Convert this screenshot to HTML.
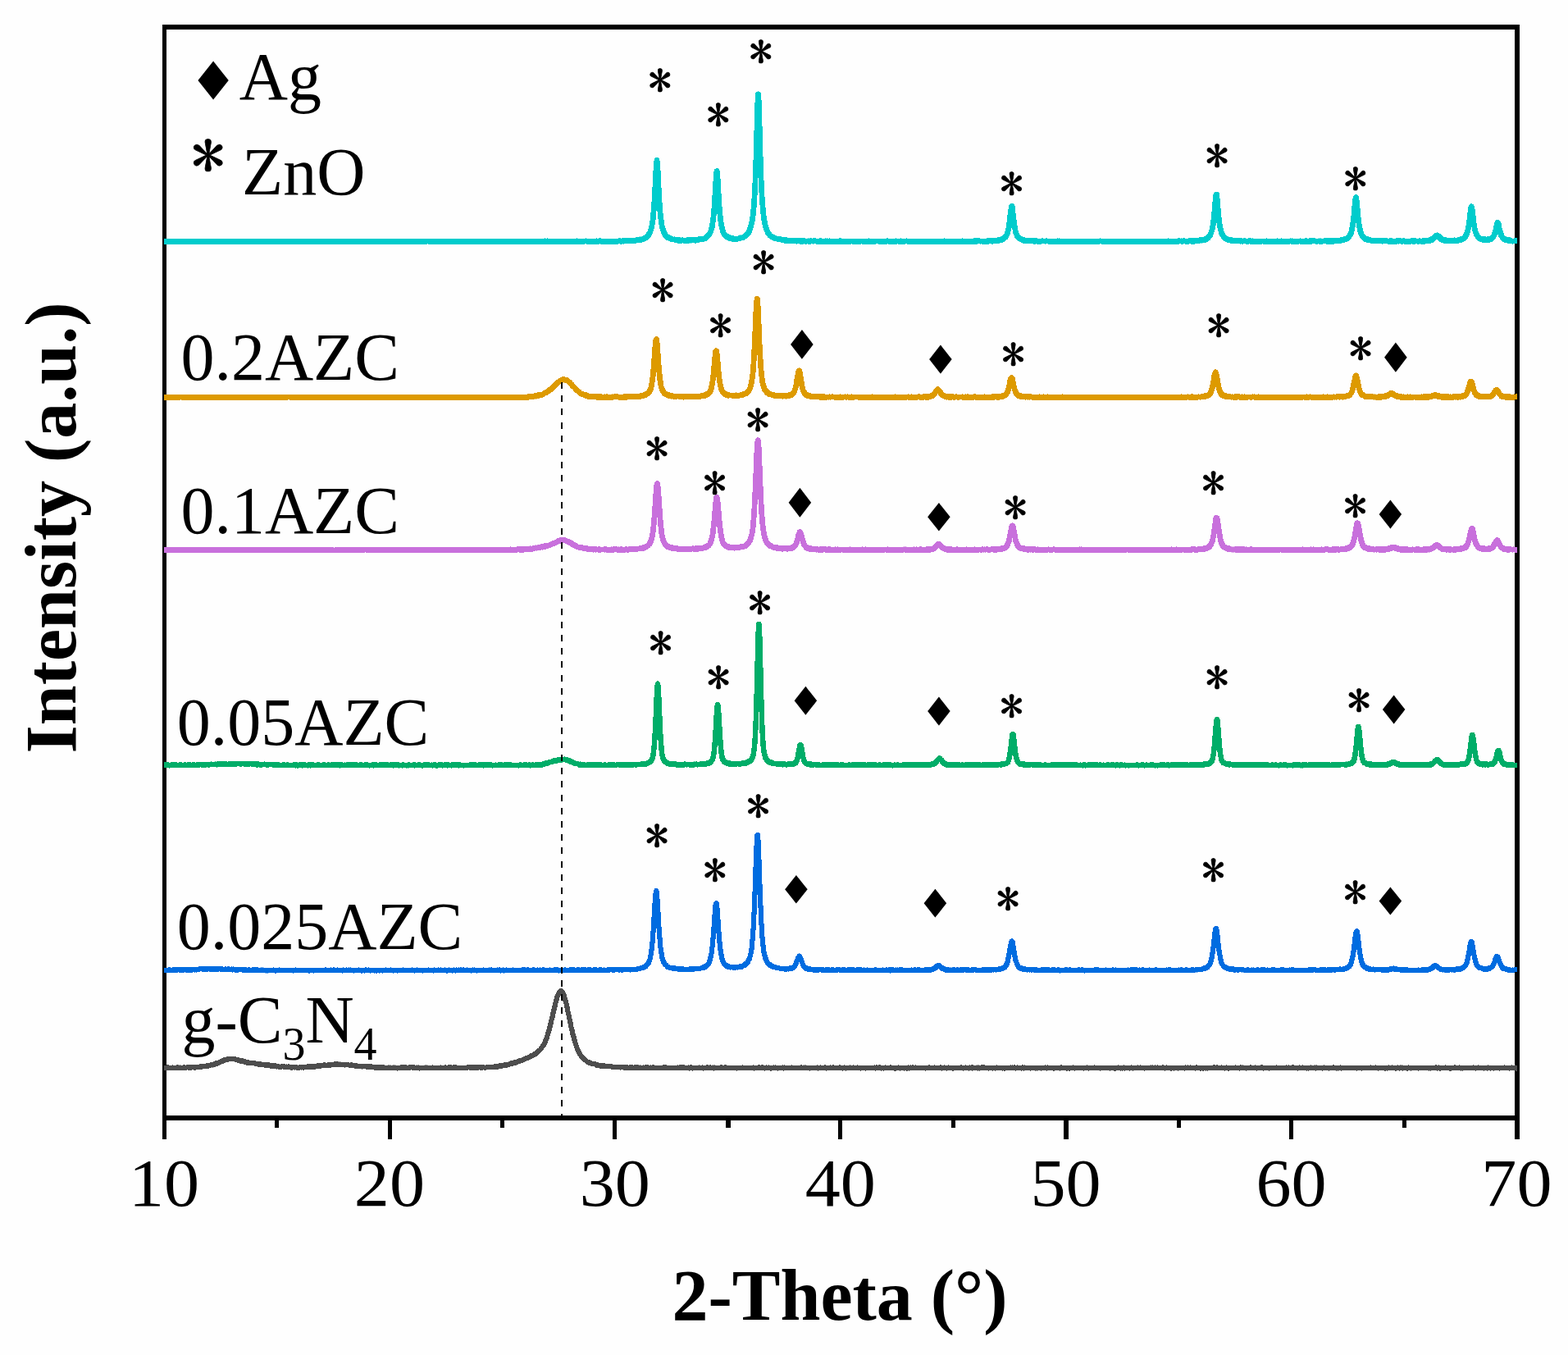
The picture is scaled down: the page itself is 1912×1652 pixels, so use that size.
<!DOCTYPE html><html><head><meta charset="utf-8"><title>XRD</title><style>html,body{margin:0;padding:0;background:#fefefe;overflow:hidden}svg{display:block}</style></head><body>
<svg xmlns="http://www.w3.org/2000/svg" width="1912" height="1652" viewBox="0 0 1912 1652" font-family="'Liberation Serif', serif">
<rect width="1912" height="1652" fill="#fefefe"/>
<g fill="#000">
<rect x="198" y="30" width="5" height="1336"/>
<rect x="1847" y="30" width="6" height="1336"/>
<rect x="198" y="30" width="1655" height="6"/>
<rect x="198" y="1360" width="1655" height="6"/>
<rect x="198" y="1366" width="5" height="23"/>
<rect x="335" y="1366" width="5" height="9"/>
<rect x="473" y="1366" width="5" height="23"/>
<rect x="610" y="1366" width="5" height="9"/>
<rect x="747" y="1366" width="5" height="23"/>
<rect x="885" y="1366" width="6" height="9"/>
<rect x="1022" y="1366" width="5" height="23"/>
<rect x="1160" y="1366" width="5" height="9"/>
<rect x="1297" y="1366" width="6" height="23"/>
<rect x="1435" y="1366" width="5" height="9"/>
<rect x="1572" y="1366" width="5" height="23"/>
<rect x="1710" y="1366" width="5" height="9"/>
<rect x="1847" y="1366" width="6" height="23"/>
</g>
<g font-size="82" text-anchor="middle" fill="#000">
<text transform="translate(200.0 1469.5) scale(1.05 1)">10</text>
<text transform="translate(474.9 1469.5) scale(1.05 1)">20</text>
<text transform="translate(749.8 1469.5) scale(1.05 1)">30</text>
<text transform="translate(1024.7 1469.5) scale(1.05 1)">40</text>
<text transform="translate(1299.6 1469.5) scale(1.05 1)">50</text>
<text transform="translate(1574.5 1469.5) scale(1.05 1)">60</text>
<text transform="translate(1849.4 1469.5) scale(1.05 1)">70</text>
</g>
<text x="1024" y="1609" font-size="88" font-weight="bold" text-anchor="middle">2-Theta (&#176;)</text>
<text transform="translate(92 643.5) rotate(-90)" font-size="88" font-weight="bold" text-anchor="middle">Intensity (a.u.)</text>
<path fill="#00cccc" shape-rendering="crispEdges" d="M200.0,291.47l.5,0l1,-.02l1,-.48l1,-.15l1,.15l1,.07l1,.14l1,-.38l1,-.16l1,-.07l1,.15l1,.3l1,-.33l1,-.15l1,.15l1,.25l1,-.15l1,.15l1,-.21l1,-.16l1,0l1,.15l1,.39l1,-.2l1,-.13l1,-.06l1,-.15l1,.14l1,.22l1,.02l1,-.15l1,-.01l1,-.01l1,.15l1,-.22l1,-.15l1,.15l1,.44l1,-.25l1,-.15l1,.15l1,-.08l1,-.15l1,.15l1,.24l1,.26l1,-.16l1,-.16l1,.16l1,-.14l1,-.15l1,.15l1,.32l1,-.09l1,-.15l1,-.37l1,-.15l1,.14l1,.24l1,-.08l1,-.15l1,.15l1,.38l1,-.16l1,-.15l1,.06l1,.08l1,.16l1,-.17l1,-.11l1,-.25l1,-.15l1,.02l1,.15l1,.5l1,-.13l1,-.24l1,-.14l1,.15l1,.36l1,.04l1,-.15l1,-.18l1,-.16l1,.16l1,.3l1,-.1l1,-.18l1,-.13l1,.15l1,-.29l1,-.15l1,.15l1,.5l1,.27l1,-.12l1,-.09l1,-.15l1,.01l1,-.37l1,-.15l1,.15l1,.16l1,-.15l1,.15l1,.13l1,-.11l1,-.01l1,.14l1,.15l1,-.06l1,-.43l1,-.15l1,.14l1,.02l1,.15l1,.42l1,.12l1,-.01l1,-.44l1,-.15l1,.15l1,-.19l1,-.16l1,-.06l1,-.01l1,.15l1,.07l1,-.11l1,.15l1,-.05l1,-.15l1,.09l1,.16l1,-.14l1,.09l1,.18l1,.01l1,-.11l1,-.18l1,-.15l1,.15l1,.18l1,-.16l1,-.07l1,.15l1,.11l1,-.15l1,.15l1,-.21l1,-.15l1,0l1,.1l1,.19l1,-.14l1,.15l1,.39l1,-.32l1,-.15l1,.15l1,.32l1,-.32l1,-.15l1,.15l1,.04l1,.07l1,-.15l1,-.14l1,-.15l1,.15l1,.26l1,.01l1,-.15l1,.15l1,-.14l1,.15l1,.11l1,-.2l1,-.25l1,-.15l1,.15l1,-.11l1,.15l1,.5l1,-.36l1,-.15l1,.15l1,.5l1,-.14l1,-.17l1,-.11l1,-.07l1,-.12l1,.15l1,-.02l1,-.16l1,-.08l1,.15l1,.06l1,.14l1,-.11l1,.15l1,-.34l1,-.15l1,.14l1,.17l1,.18l1,.02l1,-.19l1,-.1l1,.15l1,.45l1,-.31l1,-.15l1,.15l1,.15l1,-.14l1,-.13l1,-.15l1,-.01l1,-.15l1,.07l1,.17l1,-.1l1,.15l1,.27l1,-.1l1,-.16l1,-.03l1,-.05l1,.15l1,.2l1,.13l1,-.5l1,-.15l1,.12l1,-.16l1,-.07l1,.04l1,.15l1,.5l1,-.2l1,-.15l1,.15l1,.04l1,-.15l1,-.02l1,-.2l1,-.11l1,.13l1,.22l1,.18l1,.03l1,-.21l1,-.14l1,.15l1,-.29l1,-.15l1,.15l1,-.06l1,.02l1,.07l1,-.15l1,.14l1,.23l1,-.13l1,-.15l1,.05l1,.07l1,.01l1,-.15l1,.15l1,.15l1,.15l1,-.09l1,-.15l1,-.04l1,-.02l1,-.15l1,.08l1,-.15l1,-.03l1,.15l1,.16l1,.15l1,-.02l1,-.24l1,-.15l1,.16l1,.5l1,-.45l1,-.15l1,.09l1,.17l1,.36l1,-.15l1,.12l1,-.28l1,-.15l1,.15l1,-.11l1,-.11l1,-.13l1,.14l1,.23l1,.04l1,.14l1,.07l1,-.13l1,-.16l1,-.08l1,.02l1,-.01l1,.15l1,-.02l1,-.15l1,.04l1,.14l1,.13l1,-.22l1,-.25l1,-.15l1,.15l1,-.09l1,.15l1,-.15l1,0l1,.15l1,.09l1,.15l1,.07l1,-.22l1,-.15l1,.15l1,-.09l1,-.15l1,.15l1,-.04l1,.15l1,.49l1,-.33l1,-.24l1,-.15l1,.15l1,.21l1,-.15l1,-.02l1,-.15l1,.03l1,-.15l1,.15l1,.31l1,.39l1,.09l1,-.07l1,-.09l1,-.47l1,-.15l1,.13l1,-.15l1,.15l1,.1l1,-.22l1,-.14l1,.15l1,.5l1,-.11l1,-.01l1,.05l1,-.16l1,-.06l1,-.07l1,-.19l1,-.14l1,.15l1,.28l1,-.24l1,-.15l1,.15l1,-.07l1,-.02l1,.11l1,.19l1,0l1,.01l1,-.04l1,-.25l1,-.15l1,.15l1,.39l1,.08l1,-.14l1,.14l1,-.22l1,-.15l1,.15l1,-.01l1,-.15l1,.13l1,.19l1,.2l1,-.32l1,-.15l1,-.1l1,-.15l1,.03l1,.15l1,.09l1,-.15l1,.15l1,.17l1,-.15l1,.15l1,.06l1,-.15l1,.15l1,.21l1,-.11l1,.15l1,.17l1,-.22l1,-.42l1,-.15l1,.07l1,-.02l1,.15l1,-.19l1,-.15l1,.15l1,.33l1,-.15l1,-.05l1,-.15l1,.01l1,-.15l1,.15l1,.5l1,-.26l1,-.15l1,.15l1,-.14l1,-.15l1,.15l1,.5l1,-.08l1,-.09l1,-.15l1,.15l1,-.07l1,-.15l1,.15l1,-.24l1,-.15l1,.1l1,-.14l1,.15l1,-.01l1,-.15l1,.15l1,-.01l1,-.15l1,.13l1,.01l1,-.12l1,-.15l1,.14l1,.03l1,-.15l1,.15l1,.49l1,-.29l1,-.15l1,.07l1,.15l1,-.15l1,.12l1,-.15l1,.15l1,.42l1,.04l1,-.14l1,-.16l1,-.05l1,.15l1,.07l1,-.21l1,-.16l1,-.15l1,-.14l1,.15l1,-.14l1,.15l1,.32l1,.15l1,.04l1,-.5l1,-.15l1,.15l1,.19l1,-.15l1,.13l1,-.09l1,-.24l1,-.15l1,.15l1,.29l1,-.12l1,.09l1,.16l1,.08l1,-.13l1,.01l1,-.21l1,-.21l1,-.14l1,.15l1,.29l1,.35l1,-.1l1,-.16l1,.09l1,-.15l1,.09l1,-.15l1,.15l1,-.13l1,-.19l1,-.12l1,.15l1,.17l1,-.37l1,-.15l1,.15l1,.3l1,-.03l1,.15l1,.03l1,.12l1,.16l1,-.26l1,-.15l1,.14l1,0l1,0l1,-.14l1,-.15l1,.14l1,.08l1,.16l1,-.02l1,.04l1,-.09l1,-.06l1,-.3l1,-.17l1,-.09l1,.15l1,.21l1,-.43l1,-.15l1,.15l1,.16l1,-.4l1,-.15l1,.15l1,.3l1,-.18l1,-.09l1,-.33l1,-.15l1,.15l1,.44l1,-.3l1,-.15l1,.1l1,-.47l1,-.17l1,-.11l1,-.1l1,-.39l1,-.15l1,.15l1,-.43l1,-.47l1,-.5l1,-.48l1,-.78l1,-.98l1,-1.47l1,-1.47l1,-3.41l1,-3.94l1,-5.75l1,-9.32l1,-13.41l1,-18.16l1,-20.32l1,-12.01l1,-2.71l1,-.75l1,-.31l1,0l1,.31l1,.75l1,2.67l1,12.5l1,21.07l1,17.94l1,13.05l1,8.19l1,6.18l1,3.81l1,3.1l1,1.76l1,2.02l1,.61l1,.5l1,.56l1,.45l1,.39l1,.51l1,.27l1,-.06l1,.15l1,.25l1,.16l1,.38l1,-.34l1,-.16l1,.16l1,.45l1,-.15l1,.08l1,.16l1,.09l1,-.15l1,.15l1,-.26l1,-.15l1,-.02l1,-.15l1,.09l1,.03l1,-.15l1,.14l1,-.15l1,.15l1,.12l1,-.5l1,-.16l1,-.06l1,-.12l1,-.15l1,-.09l1,-.25l1,-.3l1,-.15l1,0l1,-.68l1,-.79l1,-.61l1,-1.15l1,-1.25l1,-2.3l1,-3.63l1,-4.77l1,-7.22l1,-11.27l1,-15.62l1,-17.08l1,-11.83l1,-3.04l1,-.81l1,-.35l1,-.03l1,.28l1,.69l1,2.15l1,9.59l1,17.82l1,16.45l1,10.94l1,7.7l1,5.69l1,3.41l1,2.66l1,1.23l1,.91l1,.69l1,.84l1,.18l1,.46l1,-.04l1,.15l1,.49l1,.15l1,.39l1,-.06l1,-.14l1,0l1,-.67l1,-.5l1,-.15l1,.08l1,-.14l1,-.53l1,-.97l1,-.73l1,-1.27l1,-1.25l1,-1.98l1,-2.21l1,-2.88l1,-4.64l1,-6.03l1,-8.66l1,-13.06l1,-19.02l1,-28.26l1,-36.16l1,-33.71l1,-11.85l1,-1.15l1,-.5l1,-.15l1,.15l1,.5l1,1.15l1,8.48l1,32.19l1,36.96l1,28.85l1,20.17l1,13.48l1,9.77l1,6.2l1,5.07l1,3.01l1,2.73l1,1.5l1,1.7l1,1.31l1,.66l1,.77l1,.48l1,.51l1,.38l1,.19l1,.14l1,.15l1,.44l1,-.11l1,.15l1,.32l1,.25l1,.37l1,-.14l1,.15l1,0l1,.15l1,.36l1,.11l1,-.14l1,.15l1,.02l1,.15l1,-.04l1,.15l1,-.32l1,-.15l1,.07l1,.16l1,-.04l1,-.13l1,.15l1,.28l1,.24l1,-.16l1,.16l1,-.28l1,-.15l1,.15l1,.48l1,-.07l1,-.06l1,-.13l1,.15l1,-.22l1,-.15l1,.15l1,.22l1,-.16l1,-.15l1,.12l1,.08l1,.14l1,.24l1,.28l1,-.17l1,-.49l1,-.16l1,.16l1,.25l1,-.15l1,.14l1,-.17l1,-.15l1,.15l1,-.15l1,.15l1,.13l1,-.15l1,.15l1,.09l1,.15l1,-.12l1,-.15l1,.14l1,.24l1,-.3l1,-.15l1,.15l1,0l1,-.21l1,-.15l1,.15l1,.5l1,.22l1,-.41l1,-.15l1,.15l1,.04l1,.15l1,-.22l1,-.15l1,.05l1,.15l1,-.15l1,-.15l1,.06l1,.16l1,.3l1,.08l1,-.15l1,-.26l1,-.15l1,.15l1,-.01l1,.14l1,-.15l1,-.05l1,.12l1,.13l1,-.11l1,-.02l1,-.15l1,.15l1,.33l1,-.46l1,-.15l1,.15l1,.3l1,.2l1,.13l1,-.34l1,-.15l1,.13l1,-.19l1,-.14l1,.01l1,.08l1,-.13l1,.15l1,.45l1,-.07l1,-.22l1,-.15l1,-.03l1,.15l1,.21l1,-.42l1,-.15l1,.02l1,.15l1,.07l1,-.15l1,.11l1,.19l1,.13l1,-.15l1,.15l1,-.34l1,-.15l1,.15l1,-.02l1,.09l1,.18l1,-.23l1,-.15l1,.04l1,.15l1,-.12l1,.14l1,-.06l1,-.14l1,-.02l1,.1l1,.17l1,.29l1,-.18l1,-.15l1,.15l1,-.11l1,.15l1,-.1l1,.15l1,-.11l1,.15l1,.16l1,.11l1,-.14l1,-.07l1,-.15l1,.15l1,.06l1,-.08l1,.04l1,-.07l1,-.12l1,.15l1,.1l1,-.47l1,-.15l1,.15l1,-.02l1,.04l1,.15l1,.04l1,-.15l1,.02l1,.15l1,.06l1,-.24l1,-.15l1,.15l1,.29l1,.04l1,0l1,.15l1,-.07l1,-.5l1,-.15l1,.15l1,.13l1,-.15l1,.14l1,-.15l1,.15l1,-.07l1,.15l1,.12l1,-.15l1,-.05l1,-.15l1,.15l1,.09l1,-.14l1,-.15l1,.15l1,.01l1,.15l1,.2l1,-.5l1,-.15l1,.15l1,.5l1,-.1l1,-.15l1,.13l1,.09l1,-.15l1,.15l1,-.07l1,-.14l1,.13l1,-.15l1,-.26l1,-.15l1,.12l1,-.15l1,.09l1,-.15l1,.03l1,.06l1,.03l1,.15l1,.04l1,-.09l1,.15l1,.37l1,-.15l1,.11l1,-.48l1,-.15l1,.08l1,-.15l1,.15l1,-.21l1,-.15l1,.15l1,0l1,-.15l1,.03l1,-.15l1,.15l1,-.31l1,-.5l1,-.16l1,-.03l1,-.5l1,-.21l1,-.64l1,-.55l1,-1.01l1,-1.53l1,-3.07l1,-3.81l1,-6.73l1,-8.69l1,-7.74l1,-4.5l1,-1.45l1,-.58l1,-.22l1,.09l1,.42l1,.96l1,2.12l1,8.3l1,8.67l1,7.05l1,5.27l1,2.86l1,2.05l1,1.45l1,.78l1,.28l1,.5l1,.09l1,.25l1,.5l1,.42l1,-.15l1,.15l1,.19l1,.1l1,-.07l1,-.14l1,.15l1,.15l1,-.12l1,.15l1,.03l1,-.13l1,.15l1,.44l1,.13l1,-.11l1,-.13l1,-.21l1,-.14l1,.11l1,.13l1,-.05l1,.03l1,-.15l1,-.01l1,.11l1,-.02l1,.16l1,.02l1,-.15l1,.15l1,.26l1,.03l1,-.08l1,-.19l1,-.14l1,.03l1,-.15l1,.14l1,-.15l1,.15l1,.21l1,.15l1,-.27l1,-.15l1,.1l1,-.15l1,.13l1,.17l1,-.06l1,.15l1,.08l1,-.15l1,.01l1,-.15l1,.15l1,-.01l1,-.13l1,-.15l1,.15l1,-.02l1,.15l1,-.05l1,.15l1,.18l1,.03l1,-.25l1,-.22l1,-.14l1,.15l1,.13l1,.15l1,.25l1,-.48l1,-.15l1,.15l1,.16l1,-.15l1,-.04l1,.06l1,-.15l1,.15l1,.49l1,-.2l1,-.15l1,-.13l1,-.15l1,.15l1,-.14l1,-.15l1,.1l1,.11l1,.16l1,.04l1,.1l1,-.07l1,-.15l1,.15l1,.3l1,-.04l1,-.15l1,.15l1,.28l1,-.37l1,-.19l1,-.18l1,-.13l1,.15l1,-.12l1,.15l1,-.09l1,-.15l1,.12l1,.21l1,.21l1,.15l1,-.49l1,-.15l1,.09l1,-.15l1,.15l1,.29l1,.15l1,-.28l1,-.15l1,.15l1,.01l1,-.15l1,.12l1,.21l1,.17l1,-.5l1,-.15l1,.15l1,.28l1,-.16l1,-.16l1,-.03l1,.15l1,-.12l1,-.14l1,.15l1,.45l1,-.07l1,-.15l1,.15l1,.29l1,-.03l1,-.27l1,-.15l1,.15l1,-.07l1,.15l1,-.07l1,.07l1,-.16l1,-.05l1,.02l1,-.2l1,-.13l1,.15l1,.13l1,-.15l1,.15l1,.4l1,-.26l1,-.15l1,.15l1,.1l1,-.45l1,-.15l1,.03l1,-.15l1,.15l1,.19l1,.03l1,.13l1,.14l1,-.07l1,-.1l1,.12l1,-.03l1,-.15l1,.04l1,-.41l1,-.15l1,.12l1,.16l1,-.08l1,.05l1,-.16l1,-.05l1,.13l1,.21l1,.21l1,.29l1,-.43l1,-.49l1,-.15l1,-.01l1,.15l1,.11l1,-.15l1,.15l1,.07l1,-.06l1,-.5l1,-.15l1,.02l1,.06l1,-.32l1,-.15l1,.07l1,-.22l1,-.29l1,-.17l1,-.58l1,-.38l1,-.73l1,-.85l1,-1.11l1,-2.2l1,-3.17l1,-4.38l1,-7.05l1,-9.98l1,-12.32l1,-9.08l1,-1.67l1,-.97l1,-.5l1,-.15l1,.15l1,.5l1,1.15l1,6.16l1,12.13l1,10.87l1,8.17l1,5.61l1,3.39l1,2.77l1,1.27l1,1.54l1,.62l1,.47l1,.29l1,.01l1,.15l1,.5l1,.08l1,.16l1,.35l1,.39l1,.03l1,-.07l1,-.13l1,.09l1,.18l1,-.14l1,-.16l1,-.15l1,.15l1,.43l1,-.3l1,-.15l1,.15l1,.37l1,.3l1,-.35l1,-.18l1,-.1l1,.05l1,.16l1,.05l1,-.15l1,.15l1,.49l1,-.34l1,-.15l1,.15l1,-.03l1,-.15l1,.15l1,.22l1,-.01l1,-.14l1,-.07l1,.11l1,.13l1,-.04l1,-.27l1,-.15l1,.11l1,.18l1,.31l1,.01l1,-.25l1,-.15l1,.1l1,-.14l1,-.06l1,.15l1,.34l1,-.5l1,-.15l1,.15l1,.19l1,.14l1,-.29l1,-.15l1,.15l1,.36l1,.17l1,-.22l1,-.14l1,.15l1,-.03l1,-.15l1,.13l1,-.29l1,-.15l1,.15l1,-.07l1,.15l1,.31l1,.15l1,.11l1,0l1,-.38l1,-.15l1,.07l1,-.15l1,-.11l1,.15l1,.03l1,-.15l1,.15l1,-.08l1,-.16l1,-.07l1,.06l1,.16l1,-.01l1,-.16l1,-.06l1,.15l1,-.01l1,-.15l1,-.01l1,.13l1,.06l1,.09l1,.1l1,-.16l1,-.02l1,-.04l1,.15l1,-.14l1,.15l1,.02l1,-.11l1,-.22l1,-.16l1,.13l1,.19l1,-.02l1,-.16l1,-.07l1,.01l1,-.15l1,.15l1,-.06l1,-.15l1,.06l1,-.2l1,-.13l1,.14l1,.06l1,.08l1,-.15l1,-.09l1,-.5l1,-.16l1,-.22l1,-.15l1,-.38l1,-.46l1,-.13l1,-.91l1,-1.23l1,-1.49l1,-2.19l1,-4.51l1,-6.25l1,-8.32l1,-11.7l1,-9.27l1,-3.29l1,-1.04l1,-.46l1,-.12l1,.18l1,.54l1,1.28l1,4.81l1,10.43l1,10.92l1,8.06l1,5.16l1,3.58l1,2.75l1,1.28l1,.81l1,.89l1,.3l1,.3l1,.44l1,.24l1,.38l1,.37l1,.16l1,.15l1,.04l1,-.04l1,.16l1,.13l1,-.05l1,.06l1,-.1l1,-.08l1,-.15l1,.12l1,.18l1,-.15l1,.09l1,-.01l1,.06l1,-.15l1,.15l1,.35l1,.22l1,-.46l1,-.15l1,.15l1,-.01l1,.12l1,.2l1,.26l1,-.08l1,-.5l1,-.15l1,.15l1,.03l1,-.15l1,.02l1,.15l1,.1l1,-.16l1,-.06l1,.14l1,.28l1,.12l1,.15l1,-.11l1,.11l1,-.16l1,-.1l1,-.3l1,-.15l1,-.01l1,.15l1,-.07l1,-.15l1,.12l1,.16l1,.01l1,.06l1,-.16l1,.04l1,.13l1,-.06l1,-.15l1,-.25l1,-.06l1,.14l1,.12l1,-.15l1,.01l1,-.31l1,-.42l1,-.38l1,-.65l1,-.6l1,-1.14l1,-.59l1,-1.11l1,-.87l1,-.38l1,-.22l1,-.06l1,.24l1,.64l1,.4l1,.54l1,.96l1,1.05l1,.84l1,.71l1,.49l1,.15l1,-.03l1,.09l1,.24l1,0l1,-.15l1,.05l1,.19l1,-.15l1,.15l1,-.31l1,-.15l1,.09l1,.16l1,-.13l1,-.32l1,-.25l1,-.33l1,-.24l1,-.45l1,-.41l1,-.63l1,-1.53l1,-1.95l1,-3.44l1,-4.85l1,-7.01l1,-8.58l1,-7.17l1,-2.55l1,-.96l1,-.42l1,-.09l1,.21l1,.59l1,1.45l1,4.05l1,8.58l1,8.48l1,6.01l1,4.09l1,2.5l1,1.6l1,1.12l1,.7l1,.24l1,.24l1,.21l1,-.02l1,.06l1,.05l1,-.09l1,-.07l1,-.15l1,-.46l1,-.74l1,-1.02l1,-2.73l1,-3.38l1,-4.67l1,-4.2l1,-1.81l1,-.95l1,-.42l1,-.09l1,.21l1,.59l1,1.38l1,2.26l1,5.37l1,3.9l1,2.94l1,2.27l1,1.08l1,.65l1,.47l1,.15l1,.22l1,.16l1,.1l1,.38l1,.54l1,.15l1,.04l1,-.46l1,-.16l1,.16l1,.34l.5,0l0,6.8l-.5,0l-1,0l-1,-.1l-1,.19l-1,.12l-1,.07l-1,-.15l-1,-.09l-1,-.09l-1,-.16l-1,-.13l-1,-.38l-1,-.15l-1,-.43l-1,-.13l-1,-.24l-1,-.62l-1,-.33l-1,-.5l-1,-1.14l-1,-1.2l-1,-1.33l-1,-1.99l-1,-2.86l-1,1.12l-1,2.69l-1,1.43l-1,1.19l-1,1.38l-1,.71l-1,.5l-1,.52l-1,.22l-1,.2l-1,.38l-1,.06l-1,-.08l-1,.06l-1,-.1l-1,.08l-1,.03l-1,-.09l-1,-.3l-1,-.37l-1,-.13l-1,-.4l-1,-.63l-1,-.28l-1,-.64l-1,-.86l-1,-1.34l-1,-1.76l-1,-1.48l-1,-2.46l-1,-3.46l-1,-4.67l-1,2.7l-1,4.53l-1,2.88l-1,2.22l-1,1.15l-1,1.43l-1,.88l-1,.66l-1,.88l-1,.38l-1,.5l-1,.4l-1,.21l-1,.16l-1,.3l-1,.21l-1,-.09l-1,.38l-1,.15l-1,-.15l-1,.09l-1,.15l-1,-.15l-1,-.34l-1,.15l-1,.24l-1,.2l-1,-.01l-1,-.12l-1,.2l-1,-.06l-1,-.17l-1,-.06l-1,-.39l-1,-.49l-1,-.06l-1,-.38l-1,-.47l-1,-.71l-1,-.78l-1,-1.1l-1,-1.15l-1,.54l-1,.87l-1,.95l-1,.62l-1,1.03l-1,.5l-1,.2l-1,.42l-1,.5l-1,.15l-1,.1l-1,-.06l-1,.03l-1,-.01l-1,.35l-1,.09l-1,-.22l-1,.2l-1,.15l-1,-.15l-1,-.44l-1,.39l-1,.15l-1,-.15l-1,-.38l-1,-.04l-1,.5l-1,.15l-1,-.14l-1,-.22l-1,-.26l-1,.16l-1,.09l-1,.29l-1,.15l-1,-.03l-1,.15l-1,-.15l-1,-.13l-1,-.15l-1,-.43l-1,.22l-1,.15l-1,-.13l-1,-.23l-1,.11l-1,.15l-1,-.11l-1,.5l-1,.16l-1,-.16l-1,-.02l-1,-.15l-1,-.29l-1,.04l-1,.15l-1,.08l-1,.15l-1,-.14l-1,-.16l-1,-.16l-1,-.29l-1,.12l-1,-.15l-1,-.07l-1,.41l-1,.15l-1,-.15l-1,-.45l-1,.15l-1,-.1l-1,.1l-1,-.08l-1,.16l-1,.15l-1,-.15l-1,-.21l-1,.15l-1,-.15l-1,-.08l-1,-.15l-1,-.47l-1,-.08l-1,.03l-1,-.28l-1,-.25l-1,-.28l-1,-.55l-1,-.43l-1,-.46l-1,-.89l-1,-.69l-1,-1.38l-1,-1.17l-1,-1.6l-1,-2.39l-1,-2.98l-1,-5.11l-1,-5.68l-1,4.8l-1,4.9l-1,3.72l-1,2.36l-1,1.4l-1,1.8l-1,.99l-1,.85l-1,.81l-1,.64l-1,.35l-1,.03l-1,.58l-1,.61l-1,.34l-1,.03l-1,-.21l-1,.39l-1,.27l-1,.15l-1,-.15l-1,.12l-1,-.12l-1,-.05l-1,.12l-1,.5l-1,.15l-1,-.01l-1,.15l-1,-.05l-1,.03l-1,.15l-1,-.15l-1,-.08l-1,.15l-1,-.09l-1,-.18l-1,-.2l-1,.15l-1,-.03l-1,.14l-1,.1l-1,.24l-1,.15l-1,-.15l-1,-.5l-1,.16l-1,.15l-1,-.14l-1,-.21l-1,0l-1,-.13l-1,.14l-1,.23l-1,.15l-1,-.15l-1,.36l-1,.15l-1,-.1l-1,-.18l-1,-.22l-1,.5l-1,.15l-1,-.05l-1,-.15l-1,-.3l-1,.01l-1,-.15l-1,-.12l-1,.15l-1,.5l-1,.15l-1,-.15l-1,-.08l-1,.1l-1,-.15l-1,-.26l-1,-.15l-1,-.05l-1,-.15l-1,.26l-1,.15l-1,-.11l-1,.15l-1,.02l-1,-.15l-1,.3l-1,.15l-1,-.15l-1,-.34l-1,.12l-1,.15l-1,-.13l-1,.01l-1,.15l-1,.04l-1,.15l-1,-.03l-1,.14l-1,-.15l-1,-.5l-1,-.01l-1,.11l-1,.15l-1,-.02l-1,.2l-1,.15l-1,-.15l-1,-.09l-1,.15l-1,-.15l-1,-.23l-1,-.1l-1,-.13l-1,.12l-1,.14l-1,.05l-1,.15l-1,-.15l-1,.19l-1,.15l-1,-.15l-1,-.03l-1,.15l-1,-.15l-1,-.3l-1,.29l-1,.15l-1,-.15l-1,-.5l-1,.31l-1,.15l-1,-.09l-1,-.17l-1,-.24l-1,-.3l-1,.37l-1,.15l-1,-.02l-1,-.15l-1,.11l-1,-.15l-1,-.1l-1,-.14l-1,-.18l-1,.13l-1,.05l-1,.12l-1,-.15l-1,-.34l-1,-.18l-1,.15l-1,-.15l-1,-.49l-1,-.19l-1,-.12l-1,-.22l-1,-.32l-1,-.42l-1,-.5l-1,-.79l-1,-.56l-1,-.69l-1,-1.33l-1,-1.66l-1,-1.25l-1,-2.41l-1,-3.77l-1,-3.91l-1,-6.25l-1,3.32l-1,4.84l-1,3.5l-1,2.97l-1,2.62l-1,1.43l-1,1.03l-1,1.15l-1,.64l-1,.64l-1,.75l-1,.5l-1,.46l-1,.25l-1,.06l-1,-.06l-1,.5l-1,.16l-1,-.16l-1,.26l-1,.5l-1,.15l-1,-.15l-1,-.1l-1,.15l-1,.01l-1,.39l-1,.15l-1,-.15l-1,.07l-1,-.12l-1,-.2l-1,.07l-1,.29l-1,.21l-1,.13l-1,-.13l-1,-.19l-1,-.31l-1,-.03l-1,.5l-1,.15l-1,-.15l-1,-.45l-1,-.08l-1,.5l-1,.15l-1,-.15l-1,.07l-1,.15l-1,-.14l-1,-.2l-1,.08l-1,.06l-1,-.08l-1,-.14l-1,.38l-1,.15l-1,-.15l-1,-.2l-1,-.14l-1,.25l-1,.23l-1,.15l-1,-.16l-1,-.08l-1,.03l-1,.07l-1,-.15l-1,.14l-1,-.15l-1,-.28l-1,0l-1,.16l-1,-.13l-1,.34l-1,.15l-1,-.12l-1,.15l-1,-.15l-1,.12l-1,-.15l-1,-.05l-1,.13l-1,.04l-1,.13l-1,-.15l-1,.03l-1,.12l-1,-.15l-1,-.46l-1,.38l-1,.15l-1,-.15l-1,-.08l-1,.15l-1,-.07l-1,.15l-1,-.15l-1,.1l-1,.14l-1,-.09l-1,-.18l-1,-.39l-1,.15l-1,-.01l-1,-.04l-1,.39l-1,.15l-1,-.15l-1,-.44l-1,.13l-1,.15l-1,.1l-1,.15l-1,.02l-1,-.15l-1,.04l-1,-.15l-1,-.4l-1,.17l-1,.09l-1,.15l-1,.15l-1,-.15l-1,-.42l-1,.35l-1,.23l-1,.14l-1,-.09l-1,-.11l-1,.15l-1,-.15l-1,-.16l-1,-.15l-1,.12l-1,-.11l-1,.13l-1,.15l-1,-.15l-1,-.49l-1,-.02l-1,.45l-1,.15l-1,.08l-1,.15l-1,-.15l-1,.04l-1,-.05l-1,.14l-1,-.15l-1,-.29l-1,-.15l-1,.14l-1,.25l-1,.14l-1,-.15l-1,.11l-1,.15l-1,-.12l-1,-.17l-1,.15l-1,-.15l-1,-.09l-1,.15l-1,-.11l-1,.03l-1,.14l-1,-.15l-1,-.23l-1,.24l-1,.15l-1,-.15l-1,-.17l-1,.04l-1,.15l-1,-.01l-1,.15l-1,0l-1,.15l-1,-.15l-1,-.35l-1,-.17l-1,-.11l-1,.13l-1,.15l-1,-.1l-1,.16l-1,.09l-1,-.09l-1,.15l-1,-.12l-1,.15l-1,-.15l-1,-.03l-1,-.15l-1,-.07l-1,.13l-1,.18l-1,.15l-1,-.15l-1,-.38l-1,.28l-1,.15l-1,-.15l-1,-.47l-1,-.11l-1,.16l-1,.15l-1,-.13l-1,-.02l-1,-.09l-1,-.1l-1,.4l-1,.15l-1,-.1l-1,.12l-1,.04l-1,-.15l-1,-.33l-1,.18l-1,.15l-1,-.15l-1,-.39l-1,-.04l-1,-.15l-1,.06l-1,.02l-1,-.1l-1,-.03l-1,-.15l-1,.17l-1,.12l-1,-.15l-1,-.25l-1,-.15l-1,-.22l-1,-.5l-1,-.44l-1,-.38l-1,-.65l-1,-.5l-1,-.59l-1,-1.33l-1,-1.02l-1,-1.35l-1,-2.68l-1,-2.17l-1,-4.79l-1,-2.34l-1,4.44l-1,3.75l-1,2.13l-1,2.16l-1,1.52l-1,.88l-1,1.01l-1,.79l-1,.64l-1,.25l-1,.56l-1,.25l-1,.15l-1,.37l-1,.09l-1,.2l-1,.37l-1,.15l-1,-.15l-1,.16l-1,.15l-1,.03l-1,.15l-1,-.08l-1,-.17l-1,-.1l-1,.15l-1,.19l-1,.15l-1,-.09l-1,.15l-1,.01l-1,.01l-1,.16l-1,.09l-1,-.15l-1,-.46l-1,.13l-1,-.15l-1,-.26l-1,.03l-1,.5l-1,.15l-1,-.15l-1,-.09l-1,.02l-1,.15l-1,.22l-1,.15l-1,-.15l-1,-.14l-1,.14l-1,-.03l-1,.15l-1,-.15l-1,-.25l-1,.31l-1,.15l-1,.04l-1,-.15l-1,-.15l-1,.14l-1,-.11l-1,-.18l-1,.08l-1,-.15l-1,-.02l-1,.3l-1,.15l-1,-.1l-1,.15l-1,-.15l-1,.11l-1,-.01l-1,-.1l-1,.15l-1,-.11l-1,.15l-1,-.15l-1,-.11l-1,-.15l-1,.01l-1,.15l-1,.07l-1,.11l-1,-.15l-1,-.16l-1,.1l-1,-.15l-1,-.27l-1,.16l-1,.07l-1,.06l-1,-.15l-1,.02l-1,.15l-1,-.1l-1,-.17l-1,.08l-1,.15l-1,-.11l-1,.17l-1,.22l-1,.15l-1,-.15l-1,-.25l-1,.03l-1,-.02l-1,.09l-1,.06l-1,.06l-1,.15l-1,-.15l-1,.12l-1,-.14l-1,.09l-1,.01l-1,.15l-1,-.15l-1,-.32l-1,.03l-1,.15l-1,-.15l-1,.27l-1,.15l-1,-.15l-1,-.48l-1,-.33l-1,.09l-1,.15l-1,.04l-1,.3l-1,.15l-1,-.15l-1,-.05l-1,.17l-1,.08l-1,-.15l-1,-.47l-1,.13l-1,.06l-1,.16l-1,.08l-1,.27l-1,.15l-1,-.15l-1,-.33l-1,-.08l-1,.15l-1,-.15l-1,-.34l-1,.18l-1,.45l-1,.15l-1,-.15l-1,-.34l-1,.12l-1,.15l-1,-.09l-1,.11l-1,-.13l-1,-.2l-1,-.17l-1,-.1l-1,.04l-1,.2l-1,.12l-1,.28l-1,.16l-1,-.08l-1,-.14l-1,-.01l-1,-.15l-1,-.18l-1,.21l-1,.19l-1,.13l-1,-.15l-1,-.15l-1,-.15l-1,-.01l-1,-.09l-1,-.14l-1,.32l-1,.15l-1,-.15l-1,-.16l-1,.06l-1,.15l-1,.23l-1,.15l-1,-.15l-1,-.29l-1,-.15l-1,-.17l-1,.32l-1,.15l-1,-.15l-1,.14l-1,.15l-1,-.08l-1,-.16l-1,-.1l-1,.31l-1,.15l-1,-.04l-1,-.1l-1,.15l-1,-.15l-1,-.41l-1,.15l-1,.15l-1,-.15l-1,.13l-1,.15l-1,-.15l-1,.1l-1,.15l-1,-.1l-1,-.17l-1,-.27l-1,.26l-1,.15l-1,-.15l-1,-.07l-1,.15l-1,-.11l-1,.15l-1,-.15l-1,-.28l-1,.15l-1,-.15l-1,-.02l-1,.18l-1,.09l-1,.07l-1,-.07l-1,-.16l-1,-.35l-1,-.11l-1,.27l-1,.15l-1,-.15l-1,-.01l-1,.28l-1,.15l-1,-.03l-1,-.16l-1,-.33l-1,.32l-1,.15l-1,-.15l-1,-.23l-1,.15l-1,-.11l-1,.02l-1,.15l-1,-.15l-1,-.47l-1,-.16l-1,.5l-1,.15l-1,-.15l-1,-.38l-1,.24l-1,.15l-1,-.15l-1,-.23l-1,-.15l-1,.12l-1,-.15l-1,-.07l-1,-.02l-1,-.15l-1,.04l-1,.15l-1,-.15l-1,-.44l-1,.12l-1,-.15l-1,-.5l-1,-.52l-1,.08l-1,-.14l-1,-.27l-1,-.2l-1,-.15l-1,-.39l-1,-.1l-1,-.16l-1,-.5l-1,-.38l-1,-.5l-1,-.72l-1,-.47l-1,-.77l-1,-.94l-1,-1.29l-1,-1.05l-1,-1.68l-1,-2.21l-1,-2.66l-1,-2.63l-1,-4.04l-1,-5.48l-1,-7.12l-1,-11.14l-1,-14.94l-1,-18.72l-1,21.65l-1,14.62l-1,9.82l-1,7.14l-1,4.59l-1,3.56l-1,3.1l-1,2.5l-1,1.99l-1,1.23l-1,1.41l-1,1.15l-1,.86l-1,.69l-1,.47l-1,.6l-1,.64l-1,.5l-1,.15l-1,0l-1,.24l-1,.5l-1,.29l-1,.18l-1,.1l-1,.05l-1,.14l-1,-.02l-1,-.02l-1,-.15l-1,.11l-1,-.16l-1,-.5l-1,-.04l-1,-.03l-1,-.35l-1,-.46l-1,-.54l-1,-.4l-1,-.54l-1,-1.09l-1,-.89l-1,-.92l-1,-1.15l-1,-1.78l-1,-2.11l-1,-3.78l-1,-3.63l-1,-6.58l-1,-8.93l-1,2.15l-1,8.01l-1,6.65l-1,3.79l-1,2.87l-1,2.16l-1,1.9l-1,1.04l-1,1.02l-1,.99l-1,1.14l-1,.53l-1,.69l-1,.28l-1,.43l-1,.17l-1,.1l-1,-.15l-1,.17l-1,.35l-1,.4l-1,.5l-1,.15l-1,-.15l-1,.37l-1,.15l-1,0l-1,-.15l-1,-.34l-1,.15l-1,.24l-1,.15l-1,-.15l-1,.33l-1,.15l-1,-.15l-1,.02l-1,.1l-1,-.13l-1,.15l-1,-.15l-1,-.39l-1,.2l-1,.15l-1,-.1l-1,-.08l-1,.15l-1,-.12l-1,-.21l-1,-.41l-1,.02l-1,-.15l-1,-.31l-1,-.15l-1,-.02l-1,-.15l-1,-.5l-1,-.67l-1,-.19l-1,-.43l-1,-.31l-1,-.49l-1,-.74l-1,-.71l-1,-1.1l-1,-1.48l-1,-1.51l-1,-1.98l-1,-3.16l-1,-3.26l-1,-4.76l-1,-6.71l-1,-9.62l-1,-.67l-1,10.67l-1,6.49l-1,5.25l-1,3.08l-1,2.9l-1,1.96l-1,1.62l-1,1.24l-1,.78l-1,.87l-1,.89l-1,.74l-1,.38l-1,.52l-1,.32l-1,.05l-1,.54l-1,.48l-1,.15l-1,-.02l-1,.5l-1,.15l-1,-.15l-1,.07l-1,.21l-1,.14l-1,.02l-1,.35l-1,.15l-1,-.15l-1,-.13l-1,.15l-1,-.15l-1,.24l-1,.15l-1,-.14l-1,-.21l-1,.16l-1,.3l-1,.15l-1,-.15l-1,.13l-1,.15l-1,-.12l-1,-.19l-1,-.06l-1,.26l-1,.14l-1,-.02l-1,.09l-1,0l-1,.13l-1,-.16l-1,-.16l-1,-.12l-1,.15l-1,.03l-1,.03l-1,.09l-1,-.12l-1,.2l-1,.12l-1,-.12l-1,-.05l-1,.15l-1,-.15l-1,-.31l-1,-.03l-1,-.16l-1,.2l-1,.15l-1,.08l-1,-.15l-1,.42l-1,.15l-1,-.15l-1,-.15l-1,.15l-1,.02l-1,.15l-1,-.15l-1,0l-1,.05l-1,-.15l-1,-.31l-1,-.34l-1,.13l-1,.28l-1,.15l-1,-.09l-1,.16l-1,.09l-1,-.15l-1,-.32l-1,.11l-1,0l-1,-.05l-1,.15l-1,-.13l-1,.1l-1,-.06l-1,.15l-1,-.07l-1,.36l-1,.15l-1,-.14l-1,.14l-1,-.15l-1,-.09l-1,-.08l-1,.15l-1,-.15l-1,-.4l-1,.16l-1,.22l-1,.15l-1,.09l-1,-.16l-1,.14l-1,.15l-1,-.13l-1,-.07l-1,-.09l-1,-.18l-1,.05l-1,-.15l-1,.1l-1,-.15l-1,.33l-1,.15l-1,-.15l-1,-.08l-1,-.15l-1,-.05l-1,-.15l-1,.34l-1,.15l-1,-.15l-1,-.34l-1,-.03l-1,.23l-1,.13l-1,.25l-1,.15l-1,-.05l-1,-.15l-1,-.49l-1,-.02l-1,.39l-1,.15l-1,.04l-1,.15l-1,-.05l-1,-.15l-1,-.09l-1,.02l-1,.13l-1,-.06l-1,.04l-1,.15l-1,-.04l-1,-.16l-1,-.09l-1,.19l-1,.13l-1,-.15l-1,-.12l-1,-.15l-1,-.09l-1,.07l-1,.15l-1,-.03l-1,-.07l-1,.15l-1,-.13l-1,-.23l-1,-.2l-1,.23l-1,.41l-1,.15l-1,-.06l-1,-.05l-1,-.16l-1,.02l-1,-.03l-1,.01l-1,.15l-1,-.12l-1,.01l-1,.15l-1,-.1l-1,-.06l-1,.15l-1,-.15l-1,-.39l-1,.14l-1,.15l-1,.15l-1,.15l-1,-.01l-1,-.15l-1,-.35l-1,-.12l-1,.15l-1,.02l-1,.11l-1,.15l-1,-.05l-1,-.15l-1,.11l-1,-.12l-1,-.01l-1,-.15l-1,.09l-1,.15l-1,-.14l-1,.23l-1,.15l-1,-.15l-1,-.49l-1,-.03l-1,.15l-1,.09l-1,.15l-1,-.07l-1,.15l-1,-.15l-1,-.26l-1,.08l-1,.06l-1,.35l-1,.15l-1,-.15l-1,-.05l-1,.2l-1,.12l-1,-.15l-1,-.32l-1,.15l-1,.05l-1,-.15l-1,-.16l-1,.13l-1,.16l-1,.07l-1,.1l-1,.06l-1,-.09l-1,.09l-1,-.15l-1,.01l-1,.15l-1,-.15l-1,.13l-1,-.12l-1,.15l-1,-.15l-1,-.42l-1,.31l-1,.21l-1,.12l-1,-.14l-1,-.05l-1,.15l-1,-.15l-1,-.02l-1,-.15l-1,.08l-1,.15l-1,-.15l-1,.07l-1,-.15l-1,-.02l-1,-.15l-1,-.09l-1,.15l-1,-.15l-1,-.19l-1,-.14l-1,.38l-1,.15l-1,-.02l-1,-.04l-1,-.14l-1,.37l-1,.15l-1,-.04l-1,-.16l-1,-.42l-1,.04l-1,.49l-1,.15l-1,-.15l-1,-.17l-1,.21l-1,.15l-1,-.15l-1,-.5l-1,-.15l-1,.17l-1,.15l-1,-.02l-1,.15l-1,.03l-1,.17l-1,.15l-1,-.15l-1,-.38l-1,.37l-1,.15l-1,0l-1,-.05l-1,-.16l-1,-.47l-1,.15l-1,.12l-1,.28l-1,.15l-1,-.15l-1,-.37l-1,.15l-1,-.15l-1,-.04l-1,-.14l-1,.47l-1,.15l-1,.06l-1,-.15l-1,.09l-1,-.15l-1,-.03l-1,-.15l-1,-.48l-1,.25l-1,.49l-1,.16l-1,-.16l-1,-.11l-1,.15l-1,-.15l-1,-.23l-1,.15l-1,.02l-1,.15l-1,-.04l-1,-.16l-1,.16l-1,.15l-1,-.15l-1,.11l-1,-.15l-1,-.5l-1,.15l-1,.15l-1,.08l-1,.15l-1,-.13l-1,.03l-1,.15l-1,-.03l-1,.07l-1,-.15l-1,-.5l-1,.16l-1,.15l-1,.22l-1,.16l-1,.06l-1,-.15l-1,.06l-1,-.15l-1,-.43l-1,.4l-1,.15l-1,-.15l-1,.06l-1,.01l-1,.15l-1,-.15l-1,-.2l-1,.15l-1,.14l-1,.15l-1,-.15l-1,-.1l-1,.13l-1,-.09l-1,.15l-1,-.09l-1,-.14l-1,-.21l-1,.12l-1,.24l-1,.14l-1,-.15l-1,-.5l-1,.4l-1,.15l-1,-.03l-1,-.15l-1,-.26l-1,.04l-1,.15l-1,-.15l-1,-.26l-1,.27l-1,.15l-1,-.15l-1,-.21l-1,.07l-1,.18l-1,.29l-1,.15l-1,-.1l-1,-.17l-1,.1l-1,.15l-1,-.11l-1,-.13l-1,.15l-1,-.15l-1,-.48l-1,.33l-1,.23l-1,.14l-1,-.15l-1,.06l-1,-.13l-1,.17l-1,.08l-1,-.15l-1,-.37l-1,.15l-1,-.15l-1,.09l-1,-.07l-1,.15l-1,-.15l-1,.16l-1,.22l-1,.13l-1,-.15l-1,-.29l-1,.11l-1,.03l-1,-.13l-1,.15l-1,-.15l-1,-.4l-1,.5l-1,.16l-1,-.15l-1,-.24l-1,.33l-1,.15l-1,-.15l-1,-.5l-1,.12l-1,-.04l-1,-.05l-1,.15l-1,-.12l-1,.23l-1,.15l-1,-.15l-1,-.2l-1,.15l-1,-.15l-1,-.2l-1,.3l-1,.15l-1,-.15l-1,.15l-1,.15l-1,-.15l-1,-.5l-1,.41l-1,.21l-1,.12l-1,-.15l-1,.13l-1,-.02l-1,0l-1,.07l-1,-.16l-1,-.3l-1,-.24l-1,.1l-1,.2l-1,.12l-1,.01l-1,-.07l-1,-.16l-1,-.03l-1,.11l-1,.02l-1,-.07l-1,.33l-1,.15l-1,-.15l-1,-.31l-1,.12l-1,.12l-1,.15l-1,-.03l-1,.11l-1,-.06l-1,-.05l-1,.04l-1,.15l-1,-.15l-1,-.42l-1,.05l-1,.37l-1,.15l-1,-.15l-1,-.1l-1,.15l-1,-.15l-1,.14l-1,.14l-1,-.15l-1,-.46l-1,.05l-1,.41l-1,.15l-1,-.15l-1,-.31l-1,-.23l-1,.15l-1,-.07l-1,.24l-1,.15l-1,-.15l-1,-.22l-1,.1l-1,.15l-1,.03l-1,-.12l-1,-.2l-1,.28l-1,.15l-1,-.15l-1,-.23l-1,.15l-1,.13l-1,.15l-1,.04l-1,-.15l-1,-.23l-1,.2l-1,.12l-1,-.03l-1,.15l-1,-.14l-1,-.1l-1,-.15l-1,.16l-1,.18l-1,.11l-1,-.15l-1,-.23l-1,.06l-1,.15l-1,-.15l-1,-.39l-1,.13l-1,-.15l-1,-.11l-1,.15l-1,.15l-1,-.06l-1,-.15l-1,-.03l-1,.16l-1,-.07l-1,.48l-1,.15l-1,-.15l-1,-.41l-1,.37l-1,.16l-1,.04l-1,-.15l-1,-.1l-1,-.15l-1,.05l-1,.15l-1,-.07l-1,.15l-1,-.15l-1,-.05l-1,.15l-1,-.11l-1,-.18l-1,-.03l-1,.14l-1,.17l-1,.07l-1,0l-.5,0z"/>
<path fill="#dd9a00" shape-rendering="crispEdges" d="M200.0,481.59l.5,-.33l1,-.5l1,-.15l1,.03l1,.15l1,.5l1,-.26l1,-.15l1,.15l1,.18l1,-.34l1,-.15l1,.15l1,.11l1,.15l1,.36l1,-.2l1,-.17l1,-.15l1,-.24l1,-.15l1,-.01l1,.15l1,.17l1,.06l1,.16l1,.01l1,-.17l1,-.24l1,-.14l1,.15l1,-.03l1,.15l1,.4l1,-.35l1,-.15l1,.15l1,.5l1,-.04l1,.13l1,-.1l1,-.3l1,-.15l1,.15l1,-.21l1,-.15l1,.15l1,.33l1,-.15l1,.07l1,-.04l1,.15l1,-.14l1,-.01l1,-.15l1,.15l1,.12l1,-.15l1,.09l1,.18l1,-.09l1,-.29l1,-.15l1,.09l1,0l1,-.15l1,.15l1,-.04l1,.15l1,-.11l1,.15l1,.21l1,-.14l1,.01l1,.11l1,-.18l1,-.18l1,-.09l1,.15l1,.34l1,-.48l1,-.15l1,.15l1,.5l1,-.38l1,-.15l1,.01l1,-.15l1,.15l1,.08l1,-.05l1,.02l1,-.15l1,.15l1,.15l1,-.15l1,-.04l1,.15l1,.09l1,-.28l1,-.15l1,.15l1,0l1,.05l1,-.15l1,.09l1,-.15l1,.15l1,-.15l1,.14l1,.16l1,-.15l1,.02l1,.15l1,-.15l1,-.15l1,.15l1,-.06l1,-.1l1,.15l1,.34l1,-.25l1,-.15l1,.06l1,-.15l1,.15l1,.42l1,.21l1,.12l1,-.11l1,.07l1,-.23l1,-.27l1,-.15l1,.15l1,-.14l1,-.15l1,.15l1,.03l1,-.15l1,.15l1,.14l1,-.12l1,-.15l1,.15l1,-.02l1,.15l1,-.27l1,-.15l1,.15l1,-.03l1,-.08l1,-.02l1,.11l1,-.04l1,.15l1,.3l1,.15l1,.2l1,-.5l1,-.15l1,.14l1,-.12l1,.15l1,.26l1,.13l1,-.39l1,-.15l1,.13l1,-.25l1,-.15l1,.03l1,.15l1,-.07l1,.15l1,-.05l1,-.11l1,.08l1,.06l1,-.01l1,.15l1,.07l1,-.12l1,.04l1,-.15l1,.15l1,.5l1,-.25l1,-.15l1,.07l1,-.34l1,-.15l1,.15l1,.14l1,-.17l1,-.08l1,.15l1,.15l1,.12l1,.2l1,-.25l1,-.15l1,.15l1,-.3l1,-.15l1,.15l1,-.06l1,.14l1,.24l1,-.32l1,-.15l1,.15l1,.28l1,-.07l1,-.15l1,0l1,-.15l1,.14l1,.17l1,-.16l1,-.15l1,.15l1,-.02l1,.15l1,.07l1,.07l1,.08l1,-.3l1,-.15l1,0l1,-.04l1,.15l1,.46l1,-.02l1,-.5l1,-.16l1,.16l1,.5l1,.01l1,-.18l1,-.12l1,.09l1,-.04l1,-.15l1,.15l1,.08l1,.15l1,.21l1,.08l1,-.49l1,-.16l1,-.06l1,.15l1,-.12l1,.13l1,.21l1,.17l1,-.15l1,-.39l1,-.15l1,.15l1,.06l1,-.15l1,.06l1,-.15l1,.02l1,.15l1,.5l1,-.45l1,-.15l1,.12l1,-.01l1,.15l1,.23l1,-.15l1,-.21l1,-.15l1,.15l1,.43l1,-.45l1,-.15l1,.15l1,.18l1,-.15l1,.15l1,.07l1,.09l1,-.15l1,.15l1,.15l1,-.44l1,-.15l1,.03l1,-.15l1,.15l1,.16l1,-.15l1,.15l1,.17l1,-.07l1,.15l1,.33l1,-.26l1,-.15l1,0l1,-.15l1,.15l1,.21l1,.09l1,-.42l1,-.15l1,.15l1,.05l1,.15l1,.06l1,-.5l1,-.15l1,.15l1,.45l1,.25l1,-.19l1,-.5l1,-.15l1,.15l1,.5l1,0l1,.09l1,-.5l1,-.15l1,.15l1,.11l1,-.15l1,.15l1,-.01l1,-.15l1,.09l1,-.15l1,.15l1,.11l1,-.13l1,.15l1,-.06l1,-.15l1,.01l1,-.16l1,-.07l1,.15l1,.46l1,.11l1,-.04l1,-.15l1,-.01l1,-.16l1,-.07l1,-.11l1,-.15l1,.05l1,.15l1,-.04l1,.15l1,.25l1,-.15l1,.15l1,.2l1,-.5l1,-.15l1,.03l1,.15l1,.13l1,-.29l1,-.15l1,.15l1,.39l1,-.15l1,.13l1,-.12l1,.06l1,.01l1,-.15l1,.15l1,.04l1,.06l1,-.35l1,-.15l1,.15l1,.1l1,.15l1,.34l1,-.25l1,-.15l1,-.18l1,-.15l1,.15l1,.18l1,.11l1,.19l1,.09l1,-.33l1,-.16l1,-.08l1,.15l1,-.15l1,.05l1,-.03l1,-.15l1,.15l1,.14l1,-.02l1,-.16l1,-.15l1,.15l1,-.05l1,.15l1,-.02l1,.16l1,.16l1,-.15l1,.14l1,-.12l1,-.26l1,-.14l1,.11l1,-.02l1,.15l1,.05l1,-.03l1,.01l1,-.15l1,.15l1,.15l1,-.14l1,.06l1,-.15l1,.15l1,.12l1,-.15l1,.12l1,.2l1,-.15l1,-.03l1,.07l1,-.08l1,-.15l1,-.5l1,-.15l1,.15l1,-.2l1,-.17l1,-.29l1,-.15l1,.04l1,-.16l1,-.1l1,-.5l1,-.15l1,-.4l1,-.37l1,-.15l1,-.08l1,-.15l1,-.05l1,-.74l1,-.5l1,-.68l1,-.5l1,-.45l1,-.74l1,-.5l1,-1.05l1,-.61l1,-.76l1,-1.16l1,-.86l1,-.88l1,-.88l1,-.91l1,-1.03l1,-.89l1,-.96l1,-.84l1,-.5l1,-.83l1,-.56l1,-.46l1,-.54l1,-.5l1,-.16l1,-.03l1,.15l1,.39l1,.15l1,.38l1,.15l1,.51l1,.98l1,1.03l1,.5l1,1.11l1,1.18l1,.84l1,1.17l1,1.06l1,1.03l1,1.2l1,.87l1,1.13l1,1.07l1,.83l1,.74l1,1.04l1,.66l1,.16l1,.4l1,.23l1,.15l1,.38l1,.4l1,.15l1,.5l1,.15l1,-.15l1,.15l1,.25l1,-.15l1,.13l1,.21l1,.06l1,.02l1,.16l1,-.13l1,.15l1,.04l1,-.15l1,.15l1,.09l1,.15l1,-.08l1,-.15l1,.07l1,-.15l1,.12l1,.19l1,.35l1,-.15l1,.12l1,-.41l1,-.15l1,.13l1,-.15l1,-.02l1,-.02l1,.05l1,-.13l1,.12l1,.17l1,.19l1,.26l1,.05l1,-.24l1,-.15l1,-.26l1,-.16l1,-.07l1,.15l1,.04l1,-.15l1,.11l1,-.07l1,.09l1,-.03l1,-.06l1,.15l1,.03l1,-.19l1,-.24l1,-.15l1,.15l1,-.32l1,-.15l1,.15l1,-.28l1,-.5l1,-.15l1,-.11l1,-.22l1,-.59l1,-.46l1,-.57l1,-.73l1,-1.71l1,-2.61l1,-4.43l1,-7.39l1,-9.88l1,-13.34l1,-13.67l1,-9.15l1,-2.39l1,-.87l1,-.39l1,-.06l1,.25l1,.59l1,1.15l1,6l1,13.1l1,14.15l1,10.88l1,8.11l1,6.13l1,2.74l1,1.98l1,1.33l1,.42l1,.62l1,.42l1,.36l1,.25l1,.55l1,-.15l1,.15l1,.5l1,.1l1,.13l1,-.17l1,-.14l1,0l1,-.1l1,.15l1,.01l1,.15l1,.17l1,.07l1,.13l1,-.15l1,.08l1,-.14l1,-.12l1,0l1,.15l1,-.17l1,-.15l1,.15l1,-.11l1,-.15l1,.15l1,.17l1,-.27l1,-.15l1,.15l1,.19l1,.06l1,-.15l1,-.09l1,-.51l1,-.37l1,-.15l1,-.1l1,-.36l1,-.36l1,-.37l1,-.59l1,-1.15l1,-1.93l1,-3.71l1,-5.21l1,-8.29l1,-10.53l1,-11.07l1,-7.54l1,-1.76l1,-.88l1,-.38l1,-.06l1,.24l1,.64l1,1.21l1,4.44l1,10.54l1,11.22l1,9.15l1,5.97l1,4.54l1,2.37l1,1.42l1,1.13l1,.2l1,.21l1,.25l1,.4l1,.33l1,-.07l1,.01l1,.15l1,.49l1,-.19l1,-.5l1,-.15l1,.14l1,.26l1,-.03l1,-.18l1,-.2l1,-.5l1,-.15l1,-.3l1,-.27l1,-.54l1,-.61l1,-1.38l1,-.99l1,-1.83l1,-3.61l1,-4.64l1,-7.52l1,-12.29l1,-17.35l1,-22.22l1,-23.83l1,-14.25l1,-3.87l1,-.88l1,-.38l1,-.06l1,.25l1,.63l1,1.69l1,9.75l1,22.27l1,24.27l1,17.91l1,14.34l1,8.84l1,6.33l1,3.11l1,2.67l1,1.41l1,1.06l1,.83l1,.57l1,.37l1,.63l1,.14l1,.15l1,.24l1,.5l1,.49l1,-.11l1,-.21l1,-.15l1,.11l1,.04l1,-.15l1,.09l1,.17l1,-.03l1,-.04l1,-.14l1,-.15l1,.04l1,-.09l1,-.31l1,-.26l1,-.43l1,-.61l1,-1.56l1,-2.49l1,-4.15l1,-6.71l1,-5.67l1,-4.6l1,-1.84l1,-1.07l1,-.5l1,-.15l1,.15l1,.5l1,1l1,3.37l1,5.46l1,6.42l1,5.42l1,4.03l1,1.61l1,1.51l1,.49l1,.38l1,.21l1,.36l1,.3l1,-.03l1,.21l1,-.15l1,.15l1,.36l1,.09l1,.05l1,-.15l1,.08l1,.16l1,-.1l1,-.15l1,.15l1,.18l1,-.15l1,.15l1,.37l1,.07l1,-.21l1,-.15l1,.1l1,-.15l1,.14l1,-.1l1,-.15l1,.11l1,.14l1,.08l1,.14l1,-.1l1,-.15l1,.15l1,-.08l1,-.1l1,-.08l1,.15l1,.5l1,-.44l1,-.15l1,-.02l1,-.05l1,.14l1,-.08l1,-.15l1,.15l1,.43l1,-.22l1,-.22l1,-.13l1,.15l1,.26l1,-.11l1,-.12l1,.1l1,.03l1,-.01l1,-.03l1,.16l1,.09l1,-.16l1,.1l1,.09l1,.16l1,.17l1,-.5l1,-.15l1,.15l1,-.02l1,.15l1,.11l1,-.07l1,-.28l1,-.15l1,-.07l1,.15l1,.49l1,-.39l1,-.15l1,.15l1,.3l1,-.03l1,-.19l1,-.15l1,.06l1,.15l1,.42l1,-.18l1,-.15l1,.15l1,.08l1,-.15l1,-.23l1,-.16l1,-.09l1,.15l1,-.07l1,.15l1,.4l1,-.32l1,-.15l1,-.04l1,-.15l1,.15l1,.47l1,-.19l1,-.15l1,.15l1,.31l1,.06l1,.1l1,-.18l1,-.15l1,.06l1,-.27l1,-.15l1,.02l1,-.14l1,-.15l1,.15l1,.26l1,-.25l1,-.15l1,.15l1,0l1,.1l1,-.01l1,.15l1,.14l1,-.31l1,-.2l1,-.12l1,.16l1,.33l1,-.11l1,.12l1,-.5l1,-.15l1,.14l1,-.12l1,-.03l1,-.09l1,-.23l1,-.15l1,.09l1,-.63l1,-.46l1,-1.01l1,-1.15l1,-1.15l1,-1.62l1,-.8l1,-.97l1,-.55l1,-.18l1,.12l1,.46l1,.71l1,.97l1,1.39l1,1.18l1,1.66l1,.82l1,.63l1,.31l1,.19l1,.12l1,.19l1,.29l1,-.18l1,.12l1,.19l1,-.15l1,.15l1,.37l1,-.24l1,-.15l1,.05l1,.14l1,.24l1,-.17l1,-.14l1,.12l1,-.04l1,-.13l1,.15l1,.19l1,-.32l1,-.15l1,.15l1,-.09l1,.07l1,.14l1,.22l1,.39l1,-.49l1,-.15l1,-.04l1,-.15l1,.07l1,.01l1,.15l1,.38l1,.03l1,.15l1,-.02l1,-.5l1,-.15l1,.15l1,.37l1,-.5l1,-.15l1,.15l1,.32l1,-.16l1,-.15l1,.15l1,.41l1,-.44l1,-.15l1,-.14l1,-.15l1,.02l1,-.16l1,-.06l1,.06l1,.15l1,.18l1,-.12l1,-.5l1,-.15l1,-.07l1,-.12l1,-.25l1,-.49l1,-.71l1,-1.62l1,-3.35l1,-4.36l1,-5.19l1,-3.47l1,-1.47l1,-1l1,-.5l1,-.15l1,.15l1,.5l1,1.14l1,1.76l1,4.69l1,4.52l1,4.15l1,2.33l1,1.92l1,.64l1,.28l1,.5l1,.23l1,-.07l1,.18l1,.09l1,.18l1,.05l1,.05l1,.16l1,-.1l1,.15l1,-.1l1,.08l1,.14l1,.21l1,.2l1,.01l1,-.06l1,-.14l1,.15l1,.09l1,-.41l1,-.15l1,.14l1,.22l1,.32l1,-.5l1,-.15l1,.15l1,.03l1,.14l1,-.18l1,-.11l1,.15l1,.33l1,.1l1,.12l1,-.16l1,-.14l1,-.09l1,.08l1,-.15l1,.02l1,.15l1,-.06l1,.15l1,.13l1,-.14l1,0l1,-.35l1,-.15l1,.15l1,.5l1,.16l1,-.21l1,-.15l1,.02l1,.14l1,-.15l1,-.15l1,.15l1,-.02l1,-.26l1,-.15l1,.11l1,.2l1,-.09l1,.01l1,-.15l1,.15l1,.14l1,.14l1,-.26l1,-.14l1,.15l1,.06l1,.15l1,-.05l1,-.15l1,.15l1,.17l1,-.16l1,-.15l1,.15l1,.13l1,.07l1,-.06l1,-.11l1,-.04l1,.01l1,.15l1,-.32l1,-.15l1,.15l1,.32l1,-.35l1,-.15l1,.15l1,.26l1,-.05l1,-.15l1,.15l1,-.27l1,-.15l1,.15l1,.41l1,.09l1,-.3l1,-.15l1,-.06l1,-.15l1,.15l1,.01l1,-.15l1,.16l1,.5l1,.04l1,-.14l1,-.19l1,-.12l1,.15l1,.02l1,-.15l1,.09l1,-.09l1,0l1,-.14l1,-.15l1,.02l1,.12l1,.21l1,.27l1,.14l1,0l1,-.1l1,-.49l1,-.15l1,.07l1,.16l1,-.13l1,.14l1,.03l1,.15l1,.44l1,-.28l1,-.15l1,-.23l1,-.15l1,.15l1,-.08l1,.15l1,.29l1,-.15l1,.15l1,.28l1,-.26l1,-.22l1,-.14l1,.15l1,.03l1,-.14l1,.15l1,.42l1,-.31l1,-.18l1,-.1l1,-.01l1,.03l1,-.07l1,.15l1,-.19l1,-.15l1,.04l1,.09l1,.17l1,.01l1,.02l1,-.15l1,-.03l1,.01l1,-.15l1,.15l1,.27l1,-.14l1,.15l1,-.13l1,-.15l1,.07l1,.14l1,.05l1,.12l1,-.13l1,-.15l1,.15l1,-.36l1,-.15l1,.15l1,.15l1,-.15l1,.15l1,.27l1,-.2l1,-.2l1,-.13l1,.11l1,.19l1,.16l1,-.5l1,-.15l1,.15l1,.5l1,-.07l1,-.13l1,.15l1,-.04l1,-.23l1,-.14l1,.06l1,.15l1,-.23l1,-.39l1,-.4l1,-.15l1,-.15l1,-.22l1,.07l1,-.38l1,-1.13l1,-1.59l1,-2.83l1,-3.98l1,-5.11l1,-6.63l1,-3.99l1,-1.92l1,-.88l1,-.38l1,-.06l1,.24l1,.64l1,1.41l1,2.88l1,5.94l1,5.41l1,5.04l1,3.5l1,1.74l1,1.14l1,.43l1,.47l1,.16l1,.5l1,.17l1,.32l1,.17l1,-.14l1,.15l1,-.06l1,.15l1,.24l1,-.38l1,-.15l1,.15l1,-.02l1,-.03l1,-.11l1,.15l1,.27l1,-.07l1,-.15l1,.15l1,-.12l1,-.16l1,.16l1,0l1,.15l1,-.01l1,-.13l1,-.02l1,.09l1,.08l1,-.16l1,-.07l1,.14l1,-.13l1,.15l1,.5l1,-.17l1,-.31l1,-.15l1,.15l1,.08l1,.15l1,0l1,-.15l1,.15l1,.07l1,.08l1,-.11l1,.15l1,-.4l1,-.15l1,.15l1,.08l1,.09l1,.14l1,.13l1,-.34l1,-.15l1,.15l1,.29l1,-.16l1,-.14l1,.15l1,.44l1,-.17l1,-.37l1,-.15l1,.15l1,.18l1,-.15l1,.1l1,.01l1,-.12l1,.14l1,-.15l1,.15l1,.01l1,-.27l1,-.15l1,-.04l1,.15l1,.1l1,-.16l1,-.07l1,.15l1,.03l1,.15l1,.01l1,.14l1,-.15l1,-.08l1,-.15l1,.09l1,-.12l1,-.06l1,.15l1,-.07l1,-.15l1,.15l1,.12l1,-.14l1,-.11l1,.15l1,-.09l1,.15l1,.08l1,-.15l1,.15l1,.3l1,-.24l1,-.15l1,.15l1,.35l1,-.42l1,-.15l1,.15l1,-.14l1,-.15l1,.15l1,.09l1,.02l1,-.19l1,-.11l1,.15l1,.35l1,.1l1,-.2l1,-.15l1,.15l1,-.29l1,-.15l1,.15l1,.03l1,-.12l1,-.15l1,.06l1,-.02l1,-.21l1,-.15l1,.15l1,.04l1,-.31l1,0l1,-.07l1,-.15l1,-.47l1,-.15l1,-.51l1,-.91l1,-1.62l1,-3.79l1,-4.82l1,-4.83l1,-4.67l1,-1.63l1,-1.15l1,-.5l1,-.15l1,.15l1,.5l1,1.13l1,2.34l1,4.29l1,5.09l1,4.74l1,3.07l1,1.91l1,.83l1,.32l1,.7l1,.16l1,.25l1,0l1,-.02l1,-.11l1,.15l1,.42l1,.09l1,-.03l1,.15l1,-.1l1,.15l1,-.02l1,-.1l1,-.15l1,-.09l1,-.15l1,.1l1,.07l1,-.3l1,-.05l1,-.34l1,-.18l1,-.3l1,-.54l1,-.18l1,-.6l1,-.76l1,-.7l1,-.35l1,-.11l1,.15l1,.39l1,.12l1,.45l1,.94l1,.62l1,.58l1,.32l1,.34l1,.06l1,.15l1,-.01l1,.19l1,.35l1,-.15l1,.15l1,.16l1,.15l1,-.22l1,-.15l1,.15l1,-.1l1,-.15l1,.15l1,.43l1,-.15l1,-.06l1,-.13l1,-.07l1,.15l1,.12l1,.14l1,-.27l1,-.15l1,.15l1,.06l1,-.24l1,.05l1,-.06l1,-.25l1,.06l1,-.09l1,.15l1,-.11l1,.06l1,-.42l1,-.09l1,-.28l1,-.5l1,-.31l1,-.12l1,-.24l1,-.18l1,-.04l1,.18l1,.21l1,.42l1,.25l1,.22l1,.59l1,.05l1,.06l1,.15l1,-.05l1,-.07l1,.03l1,.1l1,-.08l1,0l1,.15l1,.22l1,-.15l1,.13l1,.04l1,-.15l1,-.14l1,-.15l1,.15l1,-.02l1,.12l1,-.26l1,-.06l1,-.14l1,-.15l1,-.24l1,-.15l1,-.31l1,-.39l1,-.92l1,-2.37l1,-3.01l1,-2.94l1,-4.06l1,-2.47l1,-.87l1,-.39l1,-.06l1,.19l1,.48l1,.64l1,1.37l1,3.14l1,4.01l1,3.13l1,2.35l1,1.4l1,.5l1,.63l1,.24l1,.46l1,-.21l1,-.04l1,-.12l1,.1l1,.18l1,.11l1,-.12l1,-.18l1,.03l1,-.32l1,-.67l1,-.83l1,-1.53l1,-1.49l1,-1.81l1,-.69l1,-.66l1,-.27l1,.03l1,.34l1,.53l1,1.1l1,1.87l1,1.35l1,1.74l1,.76l1,.45l1,.21l1,.26l1,.15l1,.03l1,.02l1,-.08l1,-.14l1,.15l1,.19l1,.35l1,.08l1,-.5l1,-.15l1,.15l1,-.01l1,0l.5,0l0,6.8l-.5,0l-1,.03l-1,.1l-1,.37l-1,.15l-1,.03l-1,.1l-1,-.15l-1,-.08l-1,.04l-1,.03l-1,-.13l-1,-.09l-1,.06l-1,-.12l-1,-.21l-1,-.03l-1,-.2l-1,-.18l-1,-.3l-1,-.46l-1,-.74l-1,-1.04l-1,-1.05l-1,-1.11l-1,-.93l-1,1.89l-1,1.23l-1,.91l-1,.54l-1,.53l-1,.35l-1,.11l-1,.22l-1,.15l-1,.05l-1,.15l-1,-.04l-1,-.09l-1,.03l-1,.08l-1,-.08l-1,-.06l-1,-.01l-1,-.15l-1,-.15l-1,-.25l-1,-.25l-1,-.21l-1,-.59l-1,-.57l-1,-.57l-1,-.76l-1,-1.41l-1,-1.51l-1,-2.53l-1,-1.76l-1,2.37l-1,2.35l-1,1.66l-1,.68l-1,1.07l-1,.95l-1,.44l-1,.27l-1,.25l-1,.42l-1,.09l-1,.12l-1,.24l-1,-.06l-1,.15l-1,.16l-1,-.16l-1,-.17l-1,.15l-1,-.15l-1,.12l-1,-.01l-1,.15l-1,-.15l-1,.02l-1,.15l-1,-.14l-1,0l-1,.15l-1,-.08l-1,.06l-1,.06l-1,-.2l-1,.15l-1,.04l-1,-.09l-1,-.27l-1,-.06l-1,-.18l-1,-.41l-1,-.24l-1,-.56l-1,-.19l-1,-.14l-1,.22l-1,.59l-1,.33l-1,.29l-1,.15l-1,.21l-1,.22l-1,-.09l-1,.06l-1,.13l-1,.21l-1,.01l-1,-.15l-1,.12l-1,-.04l-1,-.24l-1,.13l-1,.15l-1,-.15l-1,.04l-1,0l-1,-.14l-1,.01l-1,-.15l-1,-.09l-1,.12l-1,.34l-1,.15l-1,-.09l-1,-.17l-1,.05l-1,.15l-1,-.15l-1,.06l-1,.02l-1,-.15l-1,-.12l-1,.09l-1,.05l-1,.02l-1,-.15l-1,-.18l-1,-.15l-1,-.03l-1,-.03l-1,-.26l-1,-.21l-1,-.35l-1,-.51l-1,-.5l-1,-.66l-1,-.89l-1,-.26l-1,.6l-1,.65l-1,.66l-1,.43l-1,.27l-1,.41l-1,.46l-1,.12l-1,.02l-1,.15l-1,.06l-1,.28l-1,-.03l-1,-.21l-1,.12l-1,.04l-1,.15l-1,-.15l-1,-.14l-1,-.09l-1,.15l-1,-.15l-1,-.19l-1,.06l-1,-.15l-1,-.28l-1,.06l-1,.15l-1,.1l-1,-.15l-1,-.44l-1,.06l-1,-.15l-1,-.5l-1,-.52l-1,-.32l-1,-.51l-1,-.75l-1,-1.02l-1,-1.83l-1,-1.75l-1,-3.02l-1,-3.78l-1,3.89l-1,2.98l-1,1.83l-1,1.19l-1,1.59l-1,.75l-1,.32l-1,.75l-1,.31l-1,.28l-1,0l-1,.53l-1,.31l-1,0l-1,.1l-1,.15l-1,-.15l-1,-.2l-1,.24l-1,.15l-1,-.15l-1,-.22l-1,.24l-1,.15l-1,-.06l-1,.15l-1,-.15l-1,.25l-1,.15l-1,-.15l-1,.06l-1,.04l-1,-.1l-1,-.05l-1,-.15l-1,.45l-1,.15l-1,-.11l-1,.15l-1,-.15l-1,.05l-1,.15l-1,-.15l-1,-.03l-1,-.07l-1,.02l-1,-.1l-1,.15l-1,-.01l-1,.15l-1,-.15l-1,-.31l-1,.04l-1,-.15l-1,0l-1,-.15l-1,.09l-1,.5l-1,.15l-1,-.02l-1,.15l-1,-.15l-1,-.44l-1,-.32l-1,.12l-1,.27l-1,.16l-1,-.16l-1,.13l-1,.17l-1,.15l-1,-.15l-1,0l-1,-.15l-1,-.37l-1,.41l-1,.15l-1,-.15l-1,-.46l-1,.49l-1,.16l-1,.08l-1,-.15l-1,-.19l-1,-.15l-1,-.03l-1,-.02l-1,.24l-1,.15l-1,-.15l-1,-.28l-1,.18l-1,.29l-1,.15l-1,-.13l-1,-.2l-1,-.17l-1,.12l-1,-.14l-1,.14l-1,.15l-1,-.13l-1,-.15l-1,-.14l-1,.33l-1,.15l-1,-.15l-1,-.11l-1,.13l-1,-.15l-1,-.04l-1,.02l-1,.15l-1,.17l-1,.15l-1,-.15l-1,-.31l-1,.16l-1,-.16l-1,-.19l-1,.24l-1,.14l-1,-.03l-1,-.15l-1,-.4l-1,-.14l-1,.48l-1,.15l-1,-.15l-1,-.47l-1,.06l-1,.45l-1,.15l-1,-.15l-1,-.26l-1,.22l-1,.15l-1,-.15l-1,.02l-1,.15l-1,-.15l-1,-.32l-1,-.15l-1,-.06l-1,.5l-1,.15l-1,-.15l-1,-.09l-1,.15l-1,-.14l-1,-.24l-1,.09l-1,-.15l-1,-.08l-1,-.04l-1,-.07l-1,.02l-1,-.06l-1,-.39l-1,-.25l-1,-.26l-1,-.52l-1,-.26l-1,-.31l-1,-.5l-1,-.82l-1,-1.15l-1,-2l-1,-1.97l-1,-2.65l-1,-4.3l-1,2.2l-1,2.88l-1,2.72l-1,2.09l-1,1.33l-1,1.03l-1,.64l-1,.52l-1,.59l-1,.42l-1,.09l-1,.4l-1,.27l-1,.15l-1,-.15l-1,.22l-1,.15l-1,.06l-1,.13l-1,-.14l-1,-.05l-1,.42l-1,.15l-1,-.07l-1,-.16l-1,.02l-1,.06l-1,.09l-1,-.15l-1,.09l-1,.02l-1,-.03l-1,-.16l-1,-.32l-1,.24l-1,.16l-1,.25l-1,.15l-1,-.15l-1,-.22l-1,-.09l-1,-.04l-1,.46l-1,.15l-1,-.15l-1,-.02l-1,-.11l-1,-.16l-1,-.03l-1,-.14l-1,.4l-1,.15l-1,-.08l-1,-.17l-1,-.1l-1,-.02l-1,.34l-1,.15l-1,-.15l-1,-.15l-1,.15l-1,.03l-1,.15l-1,-.15l-1,-.5l-1,.14l-1,.32l-1,.15l-1,-.15l-1,-.5l-1,-.08l-1,.16l-1,.5l-1,.15l-1,-.11l-1,-.16l-1,-.21l-1,.23l-1,.15l-1,-.15l-1,.03l-1,.15l-1,-.09l-1,-.12l-1,-.05l-1,.15l-1,-.15l-1,-.31l-1,.07l-1,-.16l-1,.11l-1,.14l-1,.32l-1,.15l-1,.02l-1,-.15l-1,-.5l-1,-.13l-1,.15l-1,-.15l-1,.2l-1,.33l-1,.15l-1,-.14l-1,0l-1,-.12l-1,.15l-1,-.15l-1,-.41l-1,.5l-1,.15l-1,-.15l-1,-.48l-1,.09l-1,.32l-1,.15l-1,-.11l-1,-.19l-1,.12l-1,.15l-1,.06l-1,.15l-1,-.12l-1,-.2l-1,.02l-1,.15l-1,-.15l-1,.15l-1,-.09l-1,.15l-1,-.15l-1,-.22l-1,-.05l-1,.19l-1,.17l-1,.09l-1,-.15l-1,.07l-1,-.15l-1,-.32l-1,.14l-1,.17l-1,.08l-1,-.15l-1,-.21l-1,.46l-1,.15l-1,-.15l-1,-.5l-1,.06l-1,.1l-1,.04l-1,-.07l-1,.04l-1,.08l-1,.15l-1,-.14l-1,-.16l-1,.2l-1,.18l-1,.1l-1,-.15l-1,-.14l-1,-.15l-1,.27l-1,.15l-1,-.15l-1,.12l-1,-.1l-1,.16l-1,-.16l-1,-.18l-1,-.15l-1,-.16l-1,.5l-1,.15l-1,-.14l-1,-.11l-1,.15l-1,-.15l-1,-.27l-1,.32l-1,.15l-1,-.13l-1,-.04l-1,.09l-1,-.15l-1,-.08l-1,.15l-1,-.15l-1,.04l-1,.04l-1,-.06l-1,.15l-1,-.15l-1,-.32l-1,.16l-1,-.15l-1,.08l-1,.15l-1,.1l-1,-.1l-1,.01l-1,.15l-1,-.15l-1,-.21l-1,.15l-1,.07l-1,.15l-1,-.15l-1,.15l-1,.15l-1,-.15l-1,-.4l-1,0l-1,.15l-1,.21l-1,.15l-1,-.15l-1,-.26l-1,-.04l-1,.04l-1,.12l-1,-.15l-1,-.46l-1,.09l-1,.15l-1,-.15l-1,.15l-1,-.15l-1,.07l-1,.15l-1,-.15l-1,-.02l-1,-.11l-1,.03l-1,-.17l-1,-.19l-1,-.27l-1,-.52l-1,-.15l-1,-.5l-1,-.92l-1,-.46l-1,-.96l-1,-1.15l-1,-2.13l-1,-2.59l-1,-3.58l-1,3.27l-1,2.56l-1,1.87l-1,1.6l-1,.84l-1,1l-1,.55l-1,.52l-1,.46l-1,.34l-1,.03l-1,.26l-1,.19l-1,.15l-1,.15l-1,.04l-1,.15l-1,-.15l-1,-.3l-1,-.29l-1,.5l-1,.15l-1,-.03l-1,.15l-1,-.06l-1,.15l-1,.06l-1,-.02l-1,-.16l-1,-.08l-1,.08l-1,.14l-1,-.01l-1,.17l-1,.09l-1,0l-1,-.15l-1,-.02l-1,.09l-1,.14l-1,-.15l-1,-.23l-1,-.03l-1,-.15l-1,-.19l-1,.5l-1,.15l-1,-.15l-1,.12l-1,.13l-1,-.11l-1,-.2l-1,-.37l-1,.5l-1,.15l-1,-.15l-1,-.46l-1,.14l-1,.1l-1,-.15l-1,-.17l-1,.02l-1,-.06l-1,.23l-1,.14l-1,-.15l-1,-.3l-1,.05l-1,.17l-1,.09l-1,-.12l-1,-.1l-1,.15l-1,-.02l-1,.15l-1,.12l-1,-.12l-1,-.34l-1,.15l-1,-.14l-1,-.36l-1,-.25l-1,-.5l-1,-.63l-1,-.31l-1,-.55l-1,-.77l-1,-1.28l-1,-.91l-1,-1.45l-1,1.68l-1,1.03l-1,.92l-1,1.04l-1,.58l-1,.33l-1,.52l-1,.49l-1,.18l-1,.28l-1,.09l-1,.12l-1,-.1l-1,-.02l-1,.04l-1,-.18l-1,.39l-1,.15l-1,-.13l-1,.17l-1,.15l-1,-.15l-1,-.5l-1,.01l-1,.22l-1,.34l-1,.15l-1,-.15l-1,-.5l-1,.34l-1,.15l-1,0l-1,.15l-1,-.15l-1,-.16l-1,-.15l-1,-.23l-1,.02l-1,.11l-1,.35l-1,.15l-1,-.02l-1,.15l-1,-.04l-1,-.1l-1,.06l-1,.15l-1,-.15l-1,-.1l-1,.15l-1,-.15l-1,-.12l-1,.15l-1,-.15l-1,.04l-1,.05l-1,-.14l-1,.08l-1,.15l-1,-.15l-1,.09l-1,.15l-1,-.15l-1,.16l-1,.07l-1,-.13l-1,.15l-1,-.15l-1,-.04l-1,-.15l-1,-.2l-1,.16l-1,-.13l-1,.19l-1,.15l-1,-.15l-1,.05l-1,.16l-1,.04l-1,-.15l-1,-.5l-1,.11l-1,.14l-1,-.04l-1,.04l-1,.1l-1,.15l-1,.05l-1,.15l-1,-.15l-1,-.01l-1,-.15l-1,-.32l-1,.28l-1,.15l-1,-.15l-1,-.33l-1,-.14l-1,.01l-1,0l-1,-.08l-1,.13l-1,.36l-1,.15l-1,-.15l-1,.04l-1,.15l-1,-.12l-1,-.19l-1,-.3l-1,.15l-1,-.11l-1,-.18l-1,.06l-1,.5l-1,.17l-1,.09l-1,.02l-1,-.15l-1,-.5l-1,.04l-1,.14l-1,.05l-1,.15l-1,-.14l-1,-.21l-1,-.12l-1,-.11l-1,0l-1,.15l-1,.04l-1,-.12l-1,.15l-1,-.14l-1,.2l-1,.12l-1,-.09l-1,0l-1,-.13l-1,.17l-1,.08l-1,-.13l-1,.15l-1,-.15l-1,-.41l-1,.1l-1,.15l-1,-.15l-1,-.27l-1,.15l-1,-.15l-1,.04l-1,.14l-1,-.15l-1,-.14l-1,-.28l-1,-.5l-1,0l-1,-.09l-1,-.42l-1,-.43l-1,-.61l-1,-.59l-1,-.91l-1,-1.02l-1,-2.2l-1,-1.88l-1,-3.06l-1,-4.27l-1,2.57l-1,3.26l-1,2.85l-1,1.19l-1,1.61l-1,.89l-1,1.14l-1,.5l-1,.41l-1,.35l-1,.44l-1,.21l-1,.17l-1,.15l-1,.02l-1,.06l-1,-.09l-1,-.42l-1,.42l-1,.15l-1,-.15l-1,-.14l-1,.15l-1,-.15l-1,-.09l-1,.15l-1,-.15l-1,0l-1,-.04l-1,-.15l-1,-.39l-1,-.51l-1,-.36l-1,-.13l-1,-.2l-1,-.35l-1,-.06l-1,-.38l-1,-.75l-1,-.5l-1,-.59l-1,-1.1l-1,-1.42l-1,-1.12l-1,-1.56l-1,-2.55l-1,-3.09l-1,-4.13l-1,-7.67l-1,-10.14l-1,-15.72l-1,6.61l-1,13.83l-1,8.66l-1,5.61l-1,4.32l-1,2.84l-1,2.23l-1,1.38l-1,1.19l-1,1.15l-1,.81l-1,.7l-1,.64l-1,.24l-1,.61l-1,.24l-1,.29l-1,.15l-1,.3l-1,.16l-1,.13l-1,.48l-1,.15l-1,-.05l-1,-.15l-1,-.07l-1,.24l-1,.18l-1,.11l-1,-.14l-1,-.25l-1,-.48l-1,.07l-1,-.07l-1,.14l-1,.09l-1,-.21l-1,-.59l-1,-.21l-1,-.21l-1,-.59l-1,-.49l-1,-.88l-1,-1.01l-1,-1.15l-1,-2.02l-1,-2.15l-1,-3.66l-1,-5.3l-1,-7.31l-1,4.17l-1,6.26l-1,4.47l-1,2.79l-1,2.12l-1,1.29l-1,1.18l-1,.95l-1,.77l-1,.42l-1,.3l-1,.58l-1,.5l-1,.15l-1,-.14l-1,.19l-1,.07l-1,.5l-1,.16l-1,.07l-1,.12l-1,.15l-1,-.14l-1,-.02l-1,-.05l-1,.15l-1,.14l-1,.15l-1,-.13l-1,.32l-1,.15l-1,-.15l-1,.04l-1,-.15l-1,-.3l-1,-.14l-1,.14l-1,.09l-1,.37l-1,.15l-1,-.15l-1,-.43l-1,.15l-1,-.15l-1,.13l-1,-.15l-1,-.43l-1,.09l-1,.17l-1,.1l-1,-.12l-1,.14l-1,-.15l-1,-.3l-1,.12l-1,-.1l-1,-.18l-1,-.31l-1,-.21l-1,-.29l-1,-.5l-1,-.64l-1,-.35l-1,-.5l-1,-.93l-1,-.88l-1,-1.24l-1,-1.15l-1,-2.04l-1,-3.24l-1,-3.9l-1,-6.35l-1,-9.6l-1,4.46l-1,7.79l-1,5.35l-1,3.93l-1,2.5l-1,1.45l-1,1.75l-1,1l-1,.53l-1,.57l-1,.9l-1,.44l-1,.3l-1,.38l-1,.14l-1,.19l-1,.15l-1,.34l-1,.21l-1,.16l-1,.11l-1,.37l-1,.15l-1,-.12l-1,-.19l-1,.01l-1,.3l-1,.15l-1,.03l-1,-.15l-1,-.17l-1,.04l-1,-.09l-1,.09l-1,.18l-1,.24l-1,.15l-1,-.15l-1,.17l-1,.15l-1,-.15l-1,.04l-1,.14l-1,-.03l-1,-.15l-1,-.25l-1,-.23l-1,-.15l-1,.12l-1,-.08l-1,0l-1,.27l-1,.15l-1,.29l-1,.15l-1,-.14l-1,-.06l-1,.17l-1,.09l-1,-.15l-1,-.47l-1,.15l-1,-.1l-1,.15l-1,-.08l-1,.27l-1,.15l-1,-.15l-1,.01l-1,.15l-1,-.15l-1,-.25l-1,-.15l-1,-.47l-1,.1l-1,-.15l-1,.25l-1,.15l-1,-.15l-1,-.25l-1,.15l-1,-.15l-1,-.18l-1,-.15l-1,-.24l-1,-.15l-1,-.5l-1,-.82l-1,-.15l-1,-.47l-1,-.41l-1,-.16l-1,-.4l-1,-.52l-1,-.65l-1,-1.04l-1,-.89l-1,-.83l-1,-.66l-1,-1.13l-1,-1.11l-1,-1.05l-1,-1.21l-1,-.6l-1,-1.15l-1,-1.45l-1,-.85l-1,-1.13l-1,-.65l-1,-1l-1,-.49l-1,-.32l-1,-.15l-1,.28l-1,.15l-1,.83l-1,.5l-1,.77l-1,.96l-1,.96l-1,1.02l-1,.81l-1,.9l-1,.86l-1,1.47l-1,1.15l-1,.5l-1,.44l-1,1.06l-1,.5l-1,.62l-1,.98l-1,.5l-1,.21l-1,.51l-1,.62l-1,.57l-1,.47l-1,.39l-1,.15l-1,-.12l-1,.15l-1,.82l-1,.5l-1,.15l-1,.21l-1,.15l-1,-.05l-1,.5l-1,.15l-1,-.15l-1,-.18l-1,.37l-1,.15l-1,.04l-1,.4l-1,.15l-1,-.06l-1,.14l-1,-.02l-1,-.07l-1,.13l-1,.15l-1,-.15l-1,.05l-1,.15l-1,-.03l-1,-.15l-1,.12l-1,-.15l-1,.03l-1,.13l-1,-.15l-1,.15l-1,-.15l-1,-.12l-1,.16l-1,-.16l-1,-.32l-1,.11l-1,.5l-1,.15l-1,-.15l-1,0l-1,.15l-1,-.03l-1,-.15l-1,-.35l-1,-.13l-1,.15l-1,-.15l-1,0l-1,.05l-1,.35l-1,.15l-1,0l-1,.15l-1,-.15l-1,-.5l-1,.1l-1,-.14l-1,.18l-1,.21l-1,.13l-1,.06l-1,-.15l-1,-.24l-1,.15l-1,.07l-1,.16l-1,-.16l-1,-.01l-1,.12l-1,-.12l-1,0l-1,.15l-1,-.05l-1,.15l-1,-.15l-1,-.27l-1,.13l-1,.09l-1,.15l-1,-.15l-1,-.34l-1,.13l-1,.32l-1,.15l-1,-.15l-1,-.42l-1,-.11l-1,.13l-1,-.08l-1,-.13l-1,.5l-1,.15l-1,-.08l-1,-.11l-1,-.05l-1,.15l-1,-.04l-1,-.14l-1,.15l-1,-.15l-1,-.28l-1,.15l-1,-.15l-1,.19l-1,.15l-1,-.06l-1,.15l-1,-.04l-1,.13l-1,-.15l-1,-.36l-1,.5l-1,.15l-1,-.15l-1,-.38l-1,.09l-1,-.15l-1,.07l-1,.13l-1,.06l-1,.15l-1,-.15l-1,-.03l-1,.12l-1,-.13l-1,.16l-1,.05l-1,-.08l-1,.15l-1,.03l-1,-.15l-1,.05l-1,.14l-1,-.15l-1,.01l-1,-.07l-1,.14l-1,-.13l-1,-.2l-1,-.08l-1,.37l-1,.15l-1,-.15l-1,-.34l-1,.1l-1,.1l-1,.15l-1,-.08l-1,-.11l-1,.07l-1,.09l-1,.15l-1,-.15l-1,-.02l-1,.14l-1,-.14l-1,-.26l-1,-.09l-1,.02l-1,.26l-1,.15l-1,-.15l-1,-.31l-1,-.02l-1,-.01l-1,.24l-1,.24l-1,.14l-1,-.15l-1,-.17l-1,.06l-1,.15l-1,-.15l-1,-.05l-1,-.14l-1,.04l-1,.22l-1,.14l-1,-.15l-1,-.42l-1,.1l-1,.03l-1,.14l-1,-.01l-1,-.15l-1,-.26l-1,.24l-1,.37l-1,.15l-1,-.08l-1,-.17l-1,-.5l-1,.12l-1,.49l-1,.15l-1,-.15l-1,-.19l-1,.15l-1,-.04l-1,.15l-1,-.15l-1,-.27l-1,-.2l-1,.14l-1,-.15l-1,.39l-1,.17l-1,.08l-1,-.09l-1,.12l-1,-.15l-1,-.32l-1,.15l-1,.15l-1,-.15l-1,-.3l-1,.22l-1,.15l-1,.05l-1,-.1l-1,-.14l-1,.29l-1,.15l-1,-.15l-1,.03l-1,-.15l-1,-.5l-1,.01l-1,.39l-1,.15l-1,-.15l-1,-.19l-1,.14l-1,.05l-1,.15l-1,.05l-1,.15l-1,-.15l-1,-.49l-1,.11l-1,.15l-1,-.15l-1,.03l-1,-.07l-1,.04l-1,.09l-1,.21l-1,.12l-1,-.15l-1,-.17l-1,.15l-1,-.15l-1,.33l-1,.15l-1,-.15l-1,-.07l-1,.15l-1,-.15l-1,-.13l-1,.15l-1,-.15l-1,-.3l-1,.15l-1,-.1l-1,.01l-1,.15l-1,-.07l-1,.08l-1,.26l-1,.15l-1,-.06l-1,-.15l-1,-.14l-1,-.15l-1,-.04l-1,.05l-1,-.15l-1,-.16l-1,-.05l-1,-.03l-1,.47l-1,.15l-1,-.15l-1,-.2l-1,-.15l-1,.13l-1,.15l-1,-.09l-1,.14l-1,.17l-1,.08l-1,-.13l-1,-.1l-1,-.15l-1,-.01l-1,.45l-1,.16l-1,-.06l-1,.04l-1,-.15l-1,-.23l-1,-.15l-1,-.37l-1,-.11l-1,.01l-1,.38l-1,.16l-1,-.16l-1,.07l-1,.14l-1,.24l-1,.15l-1,-.15l-1,-.34l-1,-.06l-1,.14l-1,.16l-1,.15l-1,-.15l-1,-.43l-1,.2l-1,.15l-1,-.15l-1,.05l-1,.2l-1,.12l-1,-.07l-1,.11l-1,-.12l-1,-.03l-1,-.15l-1,-.34l-1,.02l-1,.3l-1,.15l-1,-.11l-1,-.18l-1,-.09l-1,.5l-1,.15l-1,-.15l-1,-.33l-1,.15l-1,-.15l-1,.14l-1,.15l-1,-.15l-1,-.1l-1,.15l-1,.1l-1,.15l-1,-.15l-1,-.16l-1,-.15l-1,-.19l-1,.24l-1,.15l-1,.03l-1,.15l-1,-.15l-1,-.03l-1,.15l-1,-.15l-1,.03l-1,.15l-1,-.15l-1,-.25l-1,.15l-1,-.05l-1,.15l-1,.03l-1,.15l-1,-.13l-1,.04l-1,-.15l-1,.12l-1,.15l-1,-.15l-1,-.43l-1,.05l-1,.16l-1,.06l-1,-.11l-1,.03l-1,.27l-1,.15l-1,-.15l-1,.1l-1,-.15l-1,.14l-1,-.15l-1,-.08l-1,-.15l-1,-.23l-1,.26l-1,.23l-1,.14l-1,-.15l-1,-.03l-1,.15l-1,-.01l-1,-.16l-1,.1l-1,-.05l-1,.15l-1,-.15l-1,-.28l-1,.05l-1,.15l-1,.04l-1,.08l-1,.15l-1,.02l-1,-.15l-1,-.06l-1,.02l-1,.11l-1,-.13l-1,.03l-1,.09l-1,-.15l-1,.11l-1,.15l-1,-.15l-1,-.46l-1,-.13l-1,-.15l-1,.26l-1,.15l-1,.21l-1,.16l-1,-.16l-1,-.43l-1,.12l-1,-.15l-1,-.22l-1,.21l-1,.15l-1,.39l-1,.15l-1,.05l-1,-.15l-1,-.3l-1,-.17l-1,.01l-1,.16l-1,.02l-1,0l-1,-.08l-1,.16l-1,.08l-1,.09l-1,-.15l-1,.13l-1,.15l-1,0l-.5,0z"/>
<path fill="#c870dc" shape-rendering="crispEdges" d="M200.0,667.14l.5,0l1,-.06l1,-.13l1,.15l1,-.33l1,-.16l1,-.05l1,.15l1,.12l1,-.03l1,.15l1,.11l1,.15l1,-.14l1,-.21l1,-.15l1,.15l1,.41l1,-.15l1,.14l1,-.5l1,-.15l1,.15l1,.26l1,-.29l1,-.15l1,.15l1,.33l1,.15l1,.24l1,-.12l1,-.2l1,-.15l1,.15l1,-.1l1,.15l1,-.38l1,-.15l1,.04l1,.08l1,.16l1,.09l1,0l1,-.15l1,.14l1,-.05l1,-.03l1,.15l1,.11l1,.15l1,-.05l1,.15l1,.04l1,-.14l1,-.47l1,-.15l1,.15l1,.5l1,-.05l1,-.15l1,-.25l1,-.15l1,.15l1,.09l1,-.25l1,-.15l1,.15l1,.03l1,-.15l1,.15l1,.07l1,-.15l1,.11l1,.2l1,-.28l1,-.15l1,.15l1,-.15l1,.15l1,.17l1,.15l1,.19l1,-.15l1,-.07l1,-.26l1,-.14l1,.1l1,-.15l1,.12l1,.2l1,-.04l1,-.17l1,-.1l1,.15l1,.15l1,.15l1,.07l1,-.15l1,.07l1,.08l1,.11l1,-.03l1,-.03l1,.06l1,.03l1,-.16l1,-.07l1,-.07l1,-.15l1,.06l1,.16l1,.09l1,-.41l1,-.15l1,.15l1,.01l1,-.15l1,.15l1,.05l1,-.15l1,.15l1,.29l1,.03l1,-.15l1,.15l1,-.36l1,-.16l1,.04l1,.16l1,.21l1,-.15l1,.14l1,.08l1,-.15l1,.04l1,-.05l1,.06l1,.08l1,-.15l1,.07l1,-.22l1,-.15l1,.15l1,.31l1,-.16l1,-.09l1,.15l1,-.13l1,-.05l1,.14l1,-.09l1,-.15l1,.15l1,.11l1,.15l1,-.04l1,-.14l1,-.15l1,.12l1,.21l1,.13l1,-.26l1,-.17l1,-.09l1,.15l1,-.07l1,.15l1,-.01l1,-.15l1,.09l1,.17l1,.24l1,-.17l1,-.25l1,-.14l1,.13l1,.18l1,-.15l1,.07l1,.08l1,.01l1,-.01l1,-.13l1,-.2l1,-.12l1,.15l1,.5l1,-.02l1,-.15l1,.15l1,-.24l1,-.15l1,.15l1,.47l1,-.18l1,-.22l1,-.14l1,.03l1,-.15l1,-.13l1,.15l1,.09l1,-.11l1,-.15l1,.15l1,.5l1,.21l1,.07l1,-.33l1,-.49l1,-.15l1,.15l1,.03l1,.1l1,.19l1,.07l1,-.1l1,.15l1,-.08l1,-.16l1,-.09l1,.15l1,.1l1,.01l1,-.2l1,-.12l1,.15l1,-.03l1,-.15l1,.15l1,.5l1,-.18l1,-.5l1,-.15l1,.15l1,.05l1,-.15l1,.14l1,.1l1,.15l1,.02l1,.05l1,-.36l1,-.15l1,.05l1,.07l1,0l1,-.05l1,.15l1,.02l1,-.15l1,.15l1,.1l1,0l1,.04l1,.15l1,.01l1,-.21l1,-.13l1,.07l1,-.14l1,.15l1,.28l1,-.33l1,-.15l1,.09l1,.16l1,.22l1,.01l1,-.15l1,.15l1,.04l1,-.14l1,-.06l1,.11l1,.09l1,-.15l1,.15l1,-.2l1,-.14l1,.15l1,-.19l1,-.15l1,.15l1,.24l1,.15l1,-.06l1,-.15l1,.15l1,-.12l1,-.15l1,0l1,-.15l1,.15l1,.44l1,.14l1,-.03l1,-.11l1,-.01l1,-.46l1,-.15l1,.05l1,-.16l1,.12l1,.08l1,-.15l1,.05l1,.01l1,.15l1,-.11l1,-.13l1,.15l1,-.04l1,.15l1,.46l1,.12l1,-.08l1,-.15l1,-.44l1,-.15l1,.15l1,.37l1,-.3l1,-.15l1,.15l1,-.05l1,-.15l1,.15l1,.29l1,-.09l1,-.16l1,-.06l1,.07l1,.16l1,.16l1,-.15l1,-.03l1,.03l1,-.05l1,-.14l1,-.15l1,.15l1,.36l1,-.15l1,-.13l1,-.15l1,.15l1,.48l1,-.12l1,-.12l1,-.04l1,.13l1,-.34l1,-.16l1,-.05l1,.15l1,.46l1,-.16l1,-.07l1,-.13l1,-.15l1,.07l1,-.06l1,.15l1,-.04l1,-.07l1,.15l1,.06l1,-.15l1,.15l1,-.02l1,.15l1,-.16l1,-.15l1,-.13l1,-.14l1,.15l1,.16l1,-.14l1,.13l1,.03l1,-.05l1,-.15l1,.15l1,.22l1,.1l1,-.11l1,.15l1,.1l1,-.17l1,-.07l1,.15l1,-.09l1,-.15l1,.15l1,.08l1,-.27l1,-.15l1,.01l1,.15l1,.33l1,.15l1,-.48l1,-.15l1,-.06l1,.07l1,-.07l1,.15l1,.47l1,-.41l1,-.15l1,.15l1,-.09l1,.09l1,-.21l1,-.15l1,0l1,.15l1,.06l1,.05l1,.15l1,-.41l1,-.15l1,.15l1,.27l1,-.12l1,-.15l1,.15l1,.12l1,-.15l1,-.22l1,-.15l1,.1l1,-.09l1,-.15l1,.15l1,-.19l1,-.15l1,.15l1,.01l1,.16l1,-.34l1,-.15l1,.15l1,.05l1,-.5l1,-.15l1,.15l1,.07l1,-.41l1,-.49l1,-.15l1,.11l1,-.15l1,.15l1,-.36l1,-.48l1,-.15l1,.1l1,-.5l1,-.15l1,0l1,-.5l1,-.15l1,-.26l1,-.15l1,-.03l1,-.09l1,-.34l1,-.31l1,-.55l1,-.55l1,-.56l1,-.48l1,-.15l1,-.27l1,-.5l1,-.69l1,-.59l1,-.47l1,-.3l1,-.55l1,-.5l1,-.15l1,.02l1,-.15l1,.15l1,0l1,.11l1,.19l1,.34l1,.46l1,.55l1,.24l1,.5l1,.38l1,.5l1,.68l1,.51l1,.63l1,1.08l1,.17l1,.45l1,.54l1,.7l1,.68l1,.17l1,-.14l1,.15l1,.36l1,.15l1,.47l1,-.08l1,.13l1,.22l1,-.13l1,.15l1,.5l1,.31l1,-.15l1,.14l1,.22l1,.13l1,.17l1,-.17l1,-.15l1,.15l1,.15l1,.12l1,-.38l1,-.15l1,.15l1,.5l1,-.03l1,.05l1,-.18l1,-.15l1,.01l1,-.15l1,.15l1,.45l1,-.14l1,.11l1,.18l1,-.47l1,-.15l1,.15l1,-.11l1,-.15l1,.15l1,-.02l1,-.12l1,.15l1,.23l1,-.15l1,.15l1,-.25l1,-.15l1,.15l1,.33l1,.15l1,-.07l1,-.31l1,-.15l1,.15l1,.42l1,-.44l1,-.15l1,.09l1,-.42l1,-.18l1,-.1l1,-.01l1,.05l1,-.09l1,.15l1,.16l1,-.24l1,-.15l1,-.24l1,-.15l1,.02l1,-.36l1,-.45l1,-.15l1,-.61l1,-.5l1,-.46l1,-1.04l1,-1.32l1,-1.88l1,-3.57l1,-5.22l1,-7.29l1,-11.67l1,-13.31l1,-15.7l1,-10.42l1,-3.51l1,-1.15l1,-.5l1,-.15l1,.15l1,.5l1,1.15l1,5.06l1,12.45l1,14.99l1,13.57l1,10.4l1,7.38l1,4.08l1,3.03l1,2l1,1.21l1,.94l1,.5l1,.34l1,.42l1,.15l1,.13l1,.15l1,.5l1,.12l1,-.15l1,.14l1,.25l1,.44l1,.15l1,-.06l1,-.15l1,.15l1,-.04l1,-.15l1,-.1l1,-.15l1,.15l1,.05l1,-.15l1,.15l1,-.16l1,-.04l1,.15l1,-.1l1,-.15l1,.07l1,.16l1,-.29l1,-.15l1,.13l1,.04l1,-.15l1,.15l1,-.14l1,.08l1,-.15l1,-.62l1,-.39l1,-.31l1,-.47l1,-.44l1,-.56l1,-.65l1,-2.24l1,-3.34l1,-4.38l1,-7.43l1,-9.64l1,-12.08l1,-10.93l1,-6.55l1,-1.43l1,-.75l1,-.31l1,0l1,.31l1,.75l1,2.02l1,6.18l1,11.31l1,11.78l1,9.26l1,6.74l1,5.2l1,3.52l1,1.7l1,.85l1,.7l1,.37l1,.16l1,.04l1,.31l1,.26l1,-.04l1,-.15l1,.15l1,.13l1,.11l1,-.11l1,.15l1,-.35l1,-.35l1,-.16l1,-.07l1,-.49l1,-.25l1,-.14l1,-.76l1,-.59l1,-.93l1,-1.27l1,-2.17l1,-2.59l1,-3.52l1,-6.1l1,-10.54l1,-14.09l1,-19.49l1,-23.5l1,-24.77l1,-14.47l1,-3.13l1,-.88l1,-.39l1,-.05l1,.24l1,.64l1,1.63l1,9.15l1,23.44l1,24.73l1,21.44l1,15.53l1,11.35l1,7.01l1,5.04l1,2.88l1,2.17l1,1.5l1,.77l1,.95l1,.51l1,.64l1,.61l1,.58l1,.18l1,-.15l1,.15l1,.16l1,.15l1,.35l1,-.01l1,.03l1,.15l1,.21l1,-.15l1,.09l1,-.14l1,-.12l1,.04l1,-.16l1,-.06l1,0l1,-.22l1,-.31l1,-.28l1,-.82l1,-1.53l1,-2.43l1,-3.16l1,-4.59l1,-2.8l1,-2.2l1,-.84l1,-.5l1,-.15l1,.15l1,.5l1,1.15l1,2.31l1,2.8l1,4.06l1,3.3l1,2.72l1,1.53l1,.83l1,.63l1,.31l1,.04l1,0l1,.31l1,.43l1,.12l1,.01l1,.12l1,-.07l1,-.15l1,.15l1,.43l1,-.31l1,-.15l1,.15l1,.06l1,-.15l1,.1l1,-.06l1,-.11l1,.15l1,.27l1,-.15l1,-.16l1,-.09l1,.15l1,.5l1,.28l1,-.19l1,-.12l1,-.31l1,-.15l1,.15l1,.08l1,-.15l1,.15l1,.05l1,.14l1,-.07l1,-.05l1,.04l1,.15l1,.28l1,.21l1,-.06l1,-.48l1,-.15l1,.14l1,-.19l1,-.12l1,.15l1,.25l1,-.15l1,.09l1,-.15l1,.15l1,.05l1,.03l1,.05l1,.16l1,0l1,-.16l1,-.08l1,-.26l1,-.15l1,.15l1,.39l1,-.39l1,-.15l1,.15l1,.21l1,.13l1,-.19l1,-.12l1,.15l1,.24l1,-.15l1,.15l1,-.07l1,-.16l1,-.06l1,.14l1,-.03l1,-.03l1,.15l1,.2l1,-.44l1,-.15l1,.07l1,.13l1,-.06l1,-.15l1,-.06l1,.15l1,-.06l1,-.15l1,.15l1,.48l1,-.07l1,.14l1,.16l1,.03l1,-.28l1,-.15l1,-.21l1,-.15l1,.15l1,.13l1,.09l1,-.04l1,-.17l1,-.09l1,.15l1,-.12l1,-.15l1,-.06l1,.12l1,-.15l1,.15l1,.04l1,.08l1,.12l1,.13l1,-.07l1,.14l1,0l1,-.37l1,-.15l1,.15l1,-.04l1,-.15l1,.15l1,.38l1,-.43l1,-.16l1,-.07l1,.15l1,.27l1,.15l1,-.17l1,-.15l1,-.06l1,-.23l1,-.16l1,.04l1,-.06l1,.08l1,-.22l1,-.28l1,-.12l1,-.81l1,-.66l1,-1.13l1,-1.03l1,-1.09l1,-.5l1,-.15l1,-.34l1,-.06l1,.25l1,.64l1,.82l1,1.16l1,.95l1,1.03l1,.59l1,.3l1,.25l1,.32l1,.09l1,.03l1,.09l1,-.08l1,.15l1,.45l1,-.13l1,.07l1,.1l1,-.21l1,-.17l1,-.09l1,.15l1,.26l1,-.15l1,.15l1,.28l1,-.15l1,.15l1,.17l1,-.43l1,-.31l1,-.15l1,.15l1,.38l1,-.15l1,.1l1,-.07l1,-.15l1,.15l1,.13l1,-.29l1,-.15l1,.15l1,.07l1,-.02l1,-.15l1,.15l1,-.13l1,.14l1,-.11l1,-.16l1,-.06l1,.15l1,-.01l1,.09l1,-.17l1,-.07l1,.15l1,.43l1,-.05l1,-.2l1,-.35l1,-.15l1,.13l1,.07l1,-.16l1,-.15l1,.15l1,.1l1,-.22l1,-.15l1,-.21l1,-.09l1,-.18l1,-.13l1,-.5l1,-.28l1,-.68l1,-1.51l1,-2.31l1,-3.73l1,-5.03l1,-5.59l1,-4.33l1,-2.2l1,-1.13l1,-.5l1,-.15l1,.15l1,.4l1,.74l1,2.19l1,4.82l1,5.74l1,5.23l1,3.37l1,2.44l1,1.3l1,.83l1,.31l1,.29l1,.19l1,.05l1,.15l1,.34l1,.28l1,.19l1,-.01l1,-.15l1,-.05l1,-.15l1,.15l1,.29l1,-.18l1,-.1l1,.15l1,.22l1,-.06l1,-.15l1,.15l1,.2l1,.15l1,-.06l1,.04l1,-.17l1,-.08l1,.14l1,.16l1,-.17l1,-.1l1,.02l1,-.15l1,.14l1,.26l1,.11l1,-.12l1,-.29l1,-.15l1,.01l1,.15l1,.04l1,.15l1,-.07l1,.15l1,.23l1,.06l1,0l1,-.16l1,-.11l1,-.22l1,-.15l1,.15l1,.05l1,-.15l1,.15l1,.38l1,-.02l1,-.33l1,-.15l1,.15l1,-.1l1,.14l1,-.03l1,-.15l1,.15l1,.13l1,-.14l1,.15l1,-.26l1,-.15l1,.14l1,-.15l1,.15l1,.51l1,-.45l1,-.15l1,.15l1,.13l1,.12l1,-.12l1,-.06l1,-.13l1,.1l1,-.15l1,.11l1,-.15l1,.15l1,-.01l1,-.1l1,.15l1,.34l1,.13l1,-.15l1,-.32l1,-.15l1,.15l1,.32l1,-.4l1,-.15l1,.06l1,.16l1,.39l1,-.15l1,.15l1,-.06l1,-.13l1,.07l1,-.32l1,-.15l1,.15l1,.26l1,-.15l1,.14l1,-.15l1,.09l1,.18l1,.25l1,-.12l1,-.31l1,-.15l1,0l1,-.16l1,.14l1,.21l1,.01l1,-.16l1,-.08l1,-.07l1,.07l1,.17l1,-.07l1,.15l1,.09l1,-.15l1,-.18l1,-.15l1,.15l1,.35l1,-.15l1,.05l1,-.15l1,-.06l1,.01l1,-.03l1,.15l1,.33l1,-.44l1,-.15l1,.15l1,.24l1,-.09l1,.11l1,-.16l1,-.15l1,.14l1,.22l1,.2l1,-.42l1,-.15l1,.15l1,.5l1,-.08l1,-.49l1,-.15l1,.15l1,-.02l1,-.15l1,.15l1,.18l1,-.15l1,.15l1,.15l1,-.32l1,-.15l1,.06l1,.16l1,.05l1,-.1l1,.11l1,-.04l1,-.26l1,-.15l1,.15l1,.17l1,.06l1,.04l1,-.23l1,-.14l1,.15l1,.01l1,-.03l1,.14l1,-.15l1,.15l1,-.06l1,-.05l1,-.09l1,.15l1,.14l1,-.13l1,.01l1,-.15l1,.16l1,.43l1,-.28l1,-.5l1,-.15l1,.12l1,-.05l1,-.07l1,.15l1,.5l1,-.3l1,-.47l1,-.15l1,-.06l1,-.15l1,.15l1,-.12l1,-.08l1,-.28l1,-.2l1,-.31l1,-.06l1,-.64l1,-.79l1,-1.02l1,-2.12l1,-3.64l1,-5.07l1,-6.44l1,-7.38l1,-6.39l1,-2.33l1,-.75l1,-.31l1,-.06l1,.15l1,.5l1,.81l1,2.31l1,6.13l1,7.09l1,6.47l1,5.44l1,3.54l1,2.08l1,1.09l1,.64l1,.5l1,.27l1,.15l1,.26l1,.5l1,.48l1,.2l1,-.09l1,.12l1,-.43l1,-.15l1,.15l1,-.04l1,.03l1,.16l1,.13l1,-.08l1,-.15l1,.14l1,.09l1,-.15l1,.15l1,.24l1,-.15l1,.15l1,.43l1,-.1l1,.02l1,-.5l1,-.15l1,.13l1,.22l1,.05l1,-.15l1,.07l1,-.15l1,.15l1,.21l1,.07l1,-.25l1,-.15l1,.15l1,.5l1,-.32l1,-.16l1,-.05l1,-.07l1,.15l1,.15l1,-.04l1,.11l1,-.03l1,-.15l1,.02l1,.15l1,-.04l1,-.25l1,-.14l1,.15l1,.5l1,-.15l1,-.14l1,.15l1,-.21l1,-.17l1,-.1l1,.15l1,.28l1,-.13l1,.15l1,.09l1,-.14l1,.14l1,.02l1,-.02l1,-.1l1,.03l1,-.03l1,-.18l1,-.15l1,.15l1,-.04l1,-.1l1,-.15l1,.15l1,.26l1,-.12l1,-.15l1,.03l1,-.11l1,.15l1,-.15l1,-.15l1,.14l1,.08l1,.15l1,.13l1,-.04l1,-.15l1,.15l1,.18l1,-.5l1,-.16l1,.16l1,.03l1,-.15l1,.15l1,.15l1,-.03l1,.15l1,.14l1,-.09l1,.16l1,-.21l1,-.29l1,-.15l1,.15l1,.16l1,.1l1,-.37l1,-.15l1,.03l1,.09l1,-.05l1,.15l1,.11l1,-.15l1,.15l1,-.25l1,-.15l1,.15l1,-.01l1,0l1,-.15l1,.09l1,-.05l1,.15l1,.14l1,-.46l1,-.15l1,.14l1,-.36l1,-.15l1,.15l1,-.32l1,-.26l1,-.25l1,-.43l1,-.42l1,-.86l1,-1.98l1,-3l1,-4.56l1,-5.77l1,-6.06l1,-4.88l1,-1.69l1,-.64l1,-.24l1,.05l1,.24l1,.54l1,1.15l1,2.71l1,5.17l1,6.2l1,4.96l1,4.09l1,2.67l1,1.4l1,.76l1,.57l1,.06l1,.26l1,.06l1,.39l1,-.01l1,.15l1,.16l1,.15l1,.4l1,-.15l1,.12l1,-.15l1,-.05l1,-.15l1,.08l1,-.15l1,-.07l1,.04l1,.21l1,-.18l1,-.12l1,-.03l1,.06l1,-.08l1,-.55l1,-.42l1,-.24l1,-.4l1,-.15l1,-.39l1,-.09l1,-.15l1,.15l1,.5l1,.29l1,.38l1,.44l1,.22l1,.3l1,.09l1,.15l1,.43l1,-.22l1,-.09l1,.14l1,.15l1,.02l1,.02l1,-.1l1,.15l1,.5l1,-.16l1,-.15l1,-.17l1,-.15l1,.11l1,.16l1,-.15l1,-.15l1,.08l1,-.15l1,.15l1,.06l1,.15l1,.46l1,-.27l1,-.15l1,-.2l1,-.23l1,0l1,-.15l1,-.05l1,-.12l1,0l1,.31l1,-.37l1,-.61l1,-.49l1,-.58l1,-1.23l1,-.77l1,-.63l1,-.5l1,-.15l1,.15l1,.31l1,.31l1,.75l1,1.02l1,.73l1,.5l1,.85l1,.06l1,.15l1,-.04l1,.15l1,.4l1,.05l1,.1l1,-.01l1,-.15l1,.15l1,.18l1,.01l1,-.5l1,-.15l1,.15l1,.06l1,-.15l1,-.18l1,-.15l1,-.06l1,-.15l1,.02l1,-.47l1,-.34l1,-.36l1,-1.02l1,-1.67l1,-2.37l1,-4.31l1,-4.82l1,-4.38l1,-3.1l1,-.96l1,-.42l1,-.19l1,-.09l1,.21l1,.59l1,1.45l1,3.52l1,4.8l1,5.14l1,3.2l1,2.4l1,1.54l1,.81l1,.17l1,.26l1,.06l1,.19l1,.04l1,.14l1,0l1,.03l1,-.13l1,-.12l1,-.32l1,-.34l1,-1.29l1,-1.9l1,-1.58l1,-2.3l1,-.92l1,-.98l1,-.5l1,-.15l1,.15l1,.4l1,.75l1,1.73l1,2.16l1,2.23l1,1.15l1,1.34l1,.38l1,.31l1,.19l1,.15l1,.2l1,.05l1,0l1,0l1,.17l1,.17l1,.05l1,-.15l1,.1l1,.06l1,.16l1,.49l.5,.01l0,6.8l-.5,0l-1,0l-1,-.15l-1,-.5l-1,0l-1,.16l-1,-.14l-1,.05l-1,-.16l-1,.25l-1,.15l-1,-.06l-1,-.15l-1,-.18l-1,-.3l-1,.12l-1,-.15l-1,-.44l-1,-.32l-1,-.74l-1,-.82l-1,-.94l-1,-.97l-1,-1.59l-1,-1.51l-1,1.7l-1,1.24l-1,1.27l-1,1.06l-1,.5l-1,.61l-1,.31l-1,.15l-1,.15l-1,.19l-1,.15l-1,.01l-1,0l-1,-.19l-1,.04l-1,.06l-1,-.14l-1,-.09l-1,-.18l-1,-.15l-1,-.34l-1,-.28l-1,-.34l-1,-.63l-1,-1.01l-1,-.64l-1,-1.68l-1,-1.29l-1,-2.47l-1,-2.73l-1,-1.6l-1,3.14l-1,2.52l-1,2.15l-1,1.57l-1,1.15l-1,.77l-1,.59l-1,.21l-1,.25l-1,.58l-1,.22l-1,.16l-1,.13l-1,.33l-1,.09l-1,-.09l-1,-.15l-1,.15l-1,.42l-1,.15l-1,-.15l-1,.11l-1,-.1l-1,-.13l-1,.09l-1,.05l-1,.2l-1,0l-1,-.31l-1,.07l-1,.15l-1,-.15l-1,-.06l-1,-.31l-1,-.14l-1,-.17l-1,-.31l-1,-.72l-1,-.57l-1,-.57l-1,-.64l-1,-.69l-1,-.32l-1,.86l-1,.96l-1,.5l-1,.42l-1,.48l-1,.55l-1,.35l-1,.31l-1,.15l-1,-.15l-1,.06l-1,.31l-1,0l-1,.04l-1,-.02l-1,-.11l-1,.17l-1,.15l-1,-.1l-1,-.02l-1,.04l-1,.15l-1,-.15l-1,.12l-1,-.15l-1,-.04l-1,-.15l-1,-.34l-1,.18l-1,.15l-1,.05l-1,.17l-1,.08l-1,-.09l-1,-.17l-1,.21l-1,.06l-1,-.09l-1,.06l-1,-.24l-1,-.04l-1,.06l-1,-.08l-1,-.15l-1,-.35l-1,.06l-1,-.14l-1,-.24l-1,-.5l-1,-.2l-1,-.5l-1,-.38l-1,-.06l-1,.38l-1,.27l-1,.51l-1,.42l-1,.15l-1,.15l-1,.16l-1,.15l-1,.14l-1,.15l-1,-.03l-1,-.04l-1,.06l-1,-.12l-1,.06l-1,.05l-1,-.16l-1,-.24l-1,.05l-1,.15l-1,-.15l-1,.13l-1,.08l-1,-.15l-1,-.44l-1,-.15l-1,.05l-1,.03l-1,-.06l-1,-.09l-1,-.15l-1,-.2l-1,-.5l-1,-.53l-1,-.42l-1,-.45l-1,-.85l-1,-.93l-1,-1l-1,-2.18l-1,-2.45l-1,-3.09l-1,-4.87l-1,2.66l-1,4.26l-1,2.92l-1,1.84l-1,1.54l-1,1.14l-1,.79l-1,.38l-1,.74l-1,.41l-1,.38l-1,.2l-1,.23l-1,.38l-1,.11l-1,.12l-1,-.09l-1,.05l-1,-.13l-1,.07l-1,.32l-1,.17l-1,.08l-1,-.15l-1,-.2l-1,.5l-1,.15l-1,-.15l-1,-.07l-1,-.15l-1,.08l-1,.09l-1,-.15l-1,.2l-1,.15l-1,-.15l-1,-.5l-1,-.19l-1,.19l-1,.23l-1,.13l-1,-.1l-1,.14l-1,-.15l-1,0l-1,.36l-1,.15l-1,-.15l-1,-.14l-1,.05l-1,-.15l-1,.19l-1,.15l-1,-.15l-1,-.18l-1,-.04l-1,.1l-1,.2l-1,.11l-1,-.12l-1,-.19l-1,.05l-1,.28l-1,.15l-1,-.15l-1,-.5l-1,.09l-1,.15l-1,-.02l-1,-.15l-1,-.17l-1,.34l-1,.15l-1,-.15l-1,-.09l-1,.25l-1,.15l-1,-.15l-1,.08l-1,-.1l-1,.15l-1,-.15l-1,-.19l-1,0l-1,.11l-1,-.02l-1,.06l-1,-.14l-1,.31l-1,.15l-1,-.15l-1,-.24l-1,-.14l-1,-.28l-1,.19l-1,.47l-1,.16l-1,-.16l-1,-.21l-1,.19l-1,.14l-1,-.15l-1,-.17l-1,.15l-1,-.02l-1,-.15l-1,-.08l-1,.15l-1,-.13l-1,-.18l-1,.37l-1,.15l-1,-.15l-1,-.5l-1,.45l-1,.15l-1,-.06l-1,-.08l-1,-.16l-1,.07l-1,-.12l-1,.15l-1,.15l-1,-.15l-1,-.14l-1,.25l-1,.15l-1,-.15l-1,-.44l-1,.11l-1,.16l-1,.06l-1,-.13l-1,.08l-1,-.05l-1,.07l-1,.15l-1,-.15l-1,-.3l-1,.15l-1,-.15l-1,-.12l-1,.15l-1,-.03l-1,.15l-1,-.15l-1,-.05l-1,.15l-1,-.15l-1,-.19l-1,.15l-1,-.15l-1,.12l-1,-.15l-1,-.3l-1,-.2l-1,-.1l-1,-.16l-1,0l-1,-.31l-1,-.39l-1,-.5l-1,-.44l-1,-.5l-1,-.61l-1,-.84l-1,-1.15l-1,-1.73l-1,-2.41l-1,-2.95l-1,-4.38l-1,-5.44l-1,5.43l-1,4.39l-1,2.76l-1,2.18l-1,1.47l-1,1.8l-1,.74l-1,.49l-1,.53l-1,.58l-1,.45l-1,.5l-1,.15l-1,.33l-1,.19l-1,.15l-1,-.15l-1,.32l-1,.15l-1,-.15l-1,-.21l-1,.14l-1,.42l-1,.15l-1,.05l-1,.09l-1,-.15l-1,-.5l-1,-.02l-1,.5l-1,.15l-1,.03l-1,.14l-1,-.07l-1,-.17l-1,-.18l-1,-.04l-1,.12l-1,0l-1,-.15l-1,-.06l-1,.49l-1,.15l-1,-.09l-1,.15l-1,-.15l-1,-.04l-1,.15l-1,-.15l-1,.12l-1,.15l-1,-.15l-1,-.02l-1,.15l-1,-.15l-1,-.01l-1,.15l-1,-.15l-1,-.46l-1,.36l-1,.15l-1,-.15l-1,-.36l-1,.46l-1,.15l-1,-.05l-1,-.05l-1,.15l-1,-.15l-1,-.05l-1,.15l-1,-.1l-1,.05l-1,.15l-1,-.15l-1,-.03l-1,.08l-1,-.12l-1,.15l-1,-.13l-1,-.15l-1,-.16l-1,-.23l-1,.16l-1,.07l-1,-.11l-1,.25l-1,.15l-1,-.15l-1,.11l-1,-.08l-1,-.05l-1,-.15l-1,-.27l-1,0l-1,.4l-1,.15l-1,-.12l-1,.15l-1,-.02l-1,-.15l-1,-.18l-1,0l-1,.35l-1,.15l-1,-.15l-1,-.27l-1,-.15l-1,-.28l-1,.09l-1,.31l-1,.15l-1,-.03l-1,-.15l-1,-.27l-1,.15l-1,.07l-1,.46l-1,.15l-1,-.14l-1,-.18l-1,-.16l-1,-.19l-1,.14l-1,.14l-1,.15l-1,-.15l-1,-.15l-1,.15l-1,-.11l-1,-.06l-1,.17l-1,.12l-1,.09l-1,.15l-1,-.15l-1,-.28l-1,.32l-1,.15l-1,-.15l-1,-.17l-1,-.15l-1,.1l-1,.01l-1,.15l-1,-.15l-1,.12l-1,-.15l-1,.24l-1,.15l-1,-.15l-1,.15l-1,-.15l-1,-.23l-1,-.15l-1,-.2l-1,.06l-1,.12l-1,.08l-1,.15l-1,.1l-1,.15l-1,-.04l-1,-.13l-1,-.2l-1,-.11l-1,-.13l-1,.47l-1,.15l-1,-.15l-1,-.34l-1,.02l-1,.4l-1,.15l-1,-.15l-1,0l-1,.15l-1,-.15l-1,-.4l-1,.13l-1,.18l-1,.15l-1,-.15l-1,-.15l-1,.15l-1,-.15l-1,-.36l-1,.11l-1,.18l-1,.14l-1,-.07l-1,-.03l-1,.12l-1,-.15l-1,-.07l-1,-.15l-1,-.11l-1,-.15l-1,-.06l-1,.33l-1,.15l-1,-.05l-1,.02l-1,-.15l-1,-.19l-1,.15l-1,-.14l-1,.39l-1,.15l-1,-.15l-1,-.38l-1,.19l-1,.15l-1,-.02l-1,.15l-1,-.15l-1,.12l-1,0l-1,.15l-1,-.15l-1,-.39l-1,-.15l-1,.12l-1,.15l-1,-.15l-1,-.11l-1,.15l-1,-.15l-1,.15l-1,.15l-1,-.15l-1,-.5l-1,.15l-1,-.15l-1,-.02l-1,-.15l-1,-.5l-1,-.17l-1,-.32l-1,-.25l-1,-.46l-1,-.31l-1,-.75l-1,-1.09l-1,-1.15l-1,-2l-1,-2.64l-1,-2.68l-1,-4.29l-1,4.34l-1,2.77l-1,2.24l-1,1.96l-1,1.42l-1,1.11l-1,.74l-1,.32l-1,.48l-1,.49l-1,.32l-1,.34l-1,.15l-1,-.15l-1,.43l-1,.15l-1,-.15l-1,-.16l-1,.48l-1,.15l-1,-.05l-1,.15l-1,-.15l-1,-.5l-1,.04l-1,.19l-1,.38l-1,.16l-1,.07l-1,-.15l-1,-.39l-1,-.01l-1,.15l-1,-.15l-1,.15l-1,-.15l-1,.13l-1,.15l-1,-.12l-1,-.2l-1,.14l-1,.23l-1,.15l-1,-.15l-1,-.03l-1,-.15l-1,.03l-1,.17l-1,.11l-1,-.15l-1,.01l-1,-.08l-1,.12l-1,.15l-1,-.06l-1,-.15l-1,.07l-1,.16l-1,.13l-1,.12l-1,-.16l-1,.03l-1,0l-1,-.15l-1,-.15l-1,.14l-1,-.15l-1,.03l-1,.15l-1,-.15l-1,-.23l-1,.18l-1,.15l-1,-.07l-1,-.06l-1,-.13l-1,.19l-1,-.05l-1,-.15l-1,-.15l-1,-.2l-1,-.22l-1,-.48l-1,-.28l-1,-.38l-1,-.64l-1,-.66l-1,-.99l-1,-1.08l-1,-.2l-1,1.04l-1,.92l-1,.5l-1,.79l-1,.66l-1,.42l-1,.14l-1,.42l-1,.16l-1,.24l-1,-.03l-1,-.01l-1,.24l-1,-.06l-1,.1l-1,-.06l-1,-.06l-1,.17l-1,.08l-1,-.15l-1,-.27l-1,-.05l-1,.5l-1,.16l-1,-.15l-1,-.26l-1,-.04l-1,.32l-1,.15l-1,-.15l-1,-.33l-1,.15l-1,-.03l-1,-.14l-1,.02l-1,-.11l-1,-.12l-1,.44l-1,.15l-1,-.15l-1,-.38l-1,-.15l-1,.28l-1,.25l-1,.15l-1,-.15l-1,.08l-1,.15l-1,-.15l-1,-.01l-1,.15l-1,-.15l-1,-.07l-1,.1l-1,.15l-1,-.07l-1,-.02l-1,-.08l-1,.03l-1,.15l-1,-.15l-1,-.4l-1,-.15l-1,.04l-1,-.15l-1,.32l-1,.15l-1,-.14l-1,-.24l-1,.2l-1,.32l-1,.15l-1,-.15l-1,-.25l-1,-.11l-1,.1l-1,-.14l-1,.21l-1,.2l-1,.12l-1,-.13l-1,.15l-1,-.15l-1,-.37l-1,.47l-1,.15l-1,-.15l-1,.01l-1,-.15l-1,.07l-1,.06l-1,-.15l-1,-.26l-1,.15l-1,-.13l-1,.38l-1,.15l-1,-.09l-1,-.18l-1,-.29l-1,.38l-1,.15l-1,-.15l-1,-.21l-1,-.06l-1,.15l-1,-.15l-1,-.24l-1,.5l-1,.15l-1,-.15l-1,-.02l-1,.04l-1,.07l-1,.04l-1,-.15l-1,-.4l-1,-.19l-1,.08l-1,.11l-1,-.06l-1,.15l-1,-.15l-1,-.02l-1,.09l-1,.08l-1,.15l-1,-.15l-1,.22l-1,.15l-1,-.14l-1,-.01l-1,-.15l-1,-.04l-1,.15l-1,-.06l-1,.15l-1,-.15l-1,-.5l-1,-.18l-1,.43l-1,.17l-1,.09l-1,-.15l-1,-.02l-1,.05l-1,-.15l-1,-.24l-1,.15l-1,-.15l-1,-.35l-1,-.01l-1,-.06l-1,.15l-1,-.13l-1,-.32l-1,.06l-1,0l-1,-.31l-1,-.17l-1,-.35l-1,-.57l-1,-.61l-1,-.75l-1,-1.74l-1,-1.41l-1,-1.28l-1,-2.29l-1,-3.1l-1,2.79l-1,2.34l-1,2.13l-1,.75l-1,1.15l-1,.67l-1,.76l-1,.74l-1,.32l-1,.11l-1,.2l-1,.15l-1,-.08l-1,.18l-1,.31l-1,0l-1,-.31l-1,-.36l-1,.09l-1,.39l-1,.15l-1,-.04l-1,-.16l-1,-.37l-1,.15l-1,-.15l-1,-.3l-1,.15l-1,-.15l-1,-.5l-1,.08l-1,-.15l-1,-.34l-1,-.5l-1,-.71l-1,-.19l-1,-.22l-1,-.59l-1,-1l-1,-.44l-1,-.88l-1,-1.26l-1,-1.33l-1,-1.44l-1,-2.53l-1,-2.38l-1,-4.43l-1,-5.58l-1,-8l-1,-12.48l-1,-17.84l-1,6.45l-1,15.67l-1,12.01l-1,6.76l-1,4.39l-1,3.85l-1,2.55l-1,1.69l-1,1.89l-1,1.11l-1,.95l-1,.55l-1,1.06l-1,.78l-1,.46l-1,.24l-1,.15l-1,-.03l-1,.49l-1,.17l-1,.08l-1,.32l-1,.49l-1,.16l-1,.08l-1,-.15l-1,-.07l-1,.22l-1,.15l-1,-.15l-1,-.04l-1,-.14l-1,-.23l-1,.12l-1,-.11l-1,0l-1,-.3l-1,-.19l-1,-.5l-1,-.47l-1,-.5l-1,-.68l-1,-1.15l-1,-.81l-1,-1.47l-1,-1.83l-1,-2.71l-1,-4.54l-1,-5.6l-1,-7.58l-1,-.17l-1,8.4l-1,5.38l-1,3.96l-1,2.68l-1,2.2l-1,1.25l-1,1.32l-1,.75l-1,.77l-1,.75l-1,.58l-1,.31l-1,.31l-1,.15l-1,.12l-1,.44l-1,.15l-1,.17l-1,.15l-1,-.15l-1,.15l-1,.47l-1,.15l-1,-.15l-1,-.23l-1,.17l-1,.09l-1,-.15l-1,-.31l-1,.43l-1,.15l-1,-.15l-1,-.05l-1,.15l-1,.28l-1,.15l-1,-.15l-1,-.49l-1,-.04l-1,.21l-1,.19l-1,.11l-1,-.15l-1,.04l-1,-.04l-1,-.15l-1,-.01l-1,-.15l-1,-.46l-1,.15l-1,-.03l-1,-.15l-1,-.43l-1,.02l-1,-.15l-1,-.5l-1,-.07l-1,-.26l-1,-.46l-1,-.3l-1,-.5l-1,-.5l-1,-.88l-1,-.88l-1,-1.15l-1,-1.68l-1,-1.95l-1,-2.34l-1,-4.3l-1,-5.27l-1,-8.65l-1,-11.25l-1,9.3l-1,8.74l-1,6.49l-1,3.78l-1,3.23l-1,1.63l-1,1.71l-1,.81l-1,1.25l-1,.71l-1,1.14l-1,.54l-1,.3l-1,.55l-1,.55l-1,.18l-1,-.07l-1,.49l-1,.15l-1,-.11l-1,.32l-1,.15l-1,-.04l-1,.27l-1,.15l-1,-.11l-1,-.18l-1,-.03l-1,-.07l-1,.04l-1,.41l-1,.34l-1,.15l-1,.03l-1,.17l-1,.09l-1,-.08l-1,-.17l-1,.13l-1,.1l-1,.15l-1,-.15l-1,.11l-1,-.15l-1,.08l-1,.13l-1,-.06l-1,.15l-1,-.15l-1,-.4l-1,-.15l-1,.11l-1,.15l-1,.22l-1,.13l-1,-.04l-1,.16l-1,.06l-1,-.15l-1,-.34l-1,.14l-1,-.12l-1,-.18l-1,.15l-1,-.15l-1,.05l-1,.04l-1,-.01l-1,.14l-1,.07l-1,-.15l-1,.04l-1,-.13l-1,-.01l-1,.15l-1,-.15l-1,-.04l-1,.15l-1,-.15l-1,-.4l-1,-.12l-1,.09l-1,.15l-1,-.12l-1,-.18l-1,-.23l-1,-.11l-1,-.15l-1,-.5l-1,-.03l-1,-.14l-1,-.23l-1,-.4l-1,-.15l-1,-.14l-1,-.1l-1,-.17l-1,-.26l-1,-.42l-1,-.53l-1,-.76l-1,-.47l-1,-.15l-1,-.44l-1,-.56l-1,-1.08l-1,-.76l-1,-.44l-1,-.15l-1,-.5l-1,-.64l-1,-.49l-1,-.65l-1,-.16l-1,.15l-1,-.15l-1,.31l-1,.5l-1,.15l-1,.07l-1,.88l-1,.5l-1,.51l-1,.52l-1,.42l-1,.15l-1,.25l-1,.55l-1,.55l-1,.48l-1,.23l-1,.35l-1,.39l-1,.15l-1,.3l-1,.5l-1,.15l-1,-.01l-1,.43l-1,.15l-1,-.07l-1,.22l-1,.13l-1,.11l-1,.29l-1,.22l-1,.14l-1,-.09l-1,.15l-1,.19l-1,.32l-1,.42l-1,.15l-1,-.09l-1,.12l-1,.16l-1,-.04l-1,.1l-1,.12l-1,.17l-1,.09l-1,.18l-1,.15l-1,-.06l-1,.16l-1,.03l-1,-.15l-1,0l-1,-.15l-1,-.01l-1,.15l-1,.37l-1,.15l-1,-.15l-1,-.38l-1,.08l-1,-.03l-1,-.08l-1,.24l-1,.15l-1,-.08l-1,-.16l-1,.3l-1,.15l-1,-.15l-1,-.09l-1,.15l-1,-.15l-1,.16l-1,.15l-1,-.11l-1,.15l-1,-.04l-1,-.12l-1,-.2l-1,-.33l-1,.01l-1,.5l-1,.17l-1,.09l-1,-.15l-1,-.11l-1,-.15l-1,-.2l-1,.47l-1,.15l-1,-.15l-1,-.12l-1,.15l-1,-.11l-1,-.18l-1,.11l-1,.15l-1,.01l-1,-.15l-1,-.11l-1,.29l-1,.15l-1,-.15l-1,-.09l-1,-.15l-1,-.31l-1,-.11l-1,.16l-1,.08l-1,-.15l-1,-.13l-1,.25l-1,.3l-1,.15l-1,-.15l-1,-.02l-1,.13l-1,.15l-1,-.15l-1,-.29l-1,-.12l-1,.15l-1,-.15l-1,-.2l-1,.35l-1,.15l-1,-.15l-1,.22l-1,.15l-1,-.13l-1,-.21l-1,.17l-1,.15l-1,-.15l-1,-.25l-1,.03l-1,.14l-1,.07l-1,-.06l-1,-.09l-1,.15l-1,.09l-1,.15l-1,-.15l-1,-.45l-1,-.01l-1,-.06l-1,.04l-1,-.03l-1,.27l-1,.15l-1,-.11l-1,-.19l-1,-.26l-1,.5l-1,.15l-1,-.15l-1,-.29l-1,.4l-1,.15l-1,-.13l-1,-.22l-1,.11l-1,-.09l-1,.15l-1,-.11l-1,.15l-1,.01l-1,.16l-1,-.1l-1,-.15l-1,.13l-1,-.15l-1,.14l-1,-.15l-1,.05l-1,.15l-1,-.15l-1,-.5l-1,.38l-1,.15l-1,-.15l-1,-.2l-1,.15l-1,-.15l-1,.18l-1,.13l-1,-.04l-1,.12l-1,.09l-1,-.15l-1,.06l-1,-.15l-1,-.23l-1,.21l-1,.17l-1,.1l-1,-.11l-1,.15l-1,-.05l-1,-.16l-1,-.35l-1,.15l-1,.15l-1,-.13l-1,-.2l-1,.18l-1,.15l-1,-.15l-1,.16l-1,-.15l-1,-.19l-1,.11l-1,.2l-1,.13l-1,-.15l-1,.13l-1,-.13l-1,-.21l-1,-.24l-1,0l-1,.36l-1,.15l-1,-.12l-1,-.21l-1,-.1l-1,-.09l-1,.23l-1,.16l-1,.06l-1,-.16l-1,-.21l-1,.07l-1,.14l-1,.23l-1,.18l-1,.11l-1,-.15l-1,-.5l-1,-.29l-1,.07l-1,.5l-1,.15l-1,-.15l-1,-.22l-1,.09l-1,-.14l-1,-.14l-1,.5l-1,.15l-1,-.14l-1,-.05l-1,.15l-1,.01l-1,.1l-1,-.11l-1,-.16l-1,.15l-1,-.15l-1,-.31l-1,.28l-1,.15l-1,-.07l-1,.15l-1,-.15l-1,-.27l-1,.36l-1,.15l-1,-.15l-1,-.27l-1,.12l-1,-.15l-1,.09l-1,.15l-1,-.15l-1,.17l-1,.15l-1,-.01l-1,.03l-1,-.14l-1,.12l-1,-.15l-1,.05l-1,-.15l-1,-.1l-1,-.15l-1,-.22l-1,.1l-1,.05l-1,.19l-1,.18l-1,.13l-1,-.09l-1,.04l-1,.15l-1,.02l-1,-.11l-1,.15l-1,-.09l-1,.05l-1,-.15l-1,-.03l-1,.15l-1,-.15l-1,-.4l-1,0l-1,-.07l-1,.33l-1,.15l-1,-.15l-1,-.44l-1,.46l-1,.15l-1,-.13l-1,.13l-1,-.15l-1,.03l-1,.15l-1,-.03l-1,-.15l-1,-.16l-1,-.15l-1,-.04l-1,.43l-1,.15l-1,-.14l-1,-.27l-1,.23l-1,.15l-1,-.15l-1,.13l-1,-.15l-1,-.42l-1,.27l-1,.15l-1,-.15l-1,-.29l-1,.4l-1,.15l-1,-.15l-1,-.07l-1,.15l-1,-.13l-1,.02l-1,.15l-1,-.15l-1,-.2l-1,.16l-1,-.15l-1,-.16l-1,.05l-1,.1l-1,.15l-1,-.11l-1,.37l-1,.15l-1,-.15l-1,-.32l-1,.07l-1,.15l-1,-.03l-1,-.15l-1,.12l-1,-.14l-1,.08l-1,-.14l-1,.15l-1,-.02l-1,-.15l-1,.11l-1,-.13l-1,-.06l-1,.15l-1,.33l-1,.15l-1,-.15l-1,-.29l-1,.15l-1,-.15l-1,.25l-1,.15l-1,-.15l-1,-.27l-1,.04l-1,.05l-1,-.11l-1,-.09l-1,.33l-1,.16l-1,.06l-1,-.15l-1,.05l-1,-.15l-1,-.29l-1,.15l-1,-.14l-1,-.22l-1,.2l-1,.15l-1,-.15l-1,.44l-1,.15l-1,-.15l-1,.13l-1,-.09l-1,-.17l-1,-.03l-1,-.15l-1,.04l-1,.13l-1,.15l-1,-.09l-1,-.17l-1,-.38l-1,.41l-1,.15l-1,.06l-1,.15l-1,-.11l-1,-.19l-1,-.31l-1,.29l-1,.15l-1,-.15l-1,.02l-1,.06l-1,.15l-1,.06l-1,-.09l-1,-.17l-1,.14l-1,.15l-1,-.11l-1,.04l-1,-.14l-1,.12l-1,-.15l-1,-.2l-1,-.15l-1,-.04l-1,.1l-1,-.02l-1,.15l-1,.22l-1,.15l-1,-.15l-1,-.5l-1,.41l-1,.16l-1,.05l-1,-.15l-1,0l-1,-.01l-1,.15l-1,-.14l-1,.09l-1,-.12l-1,-.05l-1,.16l-1,-.16l-1,-.3l-1,.21l-1,.13l-1,-.15l-1,.06l-1,.07l-1,-.01l-1,.15l-1,-.15l-1,-.25l-1,.15l-1,.06l-1,.15l-1,.03l-1,.15l-1,-.15l-1,-.18l-1,.15l-1,-.15l-1,-.23l-1,.15l-1,-.02l-1,-.15l-1,.08l-1,0l-.5,0z"/>
<path fill="#00ad68" shape-rendering="crispEdges" d="M200.0,929.11l.5,0l1,0l1,.15l1,-.11l1,-.09l1,.16l1,.37l1,.27l1,-.47l1,-.16l1,.16l1,-.13l1,-.1l1,-.07l1,.1l1,.18l1,.51l1,-.03l1,-.52l1,-.16l1,.1l1,.18l1,.28l1,-.02l1,-.53l1,-.16l1,.16l1,.41l1,-.35l1,-.16l1,.04l1,-.15l1,.15l1,.47l1,-.29l1,-.15l1,.15l1,.12l1,.15l1,-.12l1,-.18l1,-.1l1,.11l1,-.3l1,-.16l1,.11l1,-.15l1,-.16l1,-.02l1,.15l1,.05l1,.15l1,-.05l1,-.13l1,-.07l1,-.15l1,.09l1,-.15l1,.15l1,-.14l1,.05l1,.05l1,-.16l1,.14l1,-.33l1,-.17l1,-.07l1,.12l1,.19l1,-.09l1,-.16l1,.01l1,-.14l1,-.04l1,-.16l1,.16l1,.52l1,.14l1,-.29l1,-.53l1,-.16l1,.15l1,.29l1,.1l1,-.16l1,.16l1,.06l1,-.2l1,-.18l1,-.09l1,.11l1,-.16l1,.15l1,.26l1,-.34l1,-.16l1,.05l1,.12l1,.2l1,.09l1,-.1l1,-.13l1,.16l1,.19l1,-.17l1,-.1l1,.02l1,.12l1,.2l1,-.12l1,-.08l1,.16l1,.14l1,.09l1,-.15l1,.15l1,.43l1,-.16l1,.16l1,-.1l1,-.14l1,-.01l1,-.15l1,.15l1,.14l1,.16l1,.32l1,-.45l1,-.15l1,.15l1,.13l1,-.02l1,.05l1,.1l1,-.16l1,-.07l1,.15l1,.45l1,.01l1,-.16l1,.16l1,.15l1,.12l1,-.12l1,-.41l1,-.16l1,.11l1,.19l1,.53l1,-.36l1,-.16l1,.16l1,.32l1,-.12l1,.04l1,-.16l1,.11l1,-.23l1,-.15l1,.15l1,-.2l1,-.16l1,.16l1,.5l1,-.52l1,-.16l1,.16l1,-.07l1,.16l1,-.07l1,-.16l1,.1l1,.18l1,.28l1,.14l1,-.36l1,-.25l1,-.15l1,.16l1,-.14l1,.15l1,-.04l1,.16l1,.53l1,-.05l1,-.16l1,-.23l1,-.16l1,.16l1,-.01l1,.15l1,.16l1,-.16l1,-.33l1,-.16l1,.01l1,.16l1,.34l1,.16l1,-.39l1,-.15l1,.15l1,.25l1,-.39l1,-.16l1,.16l1,.08l1,-.15l1,.15l1,.17l1,.08l1,-.17l1,-.07l1,.15l1,-.14l1,-.16l1,.02l1,.16l1,.43l1,-.17l1,-.07l1,.16l1,-.41l1,-.15l1,.15l1,-.01l1,.09l1,.18l1,-.02l1,-.13l1,-.15l1,.15l1,-.15l1,-.02l1,.15l1,.05l1,.15l1,.18l1,-.53l1,-.16l1,.16l1,.33l1,.04l1,.13l1,-.43l1,-.15l1,.13l1,.21l1,-.04l1,.16l1,.3l1,-.16l1,.05l1,-.24l1,-.15l1,.15l1,.02l1,-.02l1,-.16l1,.16l1,.31l1,-.19l1,-.31l1,-.15l1,.15l1,.09l1,-.09l1,-.17l1,-.05l1,.06l1,.17l1,-.12l1,.15l1,.06l1,.13l1,-.15l1,-.13l1,-.16l1,.16l1,.1l1,-.16l1,.16l1,0l1,-.18l1,-.15l1,-.01l1,.16l1,.53l1,.17l1,-.02l1,-.53l1,-.16l1,.16l1,.21l1,.08l1,.17l1,.03l1,-.53l1,-.16l1,.16l1,.45l1,.05l1,-.11l1,-.19l1,-.16l1,.16l1,-.04l1,.14l1,.23l1,-.32l1,-.17l1,-.08l1,.09l1,.18l1,.33l1,-.25l1,-.16l1,0l1,.03l1,-.16l1,-.14l1,-.16l1,.13l1,.22l1,.35l1,-.16l1,-.15l1,.16l1,-.23l1,-.18l1,-.08l1,.16l1,.53l1,.06l1,-.32l1,-.25l1,-.15l1,.13l1,.01l1,.16l1,.44l1,-.52l1,-.16l1,.08l1,.08l1,.01l1,-.15l1,.15l1,.38l1,-.11l1,-.16l1,-.16l1,.05l1,-.17l1,-.07l1,-.06l1,.16l1,-.07l1,-.06l1,.16l1,.09l1,.16l1,.3l1,.02l1,-.07l1,.15l1,.04l1,-.17l1,-.13l1,.11l1,.01l1,-.13l1,-.28l1,-.16l1,.16l1,-.09l1,-.16l1,.09l1,.18l1,-.07l1,.12l1,.19l1,-.07l1,-.16l1,.06l1,-.23l1,-.16l1,.15l1,-.16l1,.16l1,-.01l1,0l1,.16l1,.08l1,-.15l1,.15l1,.11l1,-.16l1,-.16l1,.16l1,.53l1,-.11l1,.14l1,-.35l1,-.15l1,.15l1,.18l1,-.48l1,-.15l1,.15l1,.22l1,-.16l1,.16l1,.21l1,-.5l1,-.16l1,.16l1,.08l1,.16l1,.05l1,-.16l1,.16l1,.04l1,-.16l1,.16l1,.44l1,.01l1,-.11l1,-.15l1,.03l1,-.1l1,-.08l1,-.03l1,-.3l1,-.16l1,.16l1,.3l1,.05l1,-.17l1,-.16l1,-.08l1,-.11l1,.16l1,.53l1,-.49l1,-.15l1,.15l1,.36l1,-.49l1,-.16l1,.16l1,.49l1,-.53l1,-.15l1,.1l1,-.16l1,.14l1,-.15l1,.1l1,.19l1,-.23l1,-.54l1,-.19l1,-.42l1,-.54l1,-.15l1,.07l1,-.16l1,-.66l1,-.53l1,-.16l1,.06l1,-.41l1,-.53l1,-.48l1,-.38l1,-.15l1,.15l1,-.29l1,-.16l1,-.04l1,-.16l1,.07l1,-.41l1,-.16l1,-.02l1,-.15l1,0l1,-.16l1,.16l1,.38l1,.23l1,.22l1,.16l1,.52l1,.15l1,.53l1,.39l1,.34l1,.48l1,.6l1,.76l1,.32l1,-.1l1,.15l1,.47l1,.4l1,-.12l1,.15l1,.24l1,-.1l1,.16l1,.17l1,.16l1,.29l1,-.42l1,-.15l1,.15l1,-.02l1,0l1,-.16l1,.16l1,.02l1,-.03l1,-.13l1,.15l1,.17l1,.15l1,.03l1,-.15l1,-.06l1,-.16l1,.05l1,.16l1,.5l1,-.16l1,-.53l1,-.16l1,.16l1,.53l1,-.03l1,-.47l1,-.15l1,.08l1,-.06l1,.16l1,.28l1,-.07l1,-.14l1,.16l1,.15l1,-.53l1,-.16l1,.1l1,.08l1,.02l1,.09l1,-.15l1,.15l1,-.01l1,.01l1,.16l1,-.22l1,-.16l1,.12l1,.02l1,-.24l1,-.14l1,.12l1,.2l1,.39l1,-.21l1,-.47l1,-.16l1,.15l1,.26l1,-.3l1,-.16l1,.14l1,.05l1,-.13l1,-.25l1,-.24l1,-.14l1,.16l1,-.34l1,-.15l1,.11l1,-.61l1,-.33l1,-.85l1,-.94l1,-1.99l1,-4.68l1,-9.2l1,-14.51l1,-20.76l1,-24.15l1,-14.97l1,-3.19l1,-.81l1,-.33l1,0l1,.33l1,.81l1,3.07l1,15.28l1,23.19l1,21.61l1,14.68l1,9.15l1,4.73l1,1.81l1,.97l1,.53l1,.53l1,.42l1,.03l1,0l1,.33l1,.29l1,-.16l1,.16l1,0l1,.16l1,.38l1,-.16l1,.16l1,.52l1,-.48l1,-.16l1,.16l1,.39l1,-.53l1,-.16l1,0l1,.16l1,.31l1,-.2l1,-.16l1,.16l1,.47l1,-.08l1,-.1l1,.03l1,-.41l1,-.15l1,.15l1,-.12l1,-.06l1,.16l1,.02l1,-.04l1,-.09l1,-.14l1,-.16l1,-.05l1,-.16l1,-.02l1,-.03l1,-.06l1,-.38l1,-.19l1,-.43l1,-.41l1,-1.35l1,-2.76l1,-6.12l1,-11.16l1,-15.4l1,-17.38l1,-12.36l1,-3.03l1,-.87l1,-.37l1,-.03l1,.29l1,.74l1,2.69l1,9.91l1,17.07l1,15.89l1,12.22l1,7.06l1,2.84l1,1.7l1,.39l1,.45l1,.48l1,-.01l1,.12l1,.49l1,.03l1,.16l1,.27l1,-.16l1,.05l1,-.22l1,-.16l1,-.18l1,-.16l1,.16l1,.37l1,-.46l1,-.21l1,-.13l1,.13l1,-.32l1,-.33l1,-.59l1,-.29l1,-.5l1,-.39l1,-.68l1,-2.17l1,-3.13l1,-6.81l1,-12.54l1,-20.83l1,-32.29l1,-40.44l1,-35.81l1,-10.89l1,-1.17l1,-.48l1,-.13l1,.19l1,.58l1,1.51l1,16.5l1,37.35l1,39.35l1,30.63l1,19.33l1,11.13l1,5.23l1,2.83l1,1.74l1,.81l1,1.31l1,.14l1,.19l1,.46l1,.56l1,.07l1,.16l1,0l1,.15l1,.02l1,-.14l1,.16l1,.46l1,.08l1,-.16l1,.16l1,-.05l1,-.16l1,.16l1,.53l1,-.26l1,-.21l1,-.19l1,-.17l1,-.03l1,0l1,-.06l1,-.36l1,-.16l1,-1.28l1,-3.34l1,-5.38l1,-5.38l1,-4.72l1,-1.5l1,-.58l1,-.2l1,-.02l1,.3l1,.58l1,1.31l1,3.84l1,5.52l1,5.97l1,2.96l1,1.95l1,.45l1,.29l1,-.07l1,.11l1,.07l1,.16l1,-.02l1,.16l1,.25l1,.05l1,.16l1,-.18l1,-.16l1,.16l1,.39l1,.21l1,-.04l1,-.12l1,-.16l1,-.07l1,-.11l1,-.16l1,.16l1,-.09l1,.15l1,.26l1,-.32l1,-.16l1,.16l1,-.01l1,-.16l1,.16l1,.11l1,.16l1,-.29l1,-.16l1,.16l1,.38l1,.17l1,-.51l1,-.16l1,.1l1,.18l1,.3l1,.17l1,-.15l1,.15l1,.14l1,-.05l1,-.4l1,-.16l1,.16l1,.35l1,-.44l1,-.2l1,-.12l1,.16l1,.1l1,-.06l1,-.15l1,.15l1,.2l1,-.18l1,-.12l1,.15l1,-.15l1,.15l1,.04l1,-.01l1,-.15l1,.15l1,.3l1,-.02l1,-.07l1,-.16l1,-.15l1,.15l1,.13l1,-.15l1,.06l1,-.07l1,.16l1,.02l1,.08l1,.12l1,.18l1,-.38l1,-.15l1,.15l1,.28l1,-.18l1,-.15l1,.12l1,-.02l1,-.16l1,-.01l1,.16l1,-.11l1,.13l1,-.19l1,-.11l1,.16l1,.26l1,.16l1,-.2l1,-.16l1,.03l1,.15l1,-.09l1,.03l1,-.14l1,.16l1,.36l1,-.1l1,-.04l1,-.39l1,-.16l1,.1l1,-.18l1,-.09l1,.16l1,-.1l1,.09l1,.05l1,-.16l1,.16l1,.08l1,-.17l1,-.16l1,.16l1,.08l1,-.16l1,.14l1,.07l1,-.01l1,.14l1,.05l1,-.1l1,-.03l1,.12l1,-.35l1,-.16l1,.16l1,.11l1,-.3l1,0l1,.15l1,.09l1,-.33l1,-.01l1,-.42l1,-.15l1,-.44l1,-.33l1,-1.63l1,-1.31l1,-.99l1,-.73l1,-.78l1,-.53l1,-.16l1,.11l1,.3l1,.53l1,1.31l1,.83l1,1.34l1,1.09l1,.96l1,.47l1,.33l1,.17l1,-.16l1,.02l1,.33l1,.13l1,-.12l1,-.16l1,.16l1,.48l1,-.04l1,-.36l1,-.15l1,.15l1,.33l1,.07l1,.11l1,-.16l1,.07l1,-.03l1,.12l1,-.11l1,-.16l1,-.1l1,.16l1,-.08l1,.07l1,-.16l1,.1l1,-.16l1,.15l1,.02l1,.16l1,-.12l1,-.16l1,-.02l1,.16l1,-.08l1,-.17l1,-.06l1,.16l1,.43l1,-.49l1,-.16l1,.16l1,-.1l1,.16l1,-.08l1,0l1,.06l1,-.15l1,.13l1,-.15l1,.08l1,.14l1,-.16l1,.02l1,.15l1,.09l1,.15l1,-.13l1,-.53l1,-.16l1,.16l1,-.06l1,-.25l1,-.15l1,.15l1,-.2l1,-.36l1,-.32l1,-.85l1,-3.38l1,-6.12l1,-7.55l1,-9.05l1,-6.35l1,-1.56l1,-.81l1,-.33l1,0l1,.33l1,.81l1,1.61l1,6.41l1,8.92l1,8.51l1,5.03l1,3.17l1,1.26l1,.3l1,.29l1,.23l1,.02l1,0l1,.07l1,.16l1,.1l1,.14l1,.08l1,-.16l1,.06l1,-.15l1,.15l1,.24l1,.3l1,-.03l1,-.44l1,-.16l1,.16l1,.29l1,-.05l1,.02l1,-.16l1,.16l1,.41l1,-.05l1,-.1l1,-.17l1,-.09l1,.09l1,.18l1,.21l1,-.14l1,.13l1,-.08l1,-.43l1,-.16l1,.16l1,.21l1,-.22l1,-.14l1,.16l1,-.06l1,.12l1,.03l1,-.15l1,-.02l1,-.13l1,.16l1,.19l1,-.16l1,0l1,-.12l1,.16l1,.06l1,-.15l1,-.04l1,-.16l1,.1l1,0l1,.14l1,-.15l1,.15l1,-.01l1,.02l1,-.14l1,.15l1,.15l1,.15l1,.17l1,-.13l1,-.09l1,.09l1,.04l1,-.24l1,-.16l1,-.04l1,.16l1,.39l1,-.11l1,-.46l1,-.16l1,.14l1,.25l1,-.11l1,.16l1,-.11l1,-.18l1,-.1l1,.01l1,.16l1,.03l1,.15l1,.21l1,-.29l1,-.16l1,.16l1,.29l1,.04l1,-.14l1,.13l1,.17l1,-.11l1,-.44l1,-.16l1,.03l1,.16l1,.34l1,-.15l1,-.1l1,-.15l1,.13l1,.05l1,.15l1,-.11l1,-.22l1,-.13l1,.15l1,.3l1,-.34l1,-.16l1,.16l1,.26l1,.2l1,-.1l1,-.11l1,.15l1,.18l1,.13l1,-.04l1,.01l1,-.15l1,-.04l1,-.16l1,.13l1,.22l1,.13l1,-.14l1,-.22l1,-.15l1,-.07l1,-.03l1,.16l1,.14l1,.05l1,-.51l1,-.16l1,.16l1,.11l1,.16l1,.02l1,-.16l1,.12l1,.2l1,-.14l1,-.03l1,-.16l1,.06l1,-.08l1,-.16l1,.16l1,.47l1,-.11l1,-.16l1,.08l1,.17l1,.04l1,-.16l1,-.42l1,-.15l1,.11l1,-.16l1,.16l1,.06l1,.15l1,.19l1,-.11l1,-.1l1,-.13l1,.15l1,.13l1,-.33l1,-.18l1,-.09l1,.12l1,.16l1,-.02l1,-.15l1,.15l1,.19l1,-.16l1,-.03l1,-.13l1,-.13l1,.16l1,.16l1,-.16l1,.16l1,.15l1,-.14l1,-.16l1,-.03l1,.16l1,.33l1,-.24l1,-.16l1,.15l1,-.14l1,.16l1,.07l1,-.16l1,-.05l1,.14l1,-.19l1,-.38l1,-.16l1,.16l1,.29l1,-.13l1,-.16l1,.01l1,-.42l1,-.16l1,.05l1,-.16l1,.04l1,-.27l1,-.5l1,-1l1,-2.63l1,-4.86l1,-8.81l1,-12.67l1,-12.75l1,-8.1l1,-1.43l1,-.75l1,-.29l1,.03l1,.37l1,.88l1,2.09l1,9.65l1,13.05l1,11.45l1,8.62l1,4.8l1,1.71l1,.46l1,.52l1,.16l1,.25l1,.36l1,-.22l1,.03l1,.34l1,.16l1,.29l1,-.07l1,-.16l1,.11l1,-.16l1,.16l1,.07l1,.16l1,-.23l1,-.16l1,.16l1,.27l1,-.2l1,-.13l1,.16l1,.04l1,-.07l1,.06l1,.17l1,.1l1,-.21l1,-.15l1,.09l1,.18l1,-.03l1,-.15l1,.16l1,.17l1,-.14l1,.16l1,-.21l1,-.15l1,.15l1,-.02l1,.15l1,-.2l1,-.16l1,.07l1,.16l1,.18l1,-.14l1,-.03l1,-.15l1,.15l1,.3l1,.18l1,-.11l1,-.47l1,-.16l1,.16l1,.41l1,-.1l1,-.16l1,.16l1,.28l1,.01l1,.04l1,-.53l1,-.16l1,.16l1,.28l1,-.4l1,-.16l1,.05l1,.16l1,.17l1,.16l1,.19l1,-.16l1,.05l1,.01l1,-.06l1,.16l1,-.23l1,-.15l1,.07l1,-.2l1,-.16l1,.08l1,.04l1,.15l1,-.16l1,.16l1,.25l1,-.16l1,-.02l1,-.15l1,.02l1,-.14l1,.01l1,.15l1,.28l1,-.2l1,-.21l1,-.13l1,.01l1,.16l1,-.09l1,-.15l1,.09l1,.18l1,-.09l1,-.14l1,.15l1,-.13l1,.13l1,-.16l1,.16l1,.26l1,-.15l1,-.11l1,.16l1,.06l1,.04l1,-.2l1,-.12l1,.11l1,-.04l1,.16l1,.44l1,-.43l1,-.16l1,.04l1,.16l1,-.05l1,-.33l1,-.15l1,.15l1,.12l1,-.15l1,.08l1,-.16l1,.11l1,0l1,-.01l1,-.21l1,-.15l1,-.08l1,-.16l1,.16l1,-.17l1,-.53l1,-.23l1,-.13l1,-1.05l1,-3.09l1,-5.92l1,-8.29l1,-11.33l1,-9.43l1,-3.87l1,-1.17l1,-.48l1,-.13l1,.19l1,.58l1,1.5l1,4.92l1,9.96l1,11.42l1,7.89l1,4.76l1,2.67l1,.79l1,.37l1,.14l1,.15l1,.11l1,.14l1,.19l1,.32l1,-.16l1,.16l1,-.16l1,.16l1,.26l1,-.2l1,-.15l1,.15l1,-.08l1,-.06l1,.06l1,.09l1,-.12l1,.1l1,-.11l1,-.15l1,-.02l1,-.17l1,-.06l1,-.59l1,-.49l1,-.23l1,-.63l1,-.45l1,-.22l1,.09l1,.18l1,.26l1,.43l1,.68l1,.34l1,.38l1,.34l1,.15l1,.12l1,.16l1,.18l1,.1l1,-.07l1,-.07l1,.02l1,.05l1,-.16l1,.04l1,.14l1,.24l1,-.04l1,-.12l1,-.05l1,.16l1,.14l1,-.15l1,.07l1,.07l1,-.16l1,-.25l1,-.16l1,.15l1,.11l1,-.18l1,-.07l1,.15l1,.24l1,-.14l1,-.29l1,-.04l1,.03l1,-.06l1,.17l1,-.41l1,-.16l1,-.41l1,-1.12l1,-1.3l1,-.81l1,-1.17l1,-.48l1,-.3l1,-.16l1,.16l1,.38l1,.58l1,.95l1,1.43l1,1l1,.74l1,.87l1,0l1,-.12l1,.04l1,0l1,.03l1,.35l1,.01l1,.16l1,-.06l1,.01l1,.15l1,-.16l1,-.1l1,.15l1,.05l1,-.47l1,-.16l1,.15l1,-.21l1,-.12l1,-.09l1,-.1l1,.08l1,-.24l1,-.3l1,-.56l1,-2.33l1,-4.42l1,-7.01l1,-8.25l1,-7.98l1,-2.91l1,-1.01l1,-.53l1,-.16l1,.16l1,.53l1,1.24l1,4.08l1,7.88l1,8.6l1,6.42l1,4.15l1,1.53l1,.53l1,.12l1,.16l1,.22l1,.04l1,.22l1,-.12l1,.16l1,-.09l1,.13l1,.01l1,-.24l1,-.19l1,.13l1,-.8l1,-2.41l1,-3.48l1,-4.13l1,-3.52l1,-1.31l1,-.53l1,-.38l1,-.16l1,.16l1,.53l1,1.31l1,2.89l1,4.35l1,4.24l1,1.99l1,1.12l1,.36l1,.16l1,-.01l1,.13l1,-.08l1,-.02l1,.13l1,.48l1,-.02l1,.16l1,.31l1,-.15l1,.04l1,0l.5,0l0,6.5l-.5,0l-1,0l-1,.07l-1,.15l-1,-.07l-1,-.16l-1,-.01l-1,.1l-1,-.03l-1,-.25l-1,-.09l-1,-.14l-1,.09l-1,-.16l-1,-.12l-1,-.16l-1,-.53l-1,-.2l-1,-.5l-1,-.75l-1,-1.31l-1,-1.54l-1,-2.53l-1,.27l-1,2.44l-1,1.55l-1,1.18l-1,.78l-1,.53l-1,.29l-1,.16l-1,.09l-1,-.03l-1,.26l-1,.2l-1,.14l-1,-.14l-1,-.22l-1,.07l-1,.1l-1,-.16l-1,.05l-1,.03l-1,-.3l-1,-.32l-1,.03l-1,-.29l-1,-.32l-1,-.49l-1,-.86l-1,-.74l-1,-1.53l-1,-2.59l-1,-3.65l-1,-5.22l-1,4.85l-1,3.89l-1,2.28l-1,1.5l-1,1.05l-1,.75l-1,.53l-1,.58l-1,.19l-1,.28l-1,.24l-1,.04l-1,-.16l-1,-.05l-1,.13l-1,.5l-1,.16l-1,-.16l-1,-.2l-1,.14l-1,-.05l-1,-.16l-1,.35l-1,.16l-1,-.16l-1,-.03l-1,.16l-1,-.01l-1,.04l-1,.03l-1,-.08l-1,-.12l-1,.03l-1,-.15l-1,-.04l-1,-.13l-1,-.24l-1,-.48l-1,-.62l-1,-.53l-1,-.92l-1,-.91l-1,-1.36l-1,.9l-1,.84l-1,1.09l-1,.82l-1,.57l-1,.3l-1,.4l-1,.19l-1,.14l-1,-.07l-1,.11l-1,.06l-1,.13l-1,.19l-1,-.03l-1,-.08l-1,-.2l-1,-.16l-1,-.01l-1,.16l-1,-.16l-1,.24l-1,.15l-1,-.15l-1,.08l-1,-.15l-1,.09l-1,.16l-1,-.14l-1,-.23l-1,-.14l-1,.14l-1,.1l-1,-.15l-1,-.27l-1,.29l-1,.26l-1,.09l-1,.1l-1,.07l-1,-.12l-1,-.15l-1,-.02l-1,-.08l-1,-.04l-1,-.16l-1,-.07l-1,-.33l-1,-.4l-1,-.3l-1,-.61l-1,-.41l-1,-.38l-1,.17l-1,.5l-1,.29l-1,.51l-1,.26l-1,.45l-1,.09l-1,.23l-1,.26l-1,.12l-1,.02l-1,-.09l-1,-.05l-1,.04l-1,.15l-1,.01l-1,-.22l-1,-.32l-1,-.02l-1,.16l-1,-.15l-1,.16l-1,-.16l-1,-.08l-1,.03l-1,.17l-1,.07l-1,-.16l-1,-.17l-1,.03l-1,-.16l-1,-.29l-1,-.34l-1,-.13l-1,-.48l-1,-.68l-1,-.37l-1,-.49l-1,-1.17l-1,-1.48l-1,-2.95l-1,-4.18l-1,-7.41l-1,6.22l-1,5.08l-1,2.84l-1,1.31l-1,1.5l-1,.7l-1,.57l-1,.51l-1,.15l-1,.28l-1,.43l-1,.19l-1,.27l-1,.03l-1,.05l-1,.19l-1,-.13l-1,-.24l-1,.11l-1,-.03l-1,.03l-1,.04l-1,.16l-1,-.14l-1,.38l-1,.16l-1,-.16l-1,-.03l-1,.27l-1,.16l-1,-.16l-1,-.15l-1,.17l-1,.05l-1,-.07l-1,-.17l-1,-.3l-1,-.1l-1,.24l-1,.15l-1,.14l-1,.16l-1,-.16l-1,-.33l-1,.39l-1,.16l-1,-.16l-1,.04l-1,-.08l-1,.16l-1,-.16l-1,-.15l-1,.15l-1,-.15l-1,-.13l-1,.16l-1,-.15l-1,-.24l-1,-.09l-1,.45l-1,.18l-1,.11l-1,-.16l-1,-.39l-1,-.05l-1,.16l-1,.53l-1,.16l-1,-.16l-1,.14l-1,-.16l-1,-.25l-1,.15l-1,-.15l-1,-.49l-1,.1l-1,.16l-1,.03l-1,.47l-1,.15l-1,-.13l-1,-.22l-1,-.08l-1,0l-1,.23l-1,.16l-1,.04l-1,-.16l-1,-.05l-1,-.15l-1,-.22l-1,.16l-1,.17l-1,.16l-1,-.1l-1,.16l-1,.02l-1,-.15l-1,-.04l-1,.15l-1,-.16l-1,-.15l-1,-.09l-1,-.08l-1,-.08l-1,.16l-1,.23l-1,.15l-1,-.15l-1,-.34l-1,-.16l-1,.16l-1,-.13l-1,.2l-1,.13l-1,-.16l-1,.11l-1,.16l-1,.07l-1,-.16l-1,-.25l-1,-.07l-1,.44l-1,.16l-1,-.16l-1,-.18l-1,.16l-1,-.16l-1,-.22l-1,.14l-1,-.15l-1,-.27l-1,.17l-1,.09l-1,.09l-1,-.16l-1,-.28l-1,.28l-1,.16l-1,-.16l-1,.02l-1,.16l-1,-.08l-1,-.17l-1,.16l-1,-.07l-1,.03l-1,.15l-1,0l-1,.15l-1,-.15l-1,.01l-1,-.16l-1,-.36l-1,-.17l-1,.07l-1,.19l-1,0l-1,-.16l-1,-.14l-1,-.29l-1,-.21l-1,-.35l-1,-.49l-1,-.53l-1,-.33l-1,-.53l-1,-1.3l-1,-1.31l-1,-2.11l-1,-4.66l-1,-6.24l-1,-2.26l-1,7.7l-1,4.75l-1,2.42l-1,1.6l-1,.9l-1,.93l-1,.63l-1,.53l-1,.37l-1,.37l-1,.16l-1,.22l-1,.03l-1,.11l-1,.12l-1,.16l-1,.12l-1,-.07l-1,.16l-1,-.1l-1,.16l-1,-.16l-1,-.22l-1,.22l-1,.15l-1,-.15l-1,.34l-1,.16l-1,-.16l-1,-.29l-1,.08l-1,.06l-1,.16l-1,.01l-1,.14l-1,-.16l-1,-.18l-1,.16l-1,-.14l-1,.01l-1,-.15l-1,.16l-1,.03l-1,-.16l-1,-.23l-1,.08l-1,.47l-1,.16l-1,-.16l-1,.15l-1,.16l-1,-.16l-1,-.52l-1,-.02l-1,.53l-1,.16l-1,-.11l-1,.15l-1,-.15l-1,-.41l-1,.07l-1,.16l-1,.13l-1,-.15l-1,.05l-1,-.03l-1,.16l-1,-.16l-1,.05l-1,.16l-1,0l-1,.14l-1,-.16l-1,.01l-1,.15l-1,-.12l-1,-.17l-1,-.11l-1,.16l-1,-.16l-1,-.07l-1,.16l-1,.05l-1,.16l-1,-.16l-1,-.22l-1,.31l-1,.15l-1,-.15l-1,-.42l-1,.09l-1,.19l-1,.11l-1,.01l-1,.16l-1,-.16l-1,-.42l-1,.14l-1,.23l-1,.16l-1,.05l-1,-.02l-1,-.15l-1,-.17l-1,.15l-1,.07l-1,.16l-1,-.14l-1,.04l-1,-.07l-1,.16l-1,-.16l-1,-.09l-1,.16l-1,-.16l-1,-.42l-1,.53l-1,.16l-1,-.11l-1,-.19l-1,-.42l-1,.53l-1,.16l-1,-.15l-1,-.25l-1,-.23l-1,.18l-1,.15l-1,-.15l-1,.13l-1,-.01l-1,-.16l-1,-.14l-1,.37l-1,.16l-1,-.08l-1,-.14l-1,-.15l-1,.15l-1,.09l-1,-.16l-1,0l-1,.16l-1,-.13l-1,-.13l-1,.05l-1,.16l-1,-.16l-1,-.52l-1,.27l-1,.19l-1,.1l-1,.06l-1,.16l-1,-.16l-1,-.37l-1,.21l-1,.13l-1,.24l-1,.16l-1,-.16l-1,-.03l-1,.16l-1,-.16l-1,-.29l-1,-.09l-1,.12l-1,.22l-1,.15l-1,-.16l-1,.03l-1,-.16l-1,-.41l-1,.32l-1,.16l-1,-.1l-1,.16l-1,-.16l-1,-.5l-1,.54l-1,.15l-1,-.15l-1,.06l-1,-.11l-1,-.19l-1,-.22l-1,.46l-1,.15l-1,-.15l-1,-.48l-1,-.03l-1,.19l-1,.16l-1,-.14l-1,.04l-1,.16l-1,-.16l-1,-.07l-1,.31l-1,.15l-1,-.15l-1,.09l-1,-.09l-1,.1l-1,-.11l-1,.14l-1,-.09l-1,-.17l-1,-.27l-1,.48l-1,.16l-1,-.16l-1,.01l-1,.15l-1,-.15l-1,.15l-1,-.15l-1,-.24l-1,-.16l-1,.26l-1,.16l-1,-.16l-1,-.14l-1,.08l-1,-.16l-1,-.48l-1,.1l-1,.23l-1,.15l-1,-.15l-1,-.21l-1,.33l-1,0l-1,-.14l-1,-.12l-1,0l-1,-.23l-1,-.2l-1,-.26l-1,-.16l-1,-.15l-1,-.53l-1,-.71l-1,-.89l-1,-1.3l-1,-2.31l-1,-2.75l-1,-4.53l-1,-.29l-1,4.86l-1,3.09l-1,2.29l-1,.8l-1,.76l-1,.81l-1,.32l-1,.01l-1,.76l-1,.33l-1,.04l-1,.06l-1,.33l-1,.02l-1,0l-1,-.33l-1,.51l-1,.16l-1,-.06l-1,-.03l-1,-.13l-1,.15l-1,-.16l-1,.03l-1,.16l-1,-.16l-1,.08l-1,.16l-1,-.16l-1,-.08l-1,-.16l-1,.04l-1,.16l-1,-.16l-1,.07l-1,.21l-1,.16l-1,-.12l-1,.03l-1,-.16l-1,-.29l-1,.33l-1,.16l-1,-.16l-1,-.01l-1,.2l-1,.12l-1,-.16l-1,-.34l-1,.46l-1,.16l-1,-.16l-1,-.14l-1,0l-1,.16l-1,-.16l-1,-.29l-1,.15l-1,.08l-1,-.12l-1,0l-1,.14l-1,.15l-1,-.15l-1,-.23l-1,-.09l-1,.21l-1,.16l-1,-.03l-1,.16l-1,-.16l-1,-.38l-1,.18l-1,.11l-1,0l-1,.14l-1,-.16l-1,-.01l-1,-.09l-1,-.16l-1,-.26l-1,-.53l-1,-.41l-1,-.45l-1,-.49l-1,-.81l-1,-.9l-1,-1.31l-1,-1.39l-1,1.47l-1,1.23l-1,.93l-1,.8l-1,.55l-1,.53l-1,.16l-1,.13l-1,.37l-1,.52l-1,.15l-1,.01l-1,-.08l-1,0l-1,.01l-1,.16l-1,-.16l-1,-.01l-1,-.16l-1,.04l-1,.11l-1,-.12l-1,0l-1,.09l-1,.01l-1,-.14l-1,-.06l-1,-.01l-1,-.01l-1,.16l-1,.04l-1,.33l-1,.16l-1,-.16l-1,-.44l-1,.08l-1,.16l-1,-.16l-1,-.12l-1,.16l-1,-.16l-1,.5l-1,.16l-1,-.16l-1,.1l-1,-.11l-1,.03l-1,.09l-1,-.03l-1,-.16l-1,-.15l-1,-.04l-1,.12l-1,-.15l-1,.31l-1,.16l-1,.05l-1,-.16l-1,-.26l-1,-.16l-1,.27l-1,.15l-1,-.15l-1,-.1l-1,-.15l-1,.15l-1,.15l-1,-.15l-1,.16l-1,.16l-1,-.15l-1,-.12l-1,-.12l-1,.21l-1,.13l-1,-.15l-1,-.2l-1,-.05l-1,.14l-1,-.15l-1,-.16l-1,.03l-1,.36l-1,.16l-1,-.12l-1,.15l-1,-.15l-1,-.12l-1,.16l-1,-.16l-1,.13l-1,.16l-1,-.16l-1,.11l-1,-.15l-1,-.16l-1,-.16l-1,-.13l-1,.19l-1,.13l-1,-.16l-1,-.09l-1,-.11l-1,.06l-1,-.05l-1,.53l-1,.16l-1,-.15l-1,-.06l-1,-.16l-1,.15l-1,.16l-1,-.05l-1,.09l-1,-.16l-1,.01l-1,.02l-1,-.16l-1,-.41l-1,.53l-1,.16l-1,.06l-1,-.16l-1,-.46l-1,.44l-1,.16l-1,-.15l-1,-.27l-1,.08l-1,-.01l-1,.16l-1,-.13l-1,-.1l-1,.15l-1,-.15l-1,-.02l-1,-.02l-1,.16l-1,-.15l-1,.16l-1,-.16l-1,.12l-1,.16l-1,-.15l-1,.02l-1,.15l-1,-.16l-1,-.5l-1,-.01l-1,.13l-1,-.15l-1,-.16l-1,.2l-1,.13l-1,-.01l-1,-.07l-1,.05l-1,-.16l-1,-.26l-1,-.21l-1,-.19l-1,-.26l-1,-.54l-1,-.51l-1,-.56l-1,-.88l-1,-1.53l-1,-1.64l-1,-3.61l-1,.37l-1,3.45l-1,2.14l-1,1.24l-1,.75l-1,.74l-1,.29l-1,.39l-1,.3l-1,.05l-1,.14l-1,-.03l-1,-.01l-1,.29l-1,-.03l-1,.03l-1,.16l-1,-.03l-1,-.13l-1,-.21l-1,.17l-1,.09l-1,-.16l-1,.02l-1,-.15l-1,-.4l-1,-.25l-1,.01l-1,.15l-1,-.15l-1,-.18l-1,-.15l-1,.13l-1,-.15l-1,-.31l-1,-.16l-1,-.33l-1,-.29l-1,-.56l-1,-.47l-1,-.58l-1,-.81l-1,-1.24l-1,-.85l-1,-1.31l-1,-1.78l-1,-3.21l-1,-4.34l-1,-8.43l-1,-15.84l-1,-25.51l-1,21.8l-1,17.09l-1,9.27l-1,5.72l-1,2.82l-1,1.99l-1,1.71l-1,1.1l-1,.88l-1,.54l-1,.6l-1,.58l-1,.47l-1,.49l-1,.28l-1,.03l-1,.48l-1,.16l-1,-.15l-1,-.18l-1,.5l-1,.16l-1,.21l-1,.16l-1,-.16l-1,-.34l-1,.53l-1,.16l-1,-.16l-1,-.08l-1,.16l-1,-.14l-1,-.23l-1,.11l-1,.12l-1,-.17l-1,-.19l-1,-.21l-1,-.2l-1,-.51l-1,-.71l-1,-.16l-1,-.3l-1,-.53l-1,-1.21l-1,-1.31l-1,-1.85l-1,-3l-1,-5.73l-1,-10.16l-1,2.78l-1,8.72l-1,4.79l-1,2.94l-1,1.54l-1,1.21l-1,1.51l-1,.74l-1,.56l-1,.29l-1,.15l-1,.24l-1,.29l-1,.29l-1,.13l-1,.33l-1,.15l-1,-.15l-1,0l-1,-.08l-1,.15l-1,-.15l-1,-.02l-1,.38l-1,.16l-1,-.16l-1,-.28l-1,.16l-1,.15l-1,.16l-1,-.11l-1,-.03l-1,.11l-1,.04l-1,-.02l-1,-.16l-1,-.07l-1,.09l-1,-.15l-1,-.05l-1,.53l-1,.16l-1,-.08l-1,-.04l-1,-.16l-1,.03l-1,.1l-1,-.12l-1,-.2l-1,.15l-1,-.16l-1,-.5l-1,-.05l-1,.12l-1,.15l-1,-.08l-1,-.18l-1,-.45l-1,.15l-1,-.08l-1,-.32l-1,-.54l-1,-.16l-1,-.53l-1,-.94l-1,-.52l-1,-.63l-1,-.9l-1,-1.77l-1,-2.19l-1,-4.38l-1,-7.13l-1,-11.96l-1,-.22l-1,12.18l-1,7.1l-1,3.85l-1,2.08l-1,2.08l-1,1.32l-1,.65l-1,.81l-1,.42l-1,.45l-1,.73l-1,.33l-1,.18l-1,0l-1,.2l-1,.22l-1,.13l-1,-.16l-1,-.06l-1,.16l-1,.03l-1,.13l-1,-.03l-1,-.04l-1,.4l-1,.15l-1,-.15l-1,-.1l-1,.46l-1,.16l-1,-.14l-1,.06l-1,-.15l-1,-.29l-1,.53l-1,.16l-1,-.16l-1,0l-1,.16l-1,-.15l-1,-.26l-1,-.06l-1,.16l-1,-.16l-1,.12l-1,-.16l-1,-.21l-1,-.06l-1,.51l-1,.18l-1,.08l-1,-.09l-1,-.17l-1,-.06l-1,.01l-1,-.06l-1,-.16l-1,-.12l-1,.53l-1,.16l-1,-.13l-1,.07l-1,.14l-1,-.07l-1,.16l-1,-.16l-1,.13l-1,.01l-1,-.16l-1,.05l-1,.16l-1,-.16l-1,0l-1,.15l-1,-.15l-1,-.53l-1,-.19l-1,.02l-1,.46l-1,.16l-1,-.16l-1,.1l-1,-.03l-1,.16l-1,-.13l-1,.16l-1,-.15l-1,-.25l-1,.16l-1,.15l-1,-.15l-1,-.15l-1,-.16l-1,-.25l-1,.16l-1,-.16l-1,-.53l-1,-.61l-1,-.21l-1,.09l-1,-.16l-1,-.5l-1,-.2l-1,-.53l-1,-1.08l-1,.16l-1,-.16l-1,-.53l-1,-.5l-1,-.32l-1,-.16l-1,-.53l-1,-.56l-1,.16l-1,-.03l-1,.16l-1,.27l-1,.16l-1,-.09l-1,.3l-1,.15l-1,.4l-1,.19l-1,.11l-1,-.16l-1,.22l-1,.48l-1,.37l-1,.21l-1,.29l-1,.53l-1,.33l-1,.5l-1,.16l-1,-.1l-1,.53l-1,.16l-1,.31l-1,.53l-1,.18l-1,.25l-1,.16l-1,-.16l-1,-.15l-1,.16l-1,.22l-1,.16l-1,-.16l-1,.09l-1,.12l-1,.15l-1,-.16l-1,0l-1,.2l-1,.12l-1,-.15l-1,-.07l-1,.15l-1,-.11l-1,-.19l-1,-.47l-1,.27l-1,.16l-1,-.05l-1,.03l-1,.15l-1,-.16l-1,.3l-1,.16l-1,-.16l-1,-.24l-1,.08l-1,.06l-1,.15l-1,.01l-1,0l-1,-.06l-1,-.16l-1,.06l-1,.16l-1,-.16l-1,-.02l-1,.14l-1,-.16l-1,-.09l-1,-.16l-1,.3l-1,.15l-1,-.15l-1,.01l-1,.16l-1,-.16l-1,-.32l-1,.24l-1,.16l-1,.01l-1,-.06l-1,.16l-1,-.02l-1,-.07l-1,.16l-1,-.14l-1,-.21l-1,.04l-1,-.15l-1,-.03l-1,.14l-1,.16l-1,.02l-1,-.15l-1,.12l-1,.16l-1,-.16l-1,.07l-1,-.16l-1,-.34l-1,-.04l-1,.36l-1,.16l-1,-.13l-1,-.22l-1,.21l-1,.16l-1,-.16l-1,-.42l-1,.38l-1,.16l-1,-.16l-1,-.21l-1,.11l-1,.13l-1,-.03l-1,-.1l-1,.17l-1,.14l-1,.07l-1,-.16l-1,-.08l-1,.04l-1,.13l-1,-.04l-1,.16l-1,-.16l-1,-.53l-1,-.06l-1,-.15l-1,-.08l-1,.3l-1,.16l-1,.32l-1,.16l-1,-.16l-1,-.12l-1,.1l-1,.01l-1,.16l-1,-.16l-1,-.53l-1,.34l-1,.19l-1,.1l-1,.04l-1,-.16l-1,-.53l-1,-.14l-1,.31l-1,.35l-1,.17l-1,.06l-1,-.01l-1,-.16l-1,-.38l-1,.36l-1,.15l-1,-.15l-1,-.2l-1,.07l-1,-.12l-1,-.21l-1,-.14l-1,.16l-1,.29l-1,.16l-1,-.16l-1,.09l-1,.18l-1,.08l-1,-.15l-1,-.4l-1,-.27l-1,.35l-1,.23l-1,.14l-1,-.16l-1,.03l-1,.16l-1,-.16l-1,.05l-1,-.14l-1,.05l-1,-.07l-1,-.03l-1,.19l-1,.15l-1,-.14l-1,.11l-1,-.16l-1,-.31l-1,.08l-1,.25l-1,.16l-1,-.12l-1,-.05l-1,.06l-1,.1l-1,-.15l-1,-.53l-1,-.03l-1,.23l-1,.16l-1,.15l-1,.16l-1,-.16l-1,-.34l-1,.15l-1,-.15l-1,.1l-1,.21l-1,.15l-1,-.15l-1,.05l-1,-.16l-1,-.53l-1,.37l-1,.16l-1,-.04l-1,.16l-1,-.16l-1,-.15l-1,.19l-1,.15l-1,.08l-1,-.11l-1,.15l-1,-.15l-1,.16l-1,-.16l-1,-.17l-1,.07l-1,.18l-1,.16l-1,-.15l-1,-.16l-1,.15l-1,-.15l-1,-.4l-1,.26l-1,.15l-1,-.15l-1,-.04l-1,-.15l-1,.18l-1,.23l-1,.14l-1,-.16l-1,-.39l-1,.1l-1,-.16l-1,.42l-1,.15l-1,-.15l-1,.07l-1,-.12l-1,.16l-1,-.16l-1,.05l-1,.16l-1,-.16l-1,.06l-1,.08l-1,-.16l-1,.03l-1,.16l-1,-.16l-1,-.29l-1,.38l-1,.16l-1,-.16l-1,-.47l-1,.27l-1,.16l-1,-.16l-1,-.11l-1,.16l-1,.15l-1,.01l-1,-.15l-1,-.08l-1,.16l-1,-.16l-1,-.18l-1,.29l-1,.15l-1,-.15l-1,-.14l-1,-.16l-1,-.08l-1,.16l-1,.12l-1,.18l-1,.1l-1,-.15l-1,-.09l-1,.07l-1,.16l-1,-.16l-1,.16l-1,-.09l-1,.01l-1,-.08l-1,.16l-1,-.11l-1,.16l-1,-.16l-1,0l-1,.16l-1,-.14l-1,-.19l-1,.01l-1,-.16l-1,.03l-1,.33l-1,.16l-1,-.16l-1,.08l-1,-.16l-1,.07l-1,.15l-1,.01l-1,-.16l-1,.14l-1,-.04l-1,-.16l-1,-.11l-1,-.03l-1,0l-1,.16l-1,-.13l-1,.1l-1,-.12l-1,.08l-1,.16l-1,-.03l-1,-.04l-1,-.16l-1,-.45l-1,.27l-1,.16l-1,.03l-1,-.06l-1,.16l-1,-.09l-1,.15l-1,-.15l-1,.05l-1,-.16l-1,-.12l-1,.16l-1,-.16l-1,-.53l-1,-.07l-1,-.01l-1,.05l-1,.34l-1,.16l-1,.04l-1,-.16l-1,-.42l-1,-.16l-1,.08l-1,-.09l-1,.47l-1,.16l-1,-.16l-1,-.15l-1,-.15l-1,.14l-1,.15l-1,-.15l-1,-.48l-1,-.15l-1,.1l-1,.15l-1,-.15l-1,-.5l-1,-.1l-1,.24l-1,.5l-1,.16l-1,-.16l-1,-.53l-1,.21l-1,.16l-1,-.16l-1,-.52l-1,.11l-1,.52l-1,.16l-1,-.16l-1,-.52l-1,.08l-1,-.15l-1,.4l-1,.16l-1,-.02l-1,.16l-1,-.16l-1,.07l-1,.14l-1,-.15l-1,.04l-1,.15l-1,-.11l-1,.15l-1,-.04l-1,-.14l-1,-.21l-1,-.06l-1,-.15l-1,.07l-1,.22l-1,.22l-1,.14l-1,-.16l-1,-.24l-1,.53l-1,.16l-1,-.16l-1,-.06l-1,.15l-1,-.15l-1,-.02l-1,.15l-1,-.15l-1,0l-1,.53l-1,.16l-1,-.16l-1,-.34l-1,.09l-1,0l-1,.16l-1,-.16l-1,.28l-1,.16l-1,-.16l-1,-.34l-1,.22l-1,.14l-1,-.13l-1,.31l-1,.16l-1,.05l-1,-.1l-1,.16l-1,-.16l-1,0l-1,.17l-1,.07l-1,-.15l-1,-.33l-1,-.1l-1,.21l-1,.14l-1,-.06l-1,.15l-1,.16l-1,-.02l-1,-.11l-1,-.11l-1,-.18l-1,.2l-1,.16l-1,.01l-1,.05l-1,.09l-1,-.16l-1,-.53l-1,-.11l-1,.23l-1,.15l-1,.1l-1,.16l-1,.06l-1,.11l-1,-.16l-1,-.49l-1,-.08l-1,.16l-1,-.16l-1,-.16l-.5,0z"/>
<path fill="#006ce0" shape-rendering="crispEdges" d="M200.0,1180.05l.5,0l1,0l1,.05l1,.07l1,-.23l1,-.57l1,-.16l1,.16l1,.45l1,.02l1,-.45l1,-.17l1,.17l1,-.06l1,.16l1,-.32l1,-.16l1,.14l1,.1l1,.17l1,-.22l1,-.16l1,.08l1,-.16l1,.09l1,-.21l1,-.13l1,.17l1,-.01l1,-.02l1,.16l1,-.02l1,-.17l1,.17l1,.03l1,-.27l1,-.16l1,.16l1,.3l1,.16l1,-.53l1,-.16l1,-.06l1,-.16l1,-.07l1,-.09l1,.15l1,-.13l1,-.17l1,.17l1,.15l1,-.05l1,.17l1,-.07l1,-.14l1,.13l1,-.27l1,-.17l1,.12l1,-.16l1,.16l1,0l1,-.16l1,.16l1,.24l1,-.21l1,-.16l1,.05l1,.13l1,.21l1,-.11l1,.16l1,.54l1,-.27l1,-.17l1,.04l1,.15l1,-.16l1,-.16l1,.16l1,.56l1,-.5l1,-.17l1,.17l1,-.04l1,.17l1,.31l1,.11l1,-.17l1,.17l1,.05l1,-.15l1,.02l1,-.11l1,-.06l1,.09l1,.18l1,.1l1,-.18l1,-.08l1,.17l1,.4l1,-.14l1,-.12l1,.17l1,.3l1,-.16l1,-.24l1,-.17l1,.17l1,-.16l1,.17l1,.15l1,-.16l1,.16l1,.55l1,-.13l1,-.39l1,-.16l1,.16l1,-.1l1,.17l1,.01l1,.13l1,.21l1,.29l1,-.26l1,-.17l1,.04l1,.16l1,-.22l1,-.14l1,.01l1,-.16l1,.15l1,.27l1,.28l1,-.2l1,-.15l1,-.25l1,-.16l1,.14l1,.23l1,.1l1,-.16l1,.16l1,.28l1,-.07l1,-.04l1,-.16l1,-.17l1,.08l1,-.17l1,.15l1,.24l1,-.21l1,-.16l1,.16l1,.22l1,-.53l1,-.16l1,.16l1,.1l1,.17l1,.06l1,.17l1,.04l1,-.17l1,-.16l1,.16l1,.25l1,-.24l1,-.17l1,.17l1,.34l1,-.14l1,.17l1,-.19l1,-.16l1,-.23l1,-.16l1,.16l1,.35l1,-.17l1,.15l1,.11l1,-.43l1,-.17l1,.17l1,.28l1,-.01l1,-.16l1,.14l1,.2l1,-.11l1,-.5l1,-.17l1,.12l1,.19l1,.07l1,-.17l1,.17l1,-.19l1,-.17l1,.17l1,-.02l1,-.14l1,.08l1,.15l1,-.09l1,-.03l1,-.13l1,.17l1,.21l1,.16l1,-.15l1,-.17l1,-.09l1,-.17l1,.17l1,.14l1,-.02l1,-.16l1,.16l1,-.08l1,-.17l1,.17l1,-.1l1,.16l1,.1l1,.16l1,.28l1,-.18l1,-.17l1,.17l1,-.06l1,-.26l1,-.15l1,.16l1,.3l1,.17l1,.05l1,-.29l1,-.16l1,-.22l1,-.17l1,.1l1,.18l1,.04l1,-.17l1,.17l1,.26l1,-.17l1,-.01l1,-.15l1,.06l1,.18l1,-.07l1,.16l1,.24l1,-.37l1,-.17l1,.17l1,.08l1,-.09l1,-.09l1,.17l1,-.06l1,-.15l1,-.01l1,-.17l1,.17l1,.14l1,-.12l1,.17l1,-.31l1,-.17l1,.17l1,.12l1,.16l1,-.03l1,-.16l1,0l1,-.1l1,.16l1,-.01l1,.16l1,.04l1,.13l1,.01l1,-.37l1,-.16l1,.16l1,.04l1,.15l1,-.12l1,-.04l1,.16l1,.01l1,-.1l1,.17l1,-.36l1,-.17l1,.16l1,.23l1,.24l1,.03l1,-.52l1,-.16l1,.16l1,.29l1,.12l1,.16l1,-.09l1,-.13l1,.06l1,-.16l1,0l1,-.05l1,-.16l1,.09l1,-.07l1,-.17l1,.17l1,.4l1,-.2l1,-.13l1,.17l1,-.16l1,-.16l1,.16l1,.27l1,-.1l1,-.19l1,-.13l1,.16l1,-.09l1,-.17l1,.13l1,.22l1,.32l1,-.55l1,-.16l1,.16l1,.56l1,.02l1,-.55l1,-.17l1,.17l1,.02l1,.16l1,.44l1,-.53l1,-.17l1,.13l1,.05l1,-.16l1,.16l1,.01l1,-.16l1,.04l1,-.17l1,.06l1,.14l1,-.17l1,-.02l1,.17l1,.51l1,-.43l1,-.16l1,.16l1,.04l1,.16l1,.03l1,.04l1,-.35l1,-.17l1,.17l1,-.07l1,.17l1,.22l1,.17l1,-.11l1,-.16l1,-.16l1,.15l1,-.16l1,.16l1,-.13l1,-.17l1,.09l1,.14l1,-.01l1,-.17l1,.17l1,-.11l1,-.16l1,.16l1,-.16l1,.04l1,.16l1,-.04l1,.17l1,.05l1,-.13l1,-.15l1,-.17l1,.17l1,-.14l1,.09l1,.18l1,.08l1,-.19l1,-.1l1,.17l1,.44l1,-.42l1,-.16l1,.16l1,.04l1,-.1l1,.09l1,.18l1,-.15l1,-.07l1,-.16l1,.16l1,.4l1,-.07l1,-.17l1,.17l1,-.08l1,.08l1,-.02l1,-.03l1,-.33l1,-.17l1,-.06l1,.13l1,-.13l1,.17l1,.32l1,-.37l1,-.16l1,.16l1,.48l1,-.03l1,-.14l1,-.2l1,-.17l1,.06l1,.01l1,.15l1,.09l1,-.09l1,-.17l1,.1l1,.02l1,-.11l1,.11l1,-.03l1,-.06l1,-.16l1,.16l1,.2l1,.17l1,.18l1,-.09l1,-.15l1,-.22l1,-.17l1,.17l1,.02l1,.17l1,-.15l1,-.16l1,-.02l1,-.14l1,.15l1,-.09l1,.16l1,.31l1,-.17l1,-.05l1,.1l1,-.14l1,.17l1,-.14l1,-.16l1,.07l1,.17l1,.45l1,-.26l1,-.15l1,-.3l1,-.17l1,.05l1,.17l1,-.02l1,-.17l1,.17l1,.5l1,-.21l1,-.25l1,-.17l1,-.02l1,.16l1,.29l1,-.32l1,-.16l1,.13l1,-.14l1,.16l1,-.16l1,.14l1,.2l1,-.2l1,-.16l1,-.02l1,.16l1,-.01l1,.16l1,.07l1,-.19l1,-.17l1,.16l1,-.14l1,.17l1,.45l1,-.1l1,-.27l1,-.24l1,-.15l1,.17l1,.34l1,.01l1,-.15l1,.16l1,.19l1,-.29l1,-.17l1,.11l1,-.07l1,-.19l1,-.1l1,.1l1,-.16l1,.17l1,.21l1,-.24l1,-.15l1,-.06l1,.1l1,-.14l1,.17l1,.12l1,-.25l1,-.15l1,.1l1,-.16l1,.11l1,.09l1,-.11l1,-.16l1,.16l1,0l1,.16l1,.01l1,.16l1,-.17l1,-.06l1,-.23l1,-.15l1,.16l1,-.11l1,.02l1,-.27l1,-.53l1,-.17l1,-.12l1,-.48l1,-.34l1,-.23l1,-.43l1,-.56l1,-.49l1,-.74l1,-1.39l1,-1.76l1,-2.52l1,-4.79l1,-6.29l1,-9.39l1,-13.35l1,-16.49l1,-17.2l1,-12.48l1,-4.06l1,-1.07l1,-.42l1,-.07l1,.27l1,.74l1,1.7l1,10.08l1,16.06l1,17.73l1,13.87l1,11.07l1,6.95l1,5.49l1,3.34l1,2.02l1,1.38l1,.74l1,1.1l1,.73l1,.3l1,.16l1,.49l1,.22l1,-.09l1,-.07l1,.11l1,.19l1,.4l1,.34l1,-.08l1,-.17l1,.17l1,-.11l1,0l1,-.16l1,.16l1,.53l1,.17l1,.02l1,-.15l1,.12l1,-.12l1,-.42l1,-.16l1,.16l1,-.07l1,-.17l1,.17l1,-.04l1,-.48l1,-.16l1,.16l1,-.17l1,.17l1,.33l1,-.49l1,-.51l1,-.5l1,-.17l1,-.41l1,-.48l1,-.75l1,-.74l1,-1.16l1,-2.42l1,-3.87l1,-4.78l1,-7.85l1,-11l1,-13.12l1,-14.55l1,-11.81l1,-3.39l1,-1.21l1,-.57l1,-.16l1,.16l1,.57l1,1.52l1,6.96l1,14.02l1,14.46l1,12.24l1,9.29l1,6.1l1,4.83l1,2.63l1,1.83l1,1.18l1,.57l1,.54l1,.51l1,.42l1,.32l1,-.13l1,.1l1,.19l1,-.27l1,-.16l1,.16l1,-.08l1,-.26l1,-.16l1,-.2l1,-.17l1,.12l1,-.52l1,-.78l1,-.78l1,-.83l1,-.68l1,-1.52l1,-2.09l1,-2.35l1,-3.82l1,-6.16l1,-10.44l1,-13.42l1,-19.67l1,-25.26l1,-29.52l1,-26.66l1,-13.7l1,-1.65l1,-.67l1,-.24l1,.1l1,.47l1,1.2l1,7.86l1,23.64l1,29.97l1,26.03l1,22.11l1,16.05l1,10.04l1,7.89l1,4.19l1,3.24l1,2.53l1,1.61l1,1.12l1,.74l1,.73l1,1.07l1,.17l1,.16l1,.44l1,.16l1,.53l1,-.06l1,.17l1,.44l1,.33l1,.24l1,-.17l1,.16l1,.25l1,.27l1,-.32l1,-.29l1,-.16l1,.13l1,-.01l1,-.2l1,-.18l1,-.23l1,-.22l1,-.82l1,-1.61l1,-2.87l1,-2.49l1,-3.03l1,-1.32l1,-1.57l1,-.57l1,-.16l1,.16l1,.54l1,.81l1,2.21l1,2.19l1,2.77l1,2.65l1,1.89l1,1.26l1,.56l1,.44l1,.13l1,.19l1,.15l1,.23l1,-.03l1,.3l1,.38l1,-.03l1,.09l1,-.15l1,.16l1,-.03l1,-.22l1,-.13l1,.14l1,.16l1,.13l1,-.17l1,.17l1,.28l1,-.38l1,-.16l1,.16l1,.01l1,-.15l1,.16l1,.5l1,-.51l1,-.17l1,.17l1,.22l1,.16l1,-.11l1,-.17l1,.13l1,-.13l1,-.16l1,-.03l1,.17l1,.23l1,-.21l1,-.17l1,.16l1,-.02l1,.17l1,.51l1,-.15l1,-.42l1,-.17l1,.17l1,-.1l1,-.14l1,.16l1,.07l1,-.14l1,.17l1,.43l1,-.03l1,-.39l1,-.17l1,.17l1,-.15l1,.14l1,-.17l1,.17l1,.32l1,-.14l1,-.13l1,.16l1,.18l1,-.25l1,-.15l1,.16l1,.2l1,-.17l1,.16l1,-.05l1,-.17l1,.17l1,-.2l1,-.18l1,-.08l1,.17l1,.29l1,-.03l1,.17l1,-.03l1,-.16l1,-.15l1,.14l1,-.17l1,.15l1,.25l1,-.36l1,-.17l1,.07l1,.17l1,-.11l1,-.16l1,.16l1,-.13l1,.03l1,-.07l1,.16l1,.36l1,-.28l1,-.16l1,.1l1,-.17l1,.17l1,-.01l1,-.05l1,-.17l1,.17l1,-.09l1,.16l1,.07l1,.16l1,.13l1,-.13l1,.17l1,-.23l1,-.17l1,.05l1,-.05l1,-.17l1,.16l1,.14l1,-.15l1,-.17l1,.17l1,.4l1,-.57l1,-.16l1,.16l1,.16l1,.17l1,.08l1,-.16l1,.16l1,-.14l1,-.17l1,.07l1,-.37l1,-.16l1,0l1,.03l1,.02l1,-.05l1,-.44l1,-.16l1,-.2l1,-.88l1,-.81l1,-1.07l1,-.63l1,-.52l1,-.13l1,.04l1,-.13l1,.2l1,.62l1,1.4l1,.45l1,.61l1,.7l1,.28l1,.45l1,.19l1,-.06l1,.03l1,.39l1,.28l1,-.13l1,.2l1,-.22l1,-.16l1,.13l1,-.03l1,.16l1,-.03l1,-.17l1,.17l1,.21l1,-.3l1,-.16l1,.16l1,.05l1,-.15l1,.02l1,-.17l1,.12l1,.15l1,-.18l1,-.09l1,.16l1,.52l1,-.17l1,-.17l1,-.11l1,-.17l1,.04l1,-.13l1,.05l1,.17l1,.44l1,-.16l1,.12l1,-.17l1,.17l1,-.03l1,-.33l1,-.16l1,.16l1,.1l1,-.1l1,-.16l1,.04l1,-.12l1,-.17l1,.17l1,-.06l1,.16l1,-.26l1,-.16l1,.16l1,.03l1,-.12l1,.17l1,-.29l1,-.25l1,-.27l1,-.16l1,-.27l1,-.15l1,-.41l1,-.43l1,-.94l1,-1.54l1,-2.47l1,-4.38l1,-5.01l1,-6.12l1,-5.79l1,-3.62l1,-1.64l1,-.74l1,-.27l1,.07l1,.43l1,1.01l1,1.68l1,5.06l1,6.63l1,6.01l1,4.81l1,2.76l1,2.18l1,1.77l1,.38l1,.34l1,.57l1,.03l1,.17l1,.18l1,.17l1,.38l1,-.01l1,-.07l1,.16l1,.16l1,.15l1,-.07l1,-.2l1,-.16l1,.17l1,.31l1,-.16l1,.16l1,.23l1,-.05l1,.17l1,-.17l1,-.16l1,.04l1,0l1,-.17l1,.06l1,-.16l1,.16l1,.1l1,-.07l1,-.16l1,.14l1,.23l1,.01l1,-.16l1,-.03l1,-.17l1,.09l1,.08l1,.18l1,-.03l1,-.12l1,-.14l1,.05l1,.17l1,.53l1,.14l1,-.03l1,-.46l1,-.18l1,-.08l1,.04l1,-.15l1,.1l1,.19l1,-.18l1,-.16l1,.16l1,.33l1,.41l1,-.11l1,.01l1,-.03l1,-.22l1,-.13l1,.05l1,-.27l1,-.16l1,.15l1,.11l1,-.17l1,-.04l1,.13l1,.16l1,.2l1,-.04l1,.17l1,.07l1,-.25l1,-.17l1,.07l1,-.07l1,.16l1,.34l1,-.36l1,-.2l1,-.16l1,-.12l1,.17l1,-.02l1,-.15l1,.17l1,.07l1,-.02l1,.17l1,.08l1,-.17l1,.09l1,-.17l1,.07l1,-.16l1,.16l1,.46l1,-.06l1,-.16l1,.17l1,-.01l1,-.44l1,-.17l1,.1l1,.19l1,-.1l1,-.17l1,.17l1,.11l1,.11l1,.07l1,-.07l1,-.16l1,.16l1,.17l1,-.16l1,-.17l1,-.03l1,.14l1,.18l1,-.32l1,-.16l1,.16l1,.07l1,-.18l1,-.09l1,.08l1,-.17l1,.17l1,0l1,-.16l1,.16l1,-.02l1,.16l1,-.09l1,-.16l1,.16l1,.3l1,-.37l1,-.16l1,.15l1,.13l1,.17l1,-.06l1,-.14l1,.16l1,-.11l1,-.17l1,.17l1,.34l1,-.15l1,.05l1,.17l1,-.02l1,-.53l1,-.16l1,.16l1,.31l1,-.16l1,.16l1,-.13l1,.16l1,.11l1,.05l1,.17l1,-.13l1,0l1,-.37l1,-.17l1,.17l1,-.2l1,-.17l1,.17l1,.01l1,.16l1,.15l1,.15l1,-.06l1,-.17l1,.12l1,-.16l1,.1l1,-.09l1,-.17l1,.17l1,-.3l1,-.17l1,.17l1,.4l1,-.1l1,.15l1,-.47l1,-.17l1,.17l1,.28l1,.09l1,.16l1,-.24l1,-.56l1,-.17l1,.17l1,.36l1,.18l1,-.48l1,-.17l1,.17l1,-.09l1,.04l1,-.11l1,.01l1,-.16l1,-.41l1,-.65l1,-.27l1,-.34l1,-.14l1,-.47l1,-1.26l1,-1.05l1,-2.82l1,-4.21l1,-5.67l1,-7.18l1,-8.75l1,-9.21l1,-5.15l1,-1.58l1,-.57l1,-.19l1,.07l1,.43l1,1.07l1,2.93l1,6.19l1,10.04l1,8.53l1,5.8l1,5.4l1,3.36l1,1.94l1,1.6l1,.21l1,.41l1,.57l1,.2l1,.16l1,.43l1,.16l1,.12l1,-.16l1,.16l1,.57l1,-.26l1,-.16l1,.16l1,.45l1,-.09l1,-.16l1,.02l1,-.11l1,.16l1,.02l1,.17l1,.31l1,.11l1,-.16l1,-.2l1,-.16l1,.16l1,.43l1,-.17l1,-.01l1,-.17l1,.17l1,-.12l1,.16l1,.42l1,-.1l1,-.55l1,-.17l1,.15l1,.25l1,.31l1,-.55l1,-.17l1,.17l1,.12l1,-.13l1,.06l1,.17l1,-.02l1,-.09l1,.12l1,.21l1,.04l1,.12l1,-.57l1,-.17l1,.17l1,-.09l1,.09l1,.19l1,.41l1,-.15l1,-.12l1,.12l1,-.27l1,-.15l1,.01l1,-.11l1,-.07l1,.16l1,.35l1,-.17l1,.04l1,-.12l1,.17l1,-.12l1,-.17l1,.17l1,-.14l1,-.17l1,.17l1,.03l1,.16l1,-.02l1,-.06l1,0l1,.17l1,.05l1,-.02l1,.13l1,-.15l1,.12l1,-.16l1,.16l1,.2l1,-.17l1,-.04l1,.15l1,-.43l1,-.16l1,.11l1,-.2l1,-.12l1,.17l1,.15l1,-.18l1,-.15l1,-.01l1,.16l1,.19l1,.07l1,.17l1,.23l1,-.5l1,-.16l1,.1l1,-.16l1,.16l1,.08l1,-.17l1,.17l1,.16l1,-.39l1,-.17l1,.17l1,-.05l1,.17l1,-.05l1,-.18l1,-.08l1,.03l1,.17l1,0l1,-.15l1,.03l1,-.3l1,-.29l1,-.17l1,-.06l1,.17l1,.12l1,-.18l1,-.42l1,-.48l1,-.42l1,-.41l1,-.69l1,-.94l1,-2.04l1,-3.53l1,-4.08l1,-6.38l1,-8.45l1,-8.09l1,-6.71l1,-2.2l1,-1.06l1,-.43l1,-.07l1,.21l1,.57l1,1.41l1,4.97l1,8.12l1,8.55l1,6.94l1,5.46l1,3.94l1,2.2l1,1.54l1,.46l1,.53l1,.53l1,.19l1,.28l1,.22l1,.55l1,-.08l1,-.16l1,.17l1,.47l1,-.27l1,-.16l1,.09l1,.09l1,-.17l1,-.02l1,.17l1,-.04l1,.27l1,.01l1,-.24l1,-.05l1,-.06l1,.08l1,-.06l1,.04l1,-.23l1,-.24l1,-.11l1,-.33l1,-.18l1,-.16l1,-.07l1,.08l1,.17l1,.46l1,.1l1,.23l1,.21l1,.08l1,.04l1,.27l1,.05l1,.1l1,-.01l1,.03l1,-.24l1,.1l1,-.11l1,.16l1,.48l1,.29l1,-.16l1,-.01l1,-.08l1,.17l1,-.17l1,-.16l1,.03l1,.17l1,-.12l1,-.12l1,-.16l1,.16l1,.01l1,.16l1,-.48l1,-.24l1,.03l1,-.03l1,-.02l1,-.02l1,-.11l1,.07l1,-.17l1,-.48l1,-.43l1,-.49l1,-.9l1,-.96l1,-.76l1,-.56l1,-.17l1,.17l1,.33l1,.27l1,.48l1,.74l1,.87l1,.75l1,.65l1,.31l1,.03l1,.1l1,.09l1,-.12l1,.16l1,.08l1,.1l1,.27l1,-.32l1,-.16l1,.16l1,-.06l1,-.19l1,-.1l1,.17l1,.24l1,-.56l1,-.17l1,.17l1,-.04l1,-.56l1,-.16l1,-.35l1,-.27l1,-.53l1,-1.18l1,-2.09l1,-3.93l1,-4.79l1,-5.45l1,-6.74l1,-4.57l1,-1.58l1,-.72l1,-.38l1,-.07l1,.17l1,.56l1,1.59l1,4.33l1,5.87l1,6l1,4.71l1,3.88l1,2.57l1,1.18l1,.9l1,.26l1,.26l1,.34l1,.14l1,.22l1,.11l1,-.34l1,-.12l1,-.17l1,-.06l1,-.68l1,-.51l1,-2.07l1,-2.56l1,-3.23l1,-2.35l1,-1.66l1,-.88l1,-.34l1,-.06l1,.17l1,.46l1,.56l1,1.59l1,2.68l1,3.62l1,2.11l1,1.91l1,.99l1,.71l1,.25l1,.35l1,.27l1,-.16l1,.16l1,.39l1,.48l1,-.04l1,-.11l1,.14l1,-.29l1,-.16l1,.11l1,.03l.5,0l0,6.2l-.5,0l-1,0l-1,0l-1,.23l-1,.14l-1,-.14l-1,.13l-1,.13l-1,-.16l-1,-.14l-1,-.08l-1,0l-1,-.29l-1,-.09l-1,-.17l-1,-.56l-1,0l-1,-.35l-1,-.62l-1,-.79l-1,-.88l-1,-1.82l-1,-1.54l-1,-2.24l-1,-2.42l-1,2.02l-1,2.25l-1,1.88l-1,1.29l-1,.88l-1,.34l-1,.95l-1,.57l-1,.16l-1,.18l-1,.35l-1,0l-1,-.13l-1,0l-1,.06l-1,0l-1,0l-1,-.16l-1,-.4l-1,-.6l-1,0l-1,-.17l-1,-.44l-1,-.5l-1,-.9l-1,-1.6l-1,-.97l-1,-2.11l-1,-3.06l-1,-3.81l-1,-4.57l-1,.74l-1,5.39l-1,3.41l-1,2.46l-1,2.1l-1,.87l-1,1.04l-1,1.07l-1,.62l-1,.3l-1,.54l-1,.52l-1,.26l-1,.18l-1,.13l-1,.28l-1,-.03l-1,-.19l-1,.37l-1,.2l-1,.11l-1,-.17l-1,-.17l-1,.16l-1,-.15l-1,.01l-1,.27l-1,.17l-1,.1l-1,-.02l-1,-.17l-1,.07l-1,-.06l-1,-.33l-1,.17l-1,-.17l-1,-.35l-1,-.07l-1,-.43l-1,-.71l-1,-.43l-1,-.55l-1,-.68l-1,-1.15l-1,.77l-1,.74l-1,.6l-1,.74l-1,.36l-1,.57l-1,.43l-1,.1l-1,.2l-1,.17l-1,.03l-1,.01l-1,-.07l-1,.18l-1,.11l-1,.21l-1,.04l-1,-.04l-1,-.17l-1,-.11l-1,-.16l-1,.12l-1,.22l-1,.17l-1,-.17l-1,-.15l-1,.25l-1,.15l-1,-.17l-1,-.18l-1,.13l-1,.16l-1,-.06l-1,-.18l-1,-.21l-1,-.06l-1,.27l-1,.1l-1,-.15l-1,.13l-1,-.02l-1,-.07l-1,-.25l-1,-.41l-1,-.12l-1,.09l-1,-.24l-1,-.01l-1,-.07l-1,-.25l-1,-.26l-1,-.02l-1,.01l-1,.29l-1,.49l-1,.21l-1,.11l-1,-.06l-1,.08l-1,.17l-1,.08l-1,-.01l-1,-.03l-1,-.06l-1,-.06l-1,-.07l-1,-.22l-1,-.21l-1,.11l-1,.17l-1,-.17l-1,-.19l-1,.34l-1,.16l-1,-.16l-1,-.44l-1,.02l-1,.14l-1,-.16l-1,-.33l-1,0l-1,-.12l-1,-.23l-1,-.42l-1,-.24l-1,-.54l-1,-.68l-1,-.49l-1,-.67l-1,-1.22l-1,-1.57l-1,-1.73l-1,-3.03l-1,-3.94l-1,-5.42l-1,-6.81l-1,3.13l-1,6.26l-1,4.46l-1,3.68l-1,2.43l-1,1.6l-1,1.39l-1,.81l-1,.73l-1,.49l-1,.73l-1,.57l-1,.17l-1,.24l-1,.47l-1,.15l-1,.17l-1,-.16l-1,.02l-1,-.17l-1,-.02l-1,.48l-1,.16l-1,-.03l-1,.06l-1,.39l-1,.16l-1,-.16l-1,-.53l-1,.41l-1,.16l-1,-.09l-1,.11l-1,.16l-1,-.16l-1,.07l-1,.06l-1,.17l-1,-.17l-1,-.07l-1,-.05l-1,.3l-1,.17l-1,-.17l-1,-.05l-1,.15l-1,-.15l-1,-.25l-1,.01l-1,.17l-1,-.17l-1,-.43l-1,.17l-1,.31l-1,.16l-1,-.16l-1,-.28l-1,.16l-1,.16l-1,.18l-1,.08l-1,-.15l-1,.15l-1,.16l-1,-.11l-1,-.03l-1,.17l-1,-.17l-1,-.12l-1,-.14l-1,-.03l-1,.09l-1,-.16l-1,-.17l-1,.21l-1,.16l-1,-.16l-1,-.03l-1,.35l-1,.17l-1,-.05l-1,-.17l-1,-.11l-1,.17l-1,-.17l-1,-.24l-1,.43l-1,.16l-1,0l-1,-.16l-1,-.57l-1,-.07l-1,.07l-1,.31l-1,.17l-1,-.16l-1,.07l-1,.12l-1,-.02l-1,-.17l-1,.16l-1,.16l-1,-.11l-1,.16l-1,-.13l-1,-.02l-1,.16l-1,-.16l-1,-.52l-1,.08l-1,.12l-1,-.17l-1,-.17l-1,.14l-1,0l-1,.19l-1,.26l-1,.15l-1,-.16l-1,-.29l-1,.06l-1,.24l-1,.15l-1,-.1l-1,.07l-1,-.12l-1,.16l-1,-.16l-1,.04l-1,-.17l-1,.13l-1,.07l-1,-.17l-1,-.04l-1,-.08l-1,.17l-1,-.03l-1,-.16l-1,-.48l-1,.16l-1,-.17l-1,-.21l-1,.16l-1,.24l-1,.15l-1,-.17l-1,-.36l-1,.25l-1,.15l-1,-.11l-1,-.19l-1,-.22l-1,-.17l-1,-.2l-1,.13l-1,-.16l-1,-.25l-1,-.27l-1,-.52l-1,-.27l-1,-.74l-1,-.33l-1,-.47l-1,-.68l-1,-.73l-1,-2.01l-1,-1.28l-1,-2.34l-1,-3.98l-1,-5.4l-1,-5.8l-1,-3.81l-1,7.18l-1,5.67l-1,4.32l-1,3.36l-1,1.64l-1,.97l-1,1.4l-1,1.4l-1,.67l-1,.48l-1,.54l-1,.43l-1,.34l-1,.23l-1,-.09l-1,.53l-1,.17l-1,0l-1,.16l-1,-.11l-1,.1l-1,.11l-1,.17l-1,-.06l-1,.27l-1,.15l-1,.01l-1,-.16l-1,.02l-1,.16l-1,.07l-1,.14l-1,-.16l-1,-.17l-1,-.1l-1,.26l-1,.17l-1,-.06l-1,-.16l-1,.07l-1,.11l-1,.06l-1,.17l-1,-.16l-1,.06l-1,.16l-1,-.16l-1,-.03l-1,.16l-1,-.16l-1,-.02l-1,-.03l-1,-.15l-1,-.1l-1,.14l-1,.16l-1,-.16l-1,.02l-1,0l-1,-.06l-1,.17l-1,.01l-1,.09l-1,.15l-1,-.16l-1,-.17l-1,0l-1,-.08l-1,.16l-1,-.16l-1,.14l-1,-.12l-1,-.09l-1,.38l-1,.17l-1,-.14l-1,-.22l-1,-.05l-1,.15l-1,-.05l-1,-.17l-1,-.03l-1,0l-1,-.16l-1,.45l-1,.17l-1,-.17l-1,-.54l-1,.25l-1,.17l-1,.07l-1,-.16l-1,.24l-1,.16l-1,-.16l-1,-.5l-1,-.04l-1,-.13l-1,.24l-1,.14l-1,.31l-1,.17l-1,-.17l-1,-.4l-1,.17l-1,-.11l-1,.03l-1,.17l-1,-.04l-1,-.12l-1,-.17l-1,.18l-1,.16l-1,-.05l-1,-.05l-1,.14l-1,.17l-1,-.17l-1,-.23l-1,.13l-1,.16l-1,-.16l-1,-.05l-1,-.08l-1,-.18l-1,.25l-1,.17l-1,.04l-1,.15l-1,-.16l-1,.01l-1,-.03l-1,-.1l-1,.17l-1,.17l-1,-.17l-1,-.04l-1,-.17l-1,.02l-1,.08l-1,-.17l-1,-.3l-1,.07l-1,-.17l-1,.31l-1,.17l-1,-.17l-1,-.27l-1,.5l-1,.17l-1,.06l-1,-.15l-1,-.26l-1,-.1l-1,.06l-1,.2l-1,.14l-1,.09l-1,-.04l-1,.17l-1,-.17l-1,-.53l-1,-.22l-1,.2l-1,.16l-1,-.14l-1,-.21l-1,.31l-1,.17l-1,-.15l-1,.35l-1,.17l-1,-.14l-1,-.04l-1,.1l-1,0l-1,-.16l-1,-.4l-1,.26l-1,.15l-1,-.16l-1,-.49l-1,.15l-1,-.09l-1,.48l-1,.17l-1,.07l-1,.07l-1,-.08l-1,.16l-1,-.17l-1,-.56l-1,-.02l-1,.55l-1,.17l-1,-.17l-1,-.56l-1,-.03l-1,.16l-1,.19l-1,.24l-1,.14l-1,-.17l-1,-.53l-1,.17l-1,-.16l-1,.11l-1,.3l-1,.16l-1,-.16l-1,-.21l-1,-.17l-1,.14l-1,.19l-1,.1l-1,-.17l-1,-.22l-1,-.09l-1,-.06l-1,.2l-1,.12l-1,-.17l-1,-.45l-1,.14l-1,.1l-1,-.15l-1,.05l-1,-.16l-1,.12l-1,.16l-1,-.16l-1,-.54l-1,.09l-1,.12l-1,-.09l-1,-.27l-1,-.3l-1,-.35l-1,-.62l-1,-.27l-1,-.6l-1,-.79l-1,-1.35l-1,-1.44l-1,-1.69l-1,-3.05l-1,-2.75l-1,-4.77l-1,-2.76l-1,5.01l-1,4.67l-1,3.02l-1,1.96l-1,1.31l-1,1.59l-1,.8l-1,.67l-1,.24l-1,.46l-1,.16l-1,.23l-1,.65l-1,.24l-1,-.1l-1,.13l-1,.17l-1,.22l-1,.12l-1,-.16l-1,.06l-1,.17l-1,-.17l-1,.13l-1,.1l-1,-.16l-1,.09l-1,.19l-1,.17l-1,-.17l-1,.07l-1,.17l-1,-.17l-1,-.24l-1,-.01l-1,.17l-1,.27l-1,.16l-1,-.16l-1,.06l-1,-.17l-1,.13l-1,-.12l-1,-.21l-1,-.44l-1,.25l-1,.57l-1,.17l-1,-.17l-1,.1l-1,.11l-1,-.16l-1,-.44l-1,-.14l-1,.16l-1,-.16l-1,-.15l-1,.16l-1,-.07l-1,.26l-1,.15l-1,-.16l-1,.24l-1,.17l-1,-.17l-1,-.1l-1,.17l-1,-.09l-1,-.18l-1,-.25l-1,-.07l-1,.42l-1,.2l-1,-.13l-1,.11l-1,-.11l-1,-.13l-1,-.19l-1,.02l-1,.07l-1,-.17l-1,-.43l-1,-.56l-1,-.47l-1,-.09l-1,-.31l-1,-.78l-1,-.88l-1,-.92l-1,.73l-1,.68l-1,.81l-1,.59l-1,.39l-1,.51l-1,.19l-1,.18l-1,.34l-1,.26l-1,.16l-1,-.16l-1,.14l-1,-.05l-1,.09l-1,-.04l-1,-.13l-1,.17l-1,.14l-1,-.17l-1,.08l-1,.15l-1,-.05l-1,.16l-1,-.16l-1,-.06l-1,.04l-1,-.09l-1,.18l-1,.17l-1,-.17l-1,-.44l-1,.35l-1,.16l-1,-.16l-1,.05l-1,.16l-1,-.04l-1,-.17l-1,-.09l-1,-.05l-1,.03l-1,.16l-1,-.16l-1,.12l-1,-.17l-1,-.23l-1,.08l-1,.16l-1,-.03l-1,.17l-1,0l-1,.17l-1,-.16l-1,-.24l-1,-.22l-1,.04l-1,.57l-1,.16l-1,-.16l-1,-.13l-1,-.04l-1,-.17l-1,-.1l-1,.21l-1,.13l-1,-.17l-1,-.02l-1,.17l-1,-.17l-1,-.09l-1,.28l-1,.17l-1,-.17l-1,.02l-1,.17l-1,-.17l-1,-.45l-1,.31l-1,.16l-1,-.05l-1,.17l-1,-.17l-1,-.01l-1,.17l-1,-.17l-1,-.43l-1,.49l-1,.16l-1,-.16l-1,-.45l-1,.04l-1,.41l-1,.17l-1,-.17l-1,-.33l-1,.08l-1,.17l-1,-.17l-1,.19l-1,.17l-1,-.02l-1,-.17l-1,-.44l-1,.03l-1,.16l-1,-.16l-1,-.15l-1,.14l-1,-.07l-1,.42l-1,.16l-1,-.08l-1,.13l-1,-.17l-1,-.55l-1,.45l-1,.17l-1,-.17l-1,-.01l-1,-.17l-1,-.43l-1,.16l-1,.07l-1,.17l-1,.17l-1,-.09l-1,.17l-1,.16l-1,-.16l-1,-.17l-1,.17l-1,-.16l-1,-.25l-1,.11l-1,.17l-1,.01l-1,.16l-1,-.16l-1,-.23l-1,.09l-1,.16l-1,-.16l-1,-.52l-1,-.17l-1,.5l-1,.17l-1,-.08l-1,-.18l-1,-.05l-1,0l-1,.16l-1,-.16l-1,-.17l-1,.13l-1,-.2l-1,-.31l-1,-.15l-1,.03l-1,-.04l-1,-.38l-1,-.26l-1,-.56l-1,-.67l-1,-.68l-1,-.92l-1,-1.5l-1,-1.53l-1,-2.98l-1,-2.09l-1,3.28l-1,1.91l-1,1.42l-1,1.39l-1,.81l-1,.72l-1,.7l-1,.31l-1,-.03l-1,.1l-1,.38l-1,.18l-1,.17l-1,-.09l-1,.16l-1,.06l-1,-.05l-1,-.05l-1,-.16l-1,-.29l-1,0l-1,.16l-1,-.16l-1,-.4l-1,-.36l-1,-.31l-1,-.13l-1,-.13l-1,-.21l-1,-.24l-1,-.17l-1,-.23l-1,-.16l-1,-.54l-1,-.65l-1,-.44l-1,-.57l-1,-.84l-1,-.85l-1,-1.03l-1,-1.07l-1,-2.14l-1,-1.74l-1,-2.15l-1,-3.92l-1,-4.36l-1,-7.69l-1,-9.75l-1,-15.78l-1,-20.81l-1,-16.95l-1,25.1l-1,18.53l-1,13.17l-1,10.2l-1,6.01l-1,3.83l-1,3.4l-1,1.68l-1,2.19l-1,.96l-1,1.07l-1,1.3l-1,.89l-1,.8l-1,.56l-1,.17l-1,.71l-1,.56l-1,.17l-1,-.15l-1,-.01l-1,.19l-1,.56l-1,.17l-1,-.17l-1,.08l-1,0l-1,.35l-1,.16l-1,-.16l-1,-.52l-1,.14l-1,.07l-1,-.17l-1,-.25l-1,-.1l-1,-.47l-1,-.59l-1,-.35l-1,-.47l-1,-.8l-1,-1.35l-1,-1.43l-1,-1.53l-1,-1.82l-1,-3.44l-1,-4.83l-1,-6l-1,-9.05l-1,-12.01l-1,7.26l-1,10.45l-1,7.75l-1,4.73l-1,4.43l-1,2.51l-1,1.59l-1,1.64l-1,1.1l-1,.78l-1,.8l-1,.67l-1,.38l-1,.57l-1,.16l-1,.22l-1,.03l-1,.49l-1,.48l-1,.2l-1,.12l-1,-.11l-1,-.19l-1,.1l-1,.01l-1,.28l-1,.49l-1,.16l-1,-.16l-1,.17l-1,-.17l-1,-.22l-1,.2l-1,.14l-1,.1l-1,-.08l-1,.16l-1,.05l-1,-.16l-1,-.09l-1,-.17l-1,.08l-1,-.01l-1,.17l-1,-.17l-1,-.18l-1,-.02l-1,-.16l-1,-.29l-1,-.34l-1,-.34l-1,.06l-1,.08l-1,-.03l-1,-.16l-1,-.33l-1,-.21l-1,-.17l-1,-.3l-1,-.36l-1,-.57l-1,-.94l-1,-1.11l-1,-.68l-1,-1.04l-1,-1.26l-1,-1.57l-1,-2.69l-1,-3.2l-1,-6l-1,-6.95l-1,-10.74l-1,-13.5l-1,5.44l-1,12.7l-1,9.17l-1,6.23l-1,5.14l-1,2.7l-1,2.44l-1,1.5l-1,.99l-1,1.35l-1,1.15l-1,.47l-1,.53l-1,.57l-1,.35l-1,.17l-1,-.12l-1,.36l-1,.61l-1,.54l-1,.17l-1,.04l-1,.21l-1,.33l-1,.16l-1,-.11l-1,.16l-1,-.16l-1,.18l-1,.16l-1,.1l-1,.17l-1,-.17l-1,.11l-1,-.16l-1,-.12l-1,-.14l-1,.17l-1,-.06l-1,-.07l-1,.44l-1,.16l-1,-.16l-1,-.07l-1,.17l-1,-.12l-1,-.19l-1,0l-1,-.12l-1,.14l-1,.51l-1,.16l-1,-.03l-1,-.17l-1,-.32l-1,-.11l-1,.55l-1,.16l-1,-.16l-1,.12l-1,.17l-1,-.14l-1,-.15l-1,-.17l-1,.11l-1,-.07l-1,.05l-1,-.16l-1,.36l-1,.17l-1,-.08l-1,.16l-1,-.16l-1,-.41l-1,-.08l-1,.08l-1,.17l-1,-.11l-1,.09l-1,.36l-1,.16l-1,-.16l-1,-.57l-1,.03l-1,.1l-1,-.13l-1,-.04l-1,.17l-1,-.17l-1,.04l-1,.56l-1,.17l-1,-.17l-1,.14l-1,-.17l-1,-.57l-1,.2l-1,.48l-1,.17l-1,-.17l-1,-.46l-1,.24l-1,.17l-1,-.17l-1,.22l-1,.17l-1,-.17l-1,-.03l-1,.17l-1,-.17l-1,-.29l-1,.05l-1,.17l-1,.02l-1,-.17l-1,-.12l-1,-.13l-1,.52l-1,.17l-1,-.17l-1,-.53l-1,-.11l-1,-.15l-1,.12l-1,.41l-1,.17l-1,-.05l-1,-.18l-1,.17l-1,.14l-1,.16l-1,-.16l-1,-.13l-1,.13l-1,.16l-1,-.17l-1,.16l-1,-.17l-1,-.32l-1,-.16l-1,-.05l-1,-.11l-1,.1l-1,-.02l-1,.52l-1,.17l-1,-.17l-1,-.39l-1,-.15l-1,-.09l-1,.18l-1,.17l-1,.02l-1,.28l-1,.16l-1,-.16l-1,-.14l-1,.16l-1,-.02l-1,.17l-1,-.17l-1,-.56l-1,-.16l-1,.18l-1,.38l-1,.17l-1,-.13l-1,-.03l-1,.12l-1,.16l-1,-.16l-1,.11l-1,-.11l-1,.14l-1,-.16l-1,-.33l-1,.09l-1,.17l-1,-.17l-1,-.22l-1,.24l-1,.16l-1,.05l-1,.17l-1,0l-1,.16l-1,-.16l-1,-.32l-1,.3l-1,.16l-1,-.16l-1,-.25l-1,.17l-1,-.09l-1,.16l-1,-.16l-1,.09l-1,.16l-1,-.16l-1,-.15l-1,-.16l-1,.08l-1,.17l-1,-.17l-1,.16l-1,.06l-1,-.14l-1,.16l-1,-.16l-1,-.35l-1,.11l-1,.26l-1,.16l-1,-.16l-1,-.06l-1,-.09l-1,.17l-1,.15l-1,.17l-1,-.17l-1,-.14l-1,-.09l-1,.17l-1,-.17l-1,.27l-1,.16l-1,-.16l-1,-.21l-1,-.16l-1,-.02l-1,.32l-1,.17l-1,-.12l-1,-.16l-1,-.22l-1,-.22l-1,.17l-1,-.16l-1,.26l-1,.17l-1,-.17l-1,.01l-1,.15l-1,.17l-1,.16l-1,-.16l-1,-.23l-1,.27l-1,.16l-1,-.16l-1,-.12l-1,.16l-1,-.16l-1,.17l-1,.16l-1,-.02l-1,-.16l-1,-.28l-1,.13l-1,.11l-1,.03l-1,-.17l-1,0l-1,.16l-1,-.15l-1,-.26l-1,-.07l-1,.14l-1,.05l-1,-.07l-1,.31l-1,.16l-1,-.11l-1,-.2l-1,-.09l-1,.2l-1,.12l-1,-.17l-1,.16l-1,-.16l-1,.02l-1,.17l-1,-.17l-1,.07l-1,.16l-1,-.16l-1,-.13l-1,.07l-1,-.11l-1,.02l-1,.17l-1,-.17l-1,.12l-1,.17l-1,.03l-1,-.16l-1,-.48l-1,.12l-1,.21l-1,.12l-1,-.16l-1,-.14l-1,.07l-1,-.16l-1,.02l-1,.14l-1,.09l-1,.16l-1,-.16l-1,.14l-1,-.11l-1,.01l-1,-.14l-1,.09l-1,.26l-1,.16l-1,-.16l-1,-.57l-1,.34l-1,.21l-1,.13l-1,-.17l-1,-.28l-1,.16l-1,.17l-1,-.05l-1,-.17l-1,-.15l-1,.14l-1,-.16l-1,0l-1,-.1l-1,.5l-1,.16l-1,-.16l-1,-.45l-1,.44l-1,.17l-1,-.17l-1,-.07l-1,.17l-1,.05l-1,-.16l-1,.17l-1,-.17l-1,-.56l-1,.13l-1,.34l-1,.17l-1,-.16l-1,-.29l-1,.15l-1,-.05l-1,-.17l-1,.36l-1,.16l-1,-.16l-1,.08l-1,.17l-1,-.02l-1,-.16l-1,-.23l-1,-.17l-1,.05l-1,.22l-1,.14l-1,-.16l-1,.2l-1,.12l-1,-.17l-1,-.41l-1,.12l-1,-.09l-1,.17l-1,-.17l-1,.24l-1,.17l-1,-.17l-1,-.3l-1,-.11l-1,.11l-1,.38l-1,.17l-1,-.17l-1,-.18l-1,.03l-1,-.16l-1,-.01l-1,-.16l-1,-.13l-1,.02l-1,.11l-1,-.14l-1,-.09l-1,.24l-1,.16l-1,.01l-1,.17l-1,.06l-1,-.17l-1,.13l-1,-.15l-1,-.25l-1,.31l-1,.17l-1,-.06l-1,.12l-1,-.13l-1,-.15l-1,.16l-1,-.02l-1,.14l-1,-.16l-1,.11l-1,-.01l-1,-.03l-1,.1l-1,.17l-1,-.1l-1,-.18l-1,-.17l-1,.3l-1,.17l-1,.02l-1,-.17l-1,.05l-1,-.03l-1,-.16l-1,.15l-1,-.09l-1,-.1l-1,-.01l-1,.16l-1,-.11l-1,.13l-1,-.16l-1,0l-1,-.16l-1,.03l-1,-.13l-1,.17l-1,.23l-1,.17l-1,-.17l-1,-.1l-1,.07l-1,-.16l-1,-.08l-1,.17l-1,-.11l-1,.17l-1,-.09l-1,.03l-1,.07l-1,.02l-1,-.08l-1,.16l-1,-.08l-1,-.18l-1,-.48l-1,.21l-1,.15l-1,.31l-1,.17l-1,.03l-1,-.17l-1,-.54l-1,.06l-1,-.07l-1,.25l-1,.16l-1,-.16l-1,.26l-1,.16l-1,-.1l-1,.12l-1,-.17l-1,-.19l-1,.17l-1,-.17l-1,-.3l-1,.2l-1,.17l-1,-.01l-1,.16l-1,-.15l-1,-.17l-1,.16l-1,-.16l-1,.03l-1,.17l-1,-.17l-1,-.41l-1,.24l-1,.16l-1,-.16l-1,-.28l-1,-.07l-1,.4l-1,.17l-1,-.17l-1,-.07l-1,.17l-1,-.17l-1,-.37l-1,-.53l-1,.06l-1,.1l-1,.04l-1,.36l-1,.17l-1,-.17l-1,.09l-1,-.16l-1,-.38l-1,.26l-1,.17l-1,-.17l-1,0l-1,-.08l-1,-.09l-1,-.18l-1,.13l-1,-.17l-1,-.28l-1,.35l-1,.16l-1,-.04l-1,-.14l-1,-.06l-1,.16l-1,-.16l-1,-.57l-1,.09l-1,.16l-1,.04l-1,.17l-1,-.11l-1,.16l-1,-.09l-1,.07l-1,.17l-1,-.17l-1,-.12l-1,-.15l-1,-.2l-1,.36l-1,.16l-1,-.16l-1,-.1l-1,.17l-1,-.17l-1,.13l-1,-.16l-1,-.29l-1,.04l-1,.14l-1,.15l-1,.49l-1,.18l-1,.1l-1,-.12l-1,.16l-1,-.17l-1,-.05l-1,.22l-1,.17l-1,-.17l-1,.18l-1,.11l-1,-.16l-1,-.02l-1,.16l-1,-.16l-1,-.18l-1,.16l-1,.09l-1,.17l-1,-.14l-1,.22l-1,.14l-1,-.17l-1,-.54l-1,.26l-1,.17l-1,-.01l-1,-.17l-1,.12l-1,.35l-1,.17l-1,-.09l-1,.16l-1,-.16l-1,.02l-1,.16l-1,-.1l-1,.15l-1,-.12l-1,-.08l-1,0l-.5,0z"/>
<path fill="#4d4d4d" shape-rendering="crispEdges" d="M200.0,1299.10l.5,0l1,-.21l1,-.26l1,-.28l1,-.17l1,.17l1,.34l1,.04l1,-.16l1,.04l1,-.17l1,.17l1,.13l1,-.17l1,.1l1,-.21l1,-.16l1,.16l1,.04l1,-.17l1,.17l1,.26l1,-.25l1,-.3l1,-.16l1,.17l1,.3l1,-.4l1,-.17l1,.07l1,.18l1,-.13l1,.17l1,-.22l1,-.17l1,.17l1,-.09l1,.16l1,0l1,-.16l1,.07l1,-.01l1,-.24l1,-.57l1,-.16l1,.16l1,0l1,-.16l1,-.32l1,-.16l1,.16l1,-.41l1,-.16l1,.02l1,-.33l1,-.17l1,-.35l1,-.21l1,-.13l1,-.36l1,-.56l1,-.17l1,-.51l1,-.16l1,-.03l1,-.52l1,-.56l1,-.37l1,-.6l1,-.56l1,-.41l1,-.57l1,-.16l1,-.11l1,-.56l1,-.22l1,-.57l1,-.16l1,.16l1,.01l1,-.17l1,-.05l1,-.16l1,.16l1,.47l1,-.09l1,.13l1,.22l1,.28l1,-.06l1,.16l1,.57l1,.2l1,.48l1,.07l1,.07l1,.18l1,.36l1,.55l1,.08l1,.18l1,.41l1,0l1,.16l1,.35l1,.31l1,-.15l1,.17l1,.28l1,-.15l1,.17l1,.29l1,.17l1,.13l1,.16l1,.47l1,.13l1,-.17l1,.17l1,.04l1,.15l1,.22l1,.25l1,.18l1,-.22l1,-.13l1,.16l1,.15l1,.08l1,.18l1,.17l1,.16l1,.34l1,.17l1,0l1,-.17l1,.16l1,.26l1,.47l1,-.1l1,.17l1,.32l1,-.16l1,-.11l1,-.17l1,.17l1,.02l1,.16l1,.17l1,-.16l1,.16l1,-.12l1,.04l1,.17l1,.29l1,.17l1,.07l1,-.36l1,-.17l1,.13l1,-.16l1,.16l1,.52l1,.21l1,-.37l1,-.16l1,.15l1,-.41l1,-.17l1,.17l1,.21l1,-.17l1,.07l1,-.26l1,-.15l1,-.2l1,-.16l1,.16l1,.02l1,-.16l1,-.22l1,-.17l1,.17l1,-.13l1,.14l1,-.16l1,-.47l1,-.17l1,-.04l1,.17l1,.07l1,-.53l1,-.17l1,.05l1,-.16l1,-.16l1,.16l1,.43l1,-.1l1,-.45l1,-.37l1,-.17l1,.07l1,-.17l1,.17l1,.1l1,-.36l1,-.17l1,-.04l1,.07l1,-.17l1,.17l1,-.06l1,.11l1,-.11l1,.16l1,.09l1,-.11l1,.03l1,.16l1,.36l1,-.24l1,-.15l1,.15l1,.07l1,.17l1,.43l1,-.16l1,-.17l1,.16l1,.2l1,.16l1,.09l1,.17l1,.21l1,.15l1,.2l1,.06l1,.08l1,-.17l1,.17l1,.07l1,-.17l1,.17l1,.16l1,-.15l1,.06l1,.17l1,.09l1,.16l1,-.02l1,.17l1,-.1l1,.17l1,.41l1,-.17l1,.17l1,.24l1,-.16l1,.15l1,.26l1,-.21l1,-.16l1,.16l1,-.14l1,.02l1,.16l1,-.17l1,.17l1,.56l1,.03l1,.07l1,-.28l1,-.16l1,.09l1,-.16l1,.17l1,.49l1,-.44l1,-.16l1,.16l1,-.1l1,.16l1,.39l1,.13l1,-.16l1,-.02l1,-.48l1,-.17l1,.11l1,-.17l1,.17l1,-.07l1,.07l1,-.17l1,.17l1,.45l1,-.17l1,-.26l1,-.16l1,.06l1,-.11l1,.06l1,-.07l1,.17l1,-.07l1,.16l1,0l1,-.12l1,.17l1,-.11l1,.16l1,.06l1,.15l1,.04l1,.03l1,-.2l1,-.19l1,-.11l1,.17l1,-.11l1,.16l1,.29l1,-.03l1,.16l1,-.08l1,-.42l1,-.17l1,.17l1,.22l1,.16l1,-.1l1,.13l1,-.04l1,-.16l1,.16l1,-.35l1,-.16l1,.16l1,.57l1,-.37l1,-.18l1,-.11l1,-.11l1,.16l1,.25l1,-.39l1,-.17l1,.17l1,-.09l1,.17l1,.51l1,-.51l1,-.17l1,.17l1,-.14l1,.17l1,.42l1,-.16l1,.16l1,-.17l1,.12l1,-.19l1,-.11l1,.16l1,.23l1,-.16l1,.16l1,-.11l1,-.49l1,-.17l1,.06l1,-.03l1,.17l1,.02l1,-.17l1,.09l1,-.16l1,.16l1,-.07l1,-.17l1,.17l1,-.02l1,-.17l1,.14l1,-.15l1,.16l1,-.07l1,-.17l1,-.02l1,.16l1,.43l1,-.31l1,-.42l1,-.17l1,.17l1,.1l1,.15l1,-.16l1,.09l1,-.11l1,-.16l1,-.42l1,-.39l1,-.17l1,-.03l1,-.17l1,.17l1,-.36l1,-.17l1,.08l1,-.03l1,-.16l1,-.51l1,-.16l1,.07l1,-.17l1,-.51l1,-.17l1,.05l1,-.47l1,-.54l1,-.17l1,-.02l1,-.57l1,-.17l1,-.55l1,-.16l1,.16l1,-.33l1,-.75l1,-.57l1,-.31l1,-.17l1,.14l1,-.22l1,-.8l1,-.66l1,-.52l1,-.22l1,-.53l1,-.24l1,-.39l1,-.57l1,-.16l1,-1.1l1,-.57l1,-.16l1,-.22l1,-1.14l1,-.56l1,-.17l1,-.59l1,-1.09l1,-.96l1,-.92l1,-.83l1,-1.23l1,-1.54l1,-1.32l1,-1.45l1,-1.95l1,-2.97l1,-2.24l1,-2.97l1,-3.78l1,-2.68l1,-4.26l1,-4.16l1,-4.15l1,-3.46l1,-5.12l1,-4.16l1,-4.07l1,-4.27l1,-3.44l1,-4.01l1,-2.55l1,-2.16l1,-1.68l1,-1.29l1,-.78l1,-.57l1,-.33l1,-.16l1,.16l1,.57l1,1.17l1,1.55l1,2.01l1,2.05l1,3.24l1,3.84l1,3.42l1,4.42l1,5.39l1,4.01l1,4.92l1,4.67l1,5.3l1,3.94l1,4.61l1,3.15l1,3.8l1,3.75l1,2.77l1,3.08l1,2.2l1,1.82l1,2.03l1,1.97l1,1.24l1,1.17l1,.84l1,1.12l1,.91l1,.79l1,.85l1,.63l1,.22l1,.17l1,.52l1,.61l1,.02l1,.04l1,.17l1,.31l1,.56l1,.1l1,.16l1,.57l1,.38l1,-.05l1,-.17l1,.17l1,.17l1,.1l1,.19l1,.31l1,-.16l1,.16l1,.17l1,.04l1,.05l1,.01l1,.16l1,.26l1,.19l1,.21l1,.16l1,-.1l1,-.11l1,.12l1,-.17l1,.03l1,-.03l1,.16l1,-.07l1,.1l1,.15l1,.21l1,.2l1,-.02l1,-.23l1,-.17l1,.17l1,.29l1,-.17l1,0l1,-.11l1,-.16l1,.16l1,.31l1,-.17l1,.06l1,-.16l1,.17l1,-.02l1,0l1,.16l1,-.14l1,.17l1,-.11l1,.06l1,-.16l1,.16l1,-.2l1,-.17l1,.17l1,-.1l1,.17l1,.34l1,-.19l1,-.11l1,.11l1,-.28l1,-.17l1,.17l1,.47l1,-.11l1,.13l1,.05l1,.14l1,-.1l1,-.22l1,-.12l1,.01l1,.17l1,-.32l1,-.16l1,.16l1,-.11l1,.16l1,.27l1,.12l1,-.07l1,.16l1,-.08l1,.16l1,-.37l1,-.16l1,.16l1,-.05l1,.16l1,.05l1,-.25l1,-.16l1,.17l1,-.17l1,-.17l1,.16l1,-.17l1,.04l1,-.01l1,.17l1,.41l1,-.07l1,.15l1,-.29l1,-.17l1,.07l1,-.17l1,-.06l1,.13l1,.22l1,.05l1,-.06l1,.02l1,0l1,.16l1,-.09l1,-.18l1,-.09l1,.17l1,.24l1,-.22l1,-.17l1,.17l1,.19l1,.17l1,-.01l1,-.54l1,-.17l1,.17l1,.06l1,-.17l1,.01l1,.16l1,.13l1,-.17l1,.07l1,-.17l1,.17l1,.21l1,-.12l1,.16l1,-.04l1,.17l1,-.48l1,-.16l1,.16l1,.32l1,-.16l1,-.13l1,-.17l1,.08l1,.17l1,-.04l1,-.01l1,.15l1,.22l1,.12l1,-.07l1,-.1l1,-.06l1,.16l1,.31l1,.04l1,-.12l1,-.48l1,-.17l1,.17l1,-.08l1,.02l1,-.12l1,-.17l1,.17l1,.01l1,.04l1,.15l1,.24l1,-.13l1,-.17l1,.17l1,-.07l1,-.05l1,.03l1,-.14l1,-.11l1,.16l1,.33l1,.06l1,-.07l1,-.1l1,-.37l1,-.17l1,.06l1,.17l1,-.06l1,-.16l1,.14l1,.16l1,.19l1,-.29l1,-.17l1,.17l1,.09l1,-.15l1,.12l1,.21l1,-.02l1,-.16l1,.01l1,-.17l1,.12l1,-.17l1,.17l1,.4l1,.14l1,-.16l1,-.21l1,-.16l1,.13l1,-.2l1,-.12l1,.12l1,-.17l1,.17l1,.13l1,-.1l1,.16l1,.2l1,-.16l1,.13l1,-.32l1,-.17l1,.17l1,.53l1,-.11l1,-.22l1,-.17l1,-.08l1,.01l1,.14l1,-.02l1,.03l1,-.17l1,-.03l1,.16l1,-.01l1,-.17l1,.09l1,-.17l1,.17l1,.23l1,-.01l1,-.17l1,.17l1,.09l1,-.16l1,.17l1,-.11l1,.14l1,-.12l1,-.17l1,0l1,-.17l1,.17l1,.2l1,-.18l1,-.17l1,.17l1,.08l1,.16l1,-.25l1,-.17l1,-.03l1,.17l1,-.02l1,.17l1,.34l1,-.56l1,-.17l1,.17l1,.03l1,-.17l1,-.03l1,.17l1,.56l1,.04l1,.02l1,-.41l1,-.17l1,-.08l1,-.12l1,.17l1,.55l1,-.3l1,-.18l1,-.09l1,.15l1,.11l1,-.16l1,.16l1,.28l1,-.41l1,-.17l1,.17l1,.15l1,-.22l1,-.17l1,.16l1,.25l1,-.16l1,-.02l1,-.16l1,.12l1,.21l1,-.09l1,.17l1,-.14l1,-.06l1,.09l1,.09l1,-.16l1,.04l1,-.17l1,.17l1,.07l1,-.17l1,-.03l1,.16l1,.31l1,.2l1,-.13l1,-.55l1,-.16l1,.16l1,-.11l1,-.12l1,.16l1,-.16l1,.03l1,.12l1,.21l1,-.08l1,.17l1,-.06l1,-.19l1,-.1l1,.1l1,.19l1,.11l1,-.16l1,-.11l1,-.17l1,-.05l1,.16l1,.38l1,.3l1,.16l1,-.03l1,-.16l1,-.22l1,-.39l1,-.17l1,.17l1,.5l1,-.04l1,-.17l1,.13l1,.17l1,.14l1,-.2l1,-.11l1,.09l1,-.57l1,-.17l1,.17l1,0l1,-.16l1,.16l1,-.05l1,-.11l1,.16l1,.12l1,-.16l1,.17l1,-.07l1,.12l1,.09l1,-.08l1,.02l1,-.16l1,.16l1,.13l1,-.05l1,-.09l1,.07l1,-.17l1,.14l1,-.15l1,-.14l1,-.09l1,.17l1,.32l1,-.16l1,.1l1,-.23l1,-.16l1,.15l1,.22l1,-.16l1,0l1,.16l1,-.16l1,-.12l1,-.1l1,.17l1,.21l1,-.2l1,-.1l1,.16l1,.3l1,0l1,-.29l1,-.16l1,.17l1,-.15l1,.09l1,-.01l1,.16l1,.18l1,-.16l1,.16l1,.08l1,-.16l1,.01l1,-.17l1,0l1,-.16l1,-.03l1,.02l1,.02l1,.17l1,-.09l1,-.09l1,-.17l1,.17l1,.56l1,-.01l1,-.53l1,-.17l1,.17l1,-.07l1,.04l1,-.16l1,.16l1,.33l1,.02l1,-.28l1,-.17l1,.11l1,-.16l1,.16l1,0l1,-.16l1,.04l1,.06l1,-.02l1,.07l1,.06l1,.17l1,.03l1,-.16l1,.17l1,.2l1,-.08l1,.17l1,-.05l1,.16l1,-.28l1,-.17l1,.17l1,-.37l1,-.17l1,.17l1,.34l1,.24l1,0l1,.07l1,-.04l1,-.35l1,-.17l1,.17l1,.5l1,-.53l1,-.17l1,.17l1,.4l1,-.42l1,-.22l1,-.13l1,.16l1,-.12l1,.17l1,-.13l1,.01l1,.16l1,-.06l1,-.17l1,.17l1,.08l1,.13l1,.21l1,-.46l1,-.17l1,-.02l1,.17l1,-.03l1,.17l1,.37l1,-.05l1,-.04l1,-.15l1,.16l1,-.14l1,-.16l1,-.04l1,.14l1,0l1,.14l1,-.03l1,-.16l1,.11l1,-.17l1,.09l1,.19l1,.17l1,.09l1,-.35l1,-.16l1,.11l1,-.26l1,-.16l1,.17l1,-.01l1,-.16l1,.16l1,.57l1,-.02l1,-.34l1,-.17l1,.17l1,.31l1,-.07l1,-.16l1,.02l1,-.03l1,-.06l1,-.04l1,-.13l1,-.03l1,-.17l1,.11l1,.19l1,.47l1,-.48l1,-.16l1,.16l1,.39l1,-.29l1,-.16l1,.16l1,-.08l1,-.17l1,.17l1,-.16l1,-.13l1,.17l1,.39l1,-.24l1,-.17l1,.17l1,-.03l1,.16l1,.1l1,.08l1,-.13l1,.12l1,-.01l1,.05l1,-.16l1,.16l1,-.44l1,-.17l1,.17l1,.37l1,-.17l1,0l1,-.02l1,-.17l1,-.03l1,.03l1,-.16l1,.16l1,.21l1,.03l1,-.02l1,.1l1,.17l1,-.13l1,-.16l1,0l1,-.18l1,-.07l1,.16l1,-.07l1,.02l1,.17l1,-.15l1,-.17l1,.17l1,.08l1,-.16l1,.16l1,-.07l1,.17l1,.4l1,.07l1,-.53l1,-.17l1,-.01l1,-.17l1,.17l1,.44l1,-.14l1,-.17l1,.17l1,-.34l1,-.16l1,.16l1,-.08l1,.16l1,.42l1,-.02l1,-.02l1,.06l1,-.55l1,-.17l1,.17l1,.5l1,-.07l1,-.17l1,.09l1,.17l1,-.53l1,-.17l1,.16l1,-.02l1,-.17l1,.17l1,.28l1,-.16l1,.16l1,.21l1,-.3l1,-.16l1,.16l1,-.02l1,-.17l1,.17l1,-.18l1,-.17l1,.17l1,-.15l1,.17l1,.04l1,-.11l1,.17l1,-.08l1,-.17l1,.17l1,.22l1,.13l1,.04l1,-.32l1,-.17l1,-.05l1,.15l1,.26l1,-.21l1,-.17l1,.17l1,.15l1,-.16l1,.17l1,.46l1,-.13l1,-.16l1,.16l1,-.26l1,-.17l1,.05l1,-.16l1,.16l1,.54l1,-.37l1,-.17l1,.17l1,-.19l1,-.15l1,.16l1,-.09l1,-.09l1,-.16l1,.16l1,0l1,-.16l1,.16l1,.12l1,-.16l1,.17l1,.21l1,-.05l1,-.16l1,-.13l1,.1l1,-.17l1,-.03l1,.16l1,.31l1,-.16l1,.16l1,.23l1,-.16l1,.16l1,-.41l1,-.17l1,.07l1,.17l1,-.07l1,.16l1,.28l1,-.1l1,.02l1,.04l1,.02l1,-.5l1,-.17l1,-.06l1,.07l1,.18l1,-.18l1,-.12l1,.16l1,.12l1,.16l1,-.29l1,-.16l1,.16l1,.34l1,-.17l1,.17l1,-.26l1,-.17l1,.16l1,.26l1,-.17l1,-.17l1,.07l1,.18l1,-.03l1,-.15l1,.17l1,-.2l1,-.17l1,.17l1,.3l1,-.16l1,-.05l1,-.04l1,-.17l1,0l1,.16l1,-.17l1,.09l1,.17l1,.21l1,-.12l1,-.17l1,-.01l1,.16l1,-.12l1,-.17l1,-.01l1,.17l1,.13l1,-.16l1,-.05l1,-.06l1,.16l1,.3l1,.21l1,.1l1,-.26l1,-.45l1,-.17l1,.09l1,-.05l1,.17l1,.23l1,.06l1,-.22l1,-.13l1,.16l1,-.14l1,.17l1,.17l1,-.12l1,-.03l1,.14l1,-.16l1,-.03l1,.17l1,-.22l1,-.17l1,.17l1,.13l1,-.15l1,.01l1,.12l1,-.16l1,.13l1,-.16l1,.15l1,.06l1,-.23l1,-.14l1,.16l1,.04l1,-.17l1,.17l1,.12l1,-.11l1,-.17l1,.04l1,-.07l1,.17l1,.5l1,.1l1,-.1l1,-.22l1,-.32l1,-.17l1,.17l1,.04l1,-.04l1,-.07l1,.16l1,.08l1,-.16l1,.13l1,.22l1,.28l1,-.38l1,-.16l1,-.1l1,-.17l1,.17l1,.24l1,-.16l1,-.06l1,-.16l1,.16l1,-.06l1,.17l1,-.08l1,.16l1,.01l1,.17l1,.19l1,-.04l1,-.52l1,-.16l1,.16l1,.07l1,.17l1,-.01l1,-.16l1,.16l1,.26l1,-.24l1,-.16l1,-.1l1,-.11l1,-.04l1,.15l1,.06l1,.17l1,-.07l1,.17l1,-.18l1,-.18l1,-.08l1,.16l1,-.08l1,.16l1,.22l1,-.22l1,-.14l1,.17l1,.18l1,-.18l1,-.17l1,-.01l1,.16l1,-.06l1,.17l1,.13l1,-.13l1,.11l1,.16l1,.18l1,-.16l1,-.17l1,-.09l1,-.1l1,.12l1,-.16l1,.17l1,.16l1,-.11l1,.15l1,-.21l1,-.16l1,.16l1,.06l1,-.17l1,.15l1,-.31l1,-.16l1,.16l1,.19l1,-.01l1,0l1,-.24l1,-.15l1,.17l1,.1l1,.16l1,-.13l1,.16l1,-.04l1,.17l1,.27l1,0l1,-.06l1,.14l1,-.08l1,-.17l1,-.28l1,-.2l1,-.11l1,.17l1,.32l1,-.41l1,-.17l1,.14l1,.19l1,-.17l1,.17l1,.51l1,-.55l1,-.17l1,.17l1,-.09l1,-.17l1,.17l1,-.13l1,.17l1,-.08l1,.16l1,.53l1,.01l1,-.04l1,-.57l1,-.16l1,.16l1,.11l1,.16l1,-.17l1,-.06l1,.15l1,0l1,.15l1,-.12l1,-.01l1,.11l1,.07l1,-.17l1,.17l1,-.12l1,-.22l1,-.12l1,.16l1,.12l1,-.13l1,.14l1,-.03l1,.03l1,.06l1,.17l1,.03l1,.15l1,-.21l1,-.25l1,-.15l1,.16l1,-.23l1,-.17l1,.07l1,.17l1,-.12l1,-.16l1,.16l1,.57l1,.01l1,-.24l1,-.16l1,.05l1,-.12l1,-.17l1,.15l1,.25l1,-.09l1,.17l1,.29l1,.22l1,-.55l1,-.16l1,.15l1,-.21l1,-.19l1,-.12l1,.17l1,.34l1,-.16l1,-.06l1,-.16l1,.1l1,.2l1,.45l1,-.15l1,-.35l1,-.16l1,.16l1,-.13l1,.06l1,.03l1,.17l1,-.06l1,-.17l1,.17l1,-.12l1,-.18l1,-.09l1,.17l1,-.04l1,.17l1,-.16l1,.05l1,-.17l1,.17l1,.07l1,-.06l1,.16l1,-.15l1,.16l1,.02l1,-.16l1,.09l1,.12l1,-.24l1,-.17l1,.11l1,-.02l1,.16l1,-.01l1,.16l1,.44l1,-.29l1,-.18l1,-.09l1,-.05l1,.13l1,.01l1,-.16l1,.16l1,-.13l1,-.17l1,.08l1,.11l1,-.2l1,-.12l1,.17l1,.24l1,-.11l1,.16l1,.24l1,.15l1,-.17l1,-.5l1,-.16l1,.16l1,.2l1,-.25l1,-.15l1,.16l1,.57l.5,.3l0,6.2l-.5,0l-1,0l-1,-.17l-1,-.51l-1,.22l-1,.14l-1,-.03l-1,.16l-1,-.01l-1,.16l-1,-.15l-1,-.19l-1,-.18l-1,-.01l-1,-.08l-1,-.17l-1,.33l-1,.17l-1,-.17l-1,.2l-1,.18l-1,.1l-1,-.17l-1,.07l-1,-.17l-1,-.39l-1,.02l-1,.41l-1,.16l-1,-.02l-1,-.06l-1,-.06l-1,.16l-1,-.16l-1,-.57l-1,.55l-1,.16l-1,-.16l-1,-.37l-1,.35l-1,.17l-1,-.14l-1,-.23l-1,-.07l-1,-.16l-1,.15l-1,.17l-1,-.13l-1,.17l-1,.21l-1,.17l-1,-.17l-1,-.36l-1,-.16l-1,.35l-1,.17l-1,-.01l-1,-.16l-1,.04l-1,-.02l-1,-.16l-1,-.29l-1,.14l-1,.17l-1,-.17l-1,.42l-1,.17l-1,-.13l-1,.05l-1,-.17l-1,-.49l-1,.17l-1,.17l-1,.17l-1,-.17l-1,-.41l-1,0l-1,.22l-1,.14l-1,.29l-1,.17l-1,.02l-1,-.03l-1,-.17l-1,-.34l-1,.13l-1,-.16l-1,-.07l-1,.16l-1,-.14l-1,.23l-1,.17l-1,.03l-1,.16l-1,-.09l-1,-.19l-1,.1l-1,.17l-1,-.17l-1,-.32l-1,.17l-1,.03l-1,-.17l-1,.05l-1,.21l-1,.13l-1,-.13l-1,.16l-1,-.17l-1,-.36l-1,-.02l-1,.09l-1,-.15l-1,.13l-1,.08l-1,-.17l-1,.17l-1,.18l-1,.09l-1,.03l-1,.17l-1,-.17l-1,-.41l-1,.05l-1,.15l-1,-.16l-1,.02l-1,-.16l-1,.5l-1,.16l-1,-.16l-1,-.05l-1,-.1l-1,.2l-1,.1l-1,-.13l-1,-.06l-1,.07l-1,-.1l-1,.17l-1,-.17l-1,-.38l-1,.39l-1,.16l-1,-.15l-1,-.19l-1,.22l-1,.14l-1,-.07l-1,-.18l-1,.08l-1,-.16l-1,-.16l-1,.17l-1,.03l-1,.17l-1,-.17l-1,.1l-1,.16l-1,-.15l-1,.16l-1,.01l-1,-.14l-1,0l-1,0l-1,.03l-1,-.16l-1,.17l-1,-.06l-1,.16l-1,-.16l-1,-.27l-1,-.17l-1,.28l-1,.17l-1,-.17l-1,-.06l-1,.17l-1,-.17l-1,.11l-1,-.1l-1,.02l-1,.17l-1,-.06l-1,-.1l-1,.16l-1,-.04l-1,-.16l-1,.29l-1,.16l-1,-.16l-1,-.36l-1,-.14l-1,.07l-1,.38l-1,.17l-1,-.1l-1,-.14l-1,-.17l-1,-.15l-1,.18l-1,.12l-1,-.17l-1,-.16l-1,-.16l-1,.04l-1,.17l-1,.03l-1,.06l-1,-.16l-1,.13l-1,.16l-1,-.08l-1,.29l-1,.16l-1,-.16l-1,-.51l-1,.48l-1,.17l-1,-.17l-1,.08l-1,-.16l-1,-.54l-1,-.16l-1,-.02l-1,.12l-1,.16l-1,.23l-1,.28l-1,.16l-1,-.17l-1,-.1l-1,.11l-1,-.17l-1,.17l-1,-.17l-1,.09l-1,.17l-1,-.15l-1,.09l-1,-.17l-1,-.2l-1,-.16l-1,.09l-1,.3l-1,.17l-1,-.17l-1,-.4l-1,-.03l-1,.15l-1,-.05l-1,.1l-1,.16l-1,.22l-1,.16l-1,-.16l-1,.08l-1,-.16l-1,-.09l-1,.17l-1,-.13l-1,-.22l-1,-.4l-1,.37l-1,.17l-1,-.17l-1,.35l-1,.16l-1,-.16l-1,-.06l-1,-.09l-1,.13l-1,-.17l-1,-.56l-1,.45l-1,.17l-1,-.17l-1,-.11l-1,.03l-1,.17l-1,-.15l-1,-.24l-1,.18l-1,.16l-1,-.14l-1,.04l-1,.16l-1,-.01l-1,.17l-1,-.17l-1,-.36l-1,.36l-1,.17l-1,-.17l-1,.08l-1,.17l-1,-.17l-1,-.19l-1,.16l-1,-.16l-1,-.14l-1,.35l-1,.16l-1,-.16l-1,-.11l-1,-.17l-1,.21l-1,.17l-1,-.03l-1,.16l-1,-.16l-1,-.57l-1,.03l-1,.34l-1,.17l-1,.07l-1,-.06l-1,.13l-1,-.17l-1,-.5l-1,-.1l-1,.38l-1,.16l-1,0l-1,-.17l-1,-.26l-1,.19l-1,.12l-1,-.17l-1,.36l-1,.17l-1,-.17l-1,-.36l-1,-.18l-1,.05l-1,.17l-1,-.17l-1,.5l-1,.16l-1,-.16l-1,-.38l-1,.16l-1,-.09l-1,.06l-1,.17l-1,0l-1,-.16l-1,.05l-1,.17l-1,-.17l-1,.28l-1,.17l-1,-.05l-1,-.17l-1,-.12l-1,.2l-1,.11l-1,-.17l-1,-.21l-1,-.16l-1,.17l-1,.17l-1,.05l-1,-.17l-1,-.4l-1,-.17l-1,.51l-1,.16l-1,-.16l-1,-.55l-1,.4l-1,.25l-1,.15l-1,-.11l-1,-.08l-1,.01l-1,.16l-1,.14l-1,-.17l-1,.16l-1,-.16l-1,0l-1,.16l-1,-.06l-1,-.17l-1,.16l-1,.07l-1,-.16l-1,-.11l-1,-.16l-1,-.26l-1,.46l-1,.17l-1,-.17l-1,-.41l-1,.1l-1,.09l-1,.14l-1,-.17l-1,.2l-1,.17l-1,-.17l-1,0l-1,.16l-1,-.03l-1,.16l-1,-.16l-1,-.41l-1,-.16l-1,.37l-1,.16l-1,-.16l-1,.17l-1,.15l-1,-.12l-1,-.2l-1,-.14l-1,.29l-1,.16l-1,-.03l-1,-.06l-1,.17l-1,-.06l-1,-.16l-1,-.26l-1,-.02l-1,.08l-1,-.13l-1,.4l-1,.17l-1,-.17l-1,-.56l-1,.01l-1,.17l-1,.06l-1,.01l-1,.08l-1,.17l-1,-.17l-1,.02l-1,-.16l-1,-.26l-1,.16l-1,.16l-1,-.16l-1,.09l-1,-.03l-1,.17l-1,.03l-1,-.14l-1,.17l-1,-.15l-1,-.19l-1,.5l-1,.17l-1,-.17l-1,-.4l-1,.17l-1,.04l-1,-.17l-1,-.11l-1,-.1l-1,.36l-1,.17l-1,-.04l-1,-.15l-1,.04l-1,.21l-1,.12l-1,-.17l-1,-.29l-1,.29l-1,.17l-1,-.17l-1,-.14l-1,.02l-1,-.05l-1,.15l-1,.16l-1,-.16l-1,-.04l-1,.16l-1,-.07l-1,.16l-1,-.16l-1,-.01l-1,-.13l-1,.17l-1,-.17l-1,.2l-1,.11l-1,-.05l-1,-.16l-1,-.24l-1,.17l-1,.13l-1,.17l-1,-.17l-1,-.43l-1,.13l-1,.1l-1,-.17l-1,-.17l-1,.14l-1,-.16l-1,.21l-1,.17l-1,.05l-1,.17l-1,-.09l-1,-.17l-1,-.19l-1,0l-1,-.03l-1,.02l-1,-.12l-1,.16l-1,-.16l-1,.14l-1,.16l-1,-.15l-1,.26l-1,.16l-1,-.16l-1,-.29l-1,.26l-1,.16l-1,-.08l-1,.17l-1,-.17l-1,-.14l-1,-.11l-1,.12l-1,-.01l-1,.16l-1,-.1l-1,.17l-1,-.17l-1,.15l-1,.16l-1,-.17l-1,-.53l-1,.4l-1,.16l-1,-.01l-1,.17l-1,-.02l-1,-.16l-1,.06l-1,.11l-1,-.17l-1,-.33l-1,.21l-1,.14l-1,-.16l-1,-.27l-1,.34l-1,.17l-1,-.17l-1,-.44l-1,0l-1,.06l-1,.02l-1,.26l-1,.22l-1,.13l-1,-.17l-1,-.42l-1,.17l-1,.05l-1,.09l-1,.13l-1,-.05l-1,.17l-1,-.17l-1,-.55l-1,.37l-1,.17l-1,-.17l-1,.11l-1,.17l-1,-.16l-1,-.01l-1,-.17l-1,.2l-1,.17l-1,-.16l-1,.16l-1,-.16l-1,-.4l-1,0l-1,-.14l-1,.56l-1,.17l-1,-.11l-1,-.19l-1,-.06l-1,-.05l-1,.12l-1,.14l-1,-.06l-1,.16l-1,-.16l-1,-.03l-1,.17l-1,-.12l-1,-.2l-1,-.24l-1,.16l-1,-.07l-1,.28l-1,.17l-1,-.17l-1,-.39l-1,.17l-1,-.14l-1,.16l-1,-.16l-1,.33l-1,.16l-1,.02l-1,-.17l-1,-.05l-1,.17l-1,.08l-1,.02l-1,-.17l-1,.17l-1,-.14l-1,-.01l-1,-.07l-1,-.01l-1,-.02l-1,-.16l-1,-.07l-1,.28l-1,.16l-1,-.16l-1,.12l-1,.04l-1,-.16l-1,.11l-1,-.16l-1,.17l-1,.16l-1,-.16l-1,-.38l-1,.03l-1,-.16l-1,-.22l-1,-.08l-1,.02l-1,0l-1,.57l-1,.22l-1,.13l-1,-.17l-1,.1l-1,-.17l-1,.07l-1,-.17l-1,-.11l-1,-.15l-1,.42l-1,.17l-1,-.17l-1,-.03l-1,.08l-1,.17l-1,-.17l-1,-.07l-1,.1l-1,-.16l-1,-.07l-1,.17l-1,.17l-1,-.17l-1,-.56l-1,-.18l-1,.49l-1,.17l-1,-.09l-1,.17l-1,-.17l-1,.05l-1,-.07l-1,.19l-1,.17l-1,-.09l-1,-.18l-1,-.52l-1,.49l-1,.17l-1,-.17l-1,.1l-1,.17l-1,-.17l-1,-.29l-1,-.17l-1,.32l-1,.22l-1,.14l-1,-.17l-1,-.56l-1,.07l-1,.16l-1,-.17l-1,.23l-1,.17l-1,-.17l-1,.09l-1,.16l-1,-.16l-1,0l-1,.16l-1,-.11l-1,-.2l-1,-.41l-1,.16l-1,.12l-1,.39l-1,.17l-1,-.17l-1,-.37l-1,.25l-1,.17l-1,-.17l-1,.08l-1,-.16l-1,-.2l-1,-.06l-1,.24l-1,.17l-1,-.17l-1,.09l-1,.17l-1,-.17l-1,-.52l-1,.13l-1,.01l-1,.56l-1,.16l-1,-.16l-1,.17l-1,-.01l-1,-.17l-1,.04l-1,.17l-1,-.16l-1,-.2l-1,-.04l-1,.2l-1,.11l-1,-.16l-1,-.38l-1,.07l-1,.36l-1,.17l-1,-.06l-1,.03l-1,-.09l-1,-.16l-1,-.23l-1,-.32l-1,.45l-1,.17l-1,-.17l-1,.07l-1,-.05l-1,-.17l-1,-.23l-1,.56l-1,.17l-1,-.09l-1,-.03l-1,.16l-1,-.16l-1,-.57l-1,.04l-1,.17l-1,-.17l-1,.46l-1,.16l-1,-.16l-1,-.03l-1,.12l-1,-.01l-1,0l-1,-.16l-1,-.37l-1,.39l-1,.17l-1,-.17l-1,.12l-1,.17l-1,-.17l-1,-.21l-1,-.16l-1,-.18l-1,.55l-1,.16l-1,-.16l-1,-.21l-1,-.17l-1,-.11l-1,.17l-1,-.14l-1,.17l-1,-.16l-1,.19l-1,.16l-1,-.09l-1,.16l-1,-.16l-1,.12l-1,-.03l-1,.16l-1,-.1l-1,.16l-1,-.16l-1,-.51l-1,.56l-1,.17l-1,-.17l-1,-.2l-1,-.16l-1,-.39l-1,.33l-1,.21l-1,.13l-1,-.06l-1,.05l-1,.14l-1,-.17l-1,-.05l-1,.17l-1,-.15l-1,-.08l-1,.16l-1,-.05l-1,-.06l-1,.07l-1,.17l-1,-.17l-1,-.23l-1,.17l-1,-.07l-1,-.18l-1,.06l-1,-.17l-1,.16l-1,.3l-1,.17l-1,-.17l-1,.1l-1,-.17l-1,-.13l-1,-.04l-1,-.08l-1,.16l-1,-.16l-1,.31l-1,.17l-1,-.17l-1,-.28l-1,-.1l-1,-.06l-1,.32l-1,.17l-1,-.17l-1,-.02l-1,.17l-1,-.17l-1,-.02l-1,.17l-1,-.17l-1,-.3l-1,-.14l-1,-.06l-1,.22l-1,.17l-1,.19l-1,.16l-1,-.14l-1,-.05l-1,.17l-1,-.17l-1,-.08l-1,.18l-1,.1l-1,-.17l-1,-.43l-1,.04l-1,.53l-1,.16l-1,-.16l-1,-.4l-1,.17l-1,.15l-1,.16l-1,-.07l-1,.16l-1,-.16l-1,-.22l-1,-.17l-1,.15l-1,0l-1,.17l-1,-.02l-1,.18l-1,.07l-1,-.17l-1,-.56l-1,.02l-1,.04l-1,.33l-1,.2l-1,.11l-1,-.17l-1,-.55l-1,0l-1,.17l-1,.07l-1,-.16l-1,.1l-1,.16l-1,-.11l-1,.1l-1,.04l-1,.18l-1,.17l-1,-.17l-1,-.56l-1,.11l-1,-.05l-1,.23l-1,.16l-1,-.16l-1,.1l-1,.1l-1,-.17l-1,-.34l-1,0l-1,.16l-1,-.17l-1,.12l-1,-.09l-1,.26l-1,.16l-1,-.16l-1,.26l-1,.17l-1,-.05l-1,-.04l-1,.01l-1,-.17l-1,-.23l-1,.1l-1,.06l-1,-.06l-1,-.15l-1,-.21l-1,.09l-1,.17l-1,-.17l-1,.1l-1,.16l-1,-.16l-1,.1l-1,-.15l-1,.23l-1,.17l-1,-.01l-1,-.16l-1,.05l-1,-.16l-1,-.03l-1,.08l-1,.3l-1,.16l-1,-.16l-1,-.2l-1,.01l-1,-.16l-1,.19l-1,.17l-1,.06l-1,-.16l-1,-.14l-1,.14l-1,.16l-1,-.1l-1,.16l-1,-.16l-1,-.35l-1,.17l-1,.16l-1,-.16l-1,-.2l-1,.19l-1,.1l-1,-.16l-1,-.26l-1,-.01l-1,.5l-1,.17l-1,-.17l-1,-.55l-1,.57l-1,.17l-1,-.17l-1,-.07l-1,.16l-1,-.16l-1,-.24l-1,.08l-1,-.17l-1,-.39l-1,.56l-1,.17l-1,-.17l-1,.05l-1,.16l-1,-.16l-1,-.24l-1,.34l-1,.16l-1,-.16l-1,-.02l-1,-.14l-1,.21l-1,.13l-1,-.17l-1,.01l-1,-.17l-1,-.07l-1,.04l-1,-.17l-1,-.08l-1,.17l-1,-.17l-1,.35l-1,.17l-1,-.17l-1,-.41l-1,.47l-1,.17l-1,-.13l-1,-.18l-1,-.08l-1,-.12l-1,.22l-1,.17l-1,-.05l-1,.16l-1,-.16l-1,-.52l-1,.17l-1,.14l-1,-.09l-1,.15l-1,.16l-1,-.16l-1,-.28l-1,.1l-1,-.17l-1,.15l-1,.17l-1,.17l-1,-.17l-1,-.06l-1,-.16l-1,.19l-1,.16l-1,-.16l-1,-.31l-1,.26l-1,.16l-1,-.16l-1,-.3l-1,.07l-1,-.15l-1,.11l-1,.21l-1,.13l-1,-.16l-1,-.23l-1,-.02l-1,.04l-1,-.1l-1,-.18l-1,-.23l-1,.22l-1,.16l-1,-.16l-1,-.45l-1,.23l-1,.16l-1,-.16l-1,-.07l-1,.08l-1,.03l-1,-.17l-1,-.32l-1,-.18l-1,-.22l-1,-.13l-1,-.05l-1,-.05l-1,0l-1,-.15l-1,.16l-1,-.14l-1,-.24l-1,.01l-1,.17l-1,-.17l-1,-.04l-1,-.15l-1,-.24l-1,-.3l-1,-.17l-1,-.18l-1,-.16l-1,-.53l-1,-.66l-1,-.14l-1,.17l-1,-.17l-1,-.48l-1,-.55l-1,-.45l-1,-.17l-1,-.45l-1,-.38l-1,-.56l-1,-.85l-1,-.84l-1,-.79l-1,-.84l-1,-1.12l-1,-.81l-1,-1.17l-1,-1.04l-1,-1.34l-1,-1.75l-1,-2.08l-1,-1.94l-1,-1.89l-1,-2.41l-1,-3.13l-1,-2.76l-1,-3.79l-1,-3.81l-1,-3.15l-1,-4.6l-1,-3.95l-1,-5.3l-1,-4.67l-1,-4.91l-1,-4.01l-1,-5.4l-1,-4.42l-1,-3.42l-1,-3.83l-1,-3.07l-1,-.52l-1,2.42l-1,3.94l-1,3.45l-1,4.27l-1,4.06l-1,4.16l-1,5.12l-1,3.46l-1,4.15l-1,4.16l-1,4.31l-1,2.68l-1,3.73l-1,3.1l-1,2.24l-1,3.01l-1,2.1l-1,1.94l-1,1.43l-1,1.21l-1,1.52l-1,1.3l-1,1.02l-1,.81l-1,.93l-1,1l-1,1.09l-1,.66l-1,1l-1,.56l-1,.27l-1,.63l-1,.58l-1,.51l-1,.36l-1,.75l-1,.56l-1,.22l-1,.57l-1,.17l-1,.21l-1,.54l-1,.19l-1,.84l-1,.61l-1,.49l-1,.22l-1,.25l-1,.17l-1,.13l-1,.63l-1,.62l-1,.55l-1,.36l-1,.16l-1,-.13l-1,.46l-1,.57l-1,.16l-1,-.04l-1,.22l-1,.34l-1,.44l-1,.17l-1,.47l-1,.17l-1,.25l-1,.16l-1,-.02l-1,.17l-1,.28l-1,.16l-1,-.16l-1,.32l-1,.55l-1,.17l-1,-.05l-1,.17l-1,-.17l-1,.35l-1,.16l-1,.08l-1,.16l-1,-.13l-1,.01l-1,.16l-1,-.16l-1,.08l-1,-.17l-1,.3l-1,.21l-1,.13l-1,-.14l-1,-.24l-1,.43l-1,.16l-1,-.13l-1,-.21l-1,-.19l-1,.22l-1,.37l-1,.16l-1,-.16l-1,-.02l-1,-.07l-1,-.18l-1,-.01l-1,.1l-1,.16l-1,-.09l-1,-.19l-1,-.32l-1,.57l-1,.17l-1,-.07l-1,.16l-1,-.17l-1,.2l-1,.12l-1,-.16l-1,-.23l-1,.17l-1,.04l-1,.16l-1,-.16l-1,.05l-1,.07l-1,-.16l-1,-.41l-1,.44l-1,.16l-1,-.12l-1,-.17l-1,-.2l-1,-.18l-1,-.05l-1,.5l-1,.16l-1,-.16l-1,-.49l-1,.01l-1,.49l-1,.16l-1,.02l-1,.05l-1,-.16l-1,.15l-1,-.06l-1,-.17l-1,.13l-1,-.1l-1,0l-1,.16l-1,-.16l-1,-.13l-1,-.17l-1,.25l-1,.2l-1,.12l-1,-.17l-1,.01l-1,-.16l-1,.09l-1,.17l-1,-.17l-1,-.43l-1,.19l-1,.12l-1,-.06l-1,.03l-1,.26l-1,.16l-1,-.16l-1,-.45l-1,-.17l-1,.19l-1,.17l-1,.1l-1,.16l-1,-.16l-1,-.57l-1,-.14l-1,.15l-1,.56l-1,.17l-1,-.04l-1,.16l-1,-.03l-1,-.13l-1,.16l-1,-.16l-1,-.48l-1,.08l-1,.17l-1,.03l-1,.16l-1,-.09l-1,.16l-1,.16l-1,-.16l-1,-.08l-1,-.16l-1,-.07l-1,.04l-1,.16l-1,-.01l-1,.07l-1,-.17l-1,-.31l-1,.03l-1,.17l-1,.06l-1,-.07l-1,.09l-1,.12l-1,-.15l-1,.17l-1,-.17l-1,-.45l-1,.17l-1,-.02l-1,.16l-1,-.13l-1,-.23l-1,.07l-1,.16l-1,-.16l-1,-.33l-1,.17l-1,-.17l-1,-.33l-1,-.17l-1,.06l-1,.16l-1,-.16l-1,.05l-1,-.17l-1,-.56l-1,.09l-1,.13l-1,.02l-1,.16l-1,-.16l-1,-.43l-1,.1l-1,-.16l-1,-.14l-1,-.12l-1,-.05l-1,.17l-1,-.17l-1,-.56l-1,-.21l-1,-.16l-1,-.11l-1,.2l-1,.12l-1,-.17l-1,-.31l-1,-.26l-1,-.15l-1,.46l-1,.16l-1,-.16l-1,-.42l-1,-.26l-1,.17l-1,.13l-1,-.17l-1,-.16l-1,.11l-1,.17l-1,-.13l-1,.16l-1,-.16l-1,.08l-1,.17l-1,.05l-1,.11l-1,.17l-1,.17l-1,-.17l-1,.2l-1,.36l-1,.17l-1,.06l-1,.17l-1,-.17l-1,-.33l-1,-.09l-1,.41l-1,.23l-1,.28l-1,.16l-1,-.16l-1,.41l-1,.17l-1,.07l-1,.17l-1,-.1l-1,.16l-1,.1l-1,.17l-1,.03l-1,.17l-1,-.1l-1,-.15l-1,.17l-1,-.17l-1,.25l-1,.16l-1,.08l-1,.17l-1,.07l-1,-.17l-1,.07l-1,-.07l-1,.09l-1,.16l-1,.03l-1,.01l-1,-.16l-1,-.09l-1,.17l-1,-.17l-1,0l-1,.02l-1,.16l-1,-.16l-1,-.18l-1,-.16l-1,-.14l-1,.17l-1,-.17l-1,.04l-1,-.03l-1,-.17l-1,-.25l-1,-.16l-1,.14l-1,.06l-1,.16l-1,-.1l-1,-.19l-1,-.09l-1,.16l-1,-.17l-1,-.41l-1,.17l-1,-.02l-1,-.17l-1,-.3l-1,-.17l-1,-.01l-1,-.16l-1,-.57l-1,0l-1,-.16l-1,.14l-1,.17l-1,-.16l-1,-.29l-1,-.45l-1,-.24l-1,.11l-1,-.08l-1,.16l-1,-.07l-1,-.18l-1,-.45l-1,.03l-1,-.17l-1,-.54l-1,-.2l-1,-.01l-1,-.12l-1,-.2l-1,.04l-1,.11l-1,-.17l-1,-.47l-1,.17l-1,-.17l-1,-.55l-1,-.5l-1,.02l-1,-.17l-1,-.56l-1,-.22l-1,.17l-1,-.17l-1,-.52l-1,-.19l-1,-.17l-1,-.56l-1,-.15l-1,-.17l-1,-.48l-1,.06l-1,-.1l-1,-.19l-1,.08l-1,-.06l-1,.26l-1,.15l-1,.34l-1,.17l-1,.28l-1,.17l-1,.83l-1,.57l-1,.16l-1,.08l-1,.42l-1,.57l-1,.72l-1,.56l-1,.16l-1,.24l-1,.57l-1,.16l-1,.41l-1,.46l-1,.16l-1,-.16l-1,.34l-1,.16l-1,.13l-1,.51l-1,.16l-1,.07l-1,.49l-1,.16l-1,-.16l-1,.1l-1,.08l-1,.16l-1,-.04l-1,.57l-1,.17l-1,-.09l-1,-.06l-1,.01l-1,.25l-1,.17l-1,.08l-1,-.17l-1,-.04l-1,-.13l-1,.42l-1,.17l-1,-.17l-1,-.11l-1,-.16l-1,-.11l-1,.41l-1,.17l-1,.02l-1,-.17l-1,.11l-1,.17l-1,-.12l-1,.11l-1,-.13l-1,.16l-1,-.16l-1,-.1l-1,.16l-1,-.11l-1,.03l-1,.18l-1,.08l-1,-.17l-1,.15l-1,-.17l-1,.17l-1,-.16l-1,.07l-1,-.17l-1,-.17l-1,.37l-1,.16l-1,0l-.5,0z"/>
<line x1="685" y1="466" x2="685" y2="1360" stroke="#000" stroke-width="2" stroke-dasharray="8 8.21" shape-rendering="crispEdges"/>
<g font-size="82" fill="#000">
<text x="220.4" y="463">0.2AZC</text>
<text x="220.4" y="649.8">0.1AZC</text>
<text x="215.7" y="907.8">0.05AZC</text>
<text x="215.7" y="1156.5">0.025AZC</text>
<text x="221.4" y="1270.5">g-C<tspan font-size="56" dy="21">3</tspan><tspan dy="-21">N</tspan><tspan font-size="56" dy="21">4</tspan></text>
</g>
<text transform="translate(241.36 114.03) scale(0.7966 1)" font-size="61.52" style="font-family:'DejaVu Sans', sans-serif">&#9670;</text>
<text x="291.7" y="120.8" font-size="82">Ag</text>
<text transform="translate(232.99 219.19) scale(1.0428 1)" font-size="79.60" style="font-family:IPAGothic, 'Liberation Serif', serif" stroke="#000" stroke-width="0.70" stroke-linejoin="round">*</text>
<text x="295.1" y="236.7" font-size="82">ZnO</text>
<text transform="translate(790.46 118.95) scale(1.0153 1)" font-size="56.60" style="font-family:IPAGothic, 'Liberation Serif', serif" stroke="#000" stroke-width="0.70" stroke-linejoin="round">*</text>
<text transform="translate(861.56 160.75) scale(1.0153 1)" font-size="56.60" style="font-family:IPAGothic, 'Liberation Serif', serif" stroke="#000" stroke-width="0.70" stroke-linejoin="round">*</text>
<text transform="translate(913.46 83.80) scale(1.0153 1)" font-size="56.60" style="font-family:IPAGothic, 'Liberation Serif', serif" stroke="#000" stroke-width="0.70" stroke-linejoin="round">*</text>
<text transform="translate(1219.36 245.35) scale(1.0153 1)" font-size="56.60" style="font-family:IPAGothic, 'Liberation Serif', serif" stroke="#000" stroke-width="0.70" stroke-linejoin="round">*</text>
<text transform="translate(1469.66 211.00) scale(1.0153 1)" font-size="56.60" style="font-family:IPAGothic, 'Liberation Serif', serif" stroke="#000" stroke-width="0.70" stroke-linejoin="round">*</text>
<text transform="translate(1638.56 238.60) scale(1.0153 1)" font-size="56.60" style="font-family:IPAGothic, 'Liberation Serif', serif" stroke="#000" stroke-width="0.70" stroke-linejoin="round">*</text>
<text transform="translate(793.66 375.40) scale(1.0153 1)" font-size="56.60" style="font-family:IPAGothic, 'Liberation Serif', serif" stroke="#000" stroke-width="0.70" stroke-linejoin="round">*</text>
<text transform="translate(864.26 417.85) scale(1.0153 1)" font-size="56.60" style="font-family:IPAGothic, 'Liberation Serif', serif" stroke="#000" stroke-width="0.70" stroke-linejoin="round">*</text>
<text transform="translate(916.66 340.80) scale(1.0153 1)" font-size="56.60" style="font-family:IPAGothic, 'Liberation Serif', serif" stroke="#000" stroke-width="0.70" stroke-linejoin="round">*</text>
<text transform="translate(1221.36 452.50) scale(1.0153 1)" font-size="56.60" style="font-family:IPAGothic, 'Liberation Serif', serif" stroke="#000" stroke-width="0.70" stroke-linejoin="round">*</text>
<text transform="translate(1471.66 417.80) scale(1.0153 1)" font-size="56.60" style="font-family:IPAGothic, 'Liberation Serif', serif" stroke="#000" stroke-width="0.70" stroke-linejoin="round">*</text>
<text transform="translate(1644.66 446.00) scale(1.0153 1)" font-size="56.60" style="font-family:IPAGothic, 'Liberation Serif', serif" stroke="#000" stroke-width="0.70" stroke-linejoin="round">*</text>
<text transform="translate(786.86 568.00) scale(1.0153 1)" font-size="56.60" style="font-family:IPAGothic, 'Liberation Serif', serif" stroke="#000" stroke-width="0.70" stroke-linejoin="round">*</text>
<text transform="translate(857.36 609.75) scale(1.0153 1)" font-size="56.60" style="font-family:IPAGothic, 'Liberation Serif', serif" stroke="#000" stroke-width="0.70" stroke-linejoin="round">*</text>
<text transform="translate(909.86 532.90) scale(1.0153 1)" font-size="56.60" style="font-family:IPAGothic, 'Liberation Serif', serif" stroke="#000" stroke-width="0.70" stroke-linejoin="round">*</text>
<text transform="translate(1223.66 640.00) scale(1.0153 1)" font-size="56.60" style="font-family:IPAGothic, 'Liberation Serif', serif" stroke="#000" stroke-width="0.70" stroke-linejoin="round">*</text>
<text transform="translate(1465.16 610.05) scale(1.0153 1)" font-size="56.60" style="font-family:IPAGothic, 'Liberation Serif', serif" stroke="#000" stroke-width="0.70" stroke-linejoin="round">*</text>
<text transform="translate(1638.36 637.95) scale(1.0153 1)" font-size="56.60" style="font-family:IPAGothic, 'Liberation Serif', serif" stroke="#000" stroke-width="0.70" stroke-linejoin="round">*</text>
<text transform="translate(791.36 805.00) scale(1.0153 1)" font-size="56.60" style="font-family:IPAGothic, 'Liberation Serif', serif" stroke="#000" stroke-width="0.70" stroke-linejoin="round">*</text>
<text transform="translate(861.66 846.95) scale(1.0153 1)" font-size="56.60" style="font-family:IPAGothic, 'Liberation Serif', serif" stroke="#000" stroke-width="0.70" stroke-linejoin="round">*</text>
<text transform="translate(912.26 755.80) scale(1.0153 1)" font-size="56.60" style="font-family:IPAGothic, 'Liberation Serif', serif" stroke="#000" stroke-width="0.70" stroke-linejoin="round">*</text>
<text transform="translate(1219.36 881.90) scale(1.0153 1)" font-size="56.60" style="font-family:IPAGothic, 'Liberation Serif', serif" stroke="#000" stroke-width="0.70" stroke-linejoin="round">*</text>
<text transform="translate(1469.66 847.00) scale(1.0153 1)" font-size="56.60" style="font-family:IPAGothic, 'Liberation Serif', serif" stroke="#000" stroke-width="0.70" stroke-linejoin="round">*</text>
<text transform="translate(1642.66 875.10) scale(1.0153 1)" font-size="56.60" style="font-family:IPAGothic, 'Liberation Serif', serif" stroke="#000" stroke-width="0.70" stroke-linejoin="round">*</text>
<text transform="translate(786.76 1039.95) scale(1.0153 1)" font-size="56.60" style="font-family:IPAGothic, 'Liberation Serif', serif" stroke="#000" stroke-width="0.70" stroke-linejoin="round">*</text>
<text transform="translate(857.56 1081.90) scale(1.0153 1)" font-size="56.60" style="font-family:IPAGothic, 'Liberation Serif', serif" stroke="#000" stroke-width="0.70" stroke-linejoin="round">*</text>
<text transform="translate(910.16 1004.40) scale(1.0153 1)" font-size="56.60" style="font-family:IPAGothic, 'Liberation Serif', serif" stroke="#000" stroke-width="0.70" stroke-linejoin="round">*</text>
<text transform="translate(1214.76 1116.90) scale(1.0153 1)" font-size="56.60" style="font-family:IPAGothic, 'Liberation Serif', serif" stroke="#000" stroke-width="0.70" stroke-linejoin="round">*</text>
<text transform="translate(1465.16 1081.95) scale(1.0153 1)" font-size="56.60" style="font-family:IPAGothic, 'Liberation Serif', serif" stroke="#000" stroke-width="0.70" stroke-linejoin="round">*</text>
<text transform="translate(1638.36 1109.00) scale(1.0153 1)" font-size="56.60" style="font-family:IPAGothic, 'Liberation Serif', serif" stroke="#000" stroke-width="0.70" stroke-linejoin="round">*</text>
<text transform="translate(963.89 432.26) scale(0.7756 1)" font-size="46.63" style="font-family:'DejaVu Sans', sans-serif">&#9670;</text>
<text transform="translate(1133.09 449.83) scale(0.7844 1)" font-size="46.11" style="font-family:'DejaVu Sans', sans-serif">&#9670;</text>
<text transform="translate(1687.99 447.67) scale(0.7628 1)" font-size="47.41" style="font-family:'DejaVu Sans', sans-serif">&#9670;</text>
<text transform="translate(961.59 624.50) scale(0.7670 1)" font-size="47.15" style="font-family:'DejaVu Sans', sans-serif">&#9670;</text>
<text transform="translate(1131.09 641.56) scale(0.8026 1)" font-size="45.06" style="font-family:'DejaVu Sans', sans-serif">&#9670;</text>
<text transform="translate(1681.39 638.94) scale(0.7866 1)" font-size="45.98" style="font-family:'DejaVu Sans', sans-serif">&#9670;</text>
<text transform="translate(968.39 866.08) scale(0.7911 1)" font-size="45.71" style="font-family:'DejaVu Sans', sans-serif">&#9670;</text>
<text transform="translate(1131.09 878.63) scale(0.7844 1)" font-size="46.11" style="font-family:'DejaVu Sans', sans-serif">&#9670;</text>
<text transform="translate(1685.79 876.74) scale(0.7866 1)" font-size="45.98" style="font-family:'DejaVu Sans', sans-serif">&#9670;</text>
<text transform="translate(957.09 1095.62) scale(0.7979 1)" font-size="45.32" style="font-family:'DejaVu Sans', sans-serif">&#9670;</text>
<text transform="translate(1126.39 1112.79) scale(0.7934 1)" font-size="45.58" style="font-family:'DejaVu Sans', sans-serif">&#9670;</text>
<text transform="translate(1681.39 1110.32) scale(0.8120 1)" font-size="44.54" style="font-family:'DejaVu Sans', sans-serif">&#9670;</text>
</svg></body></html>
